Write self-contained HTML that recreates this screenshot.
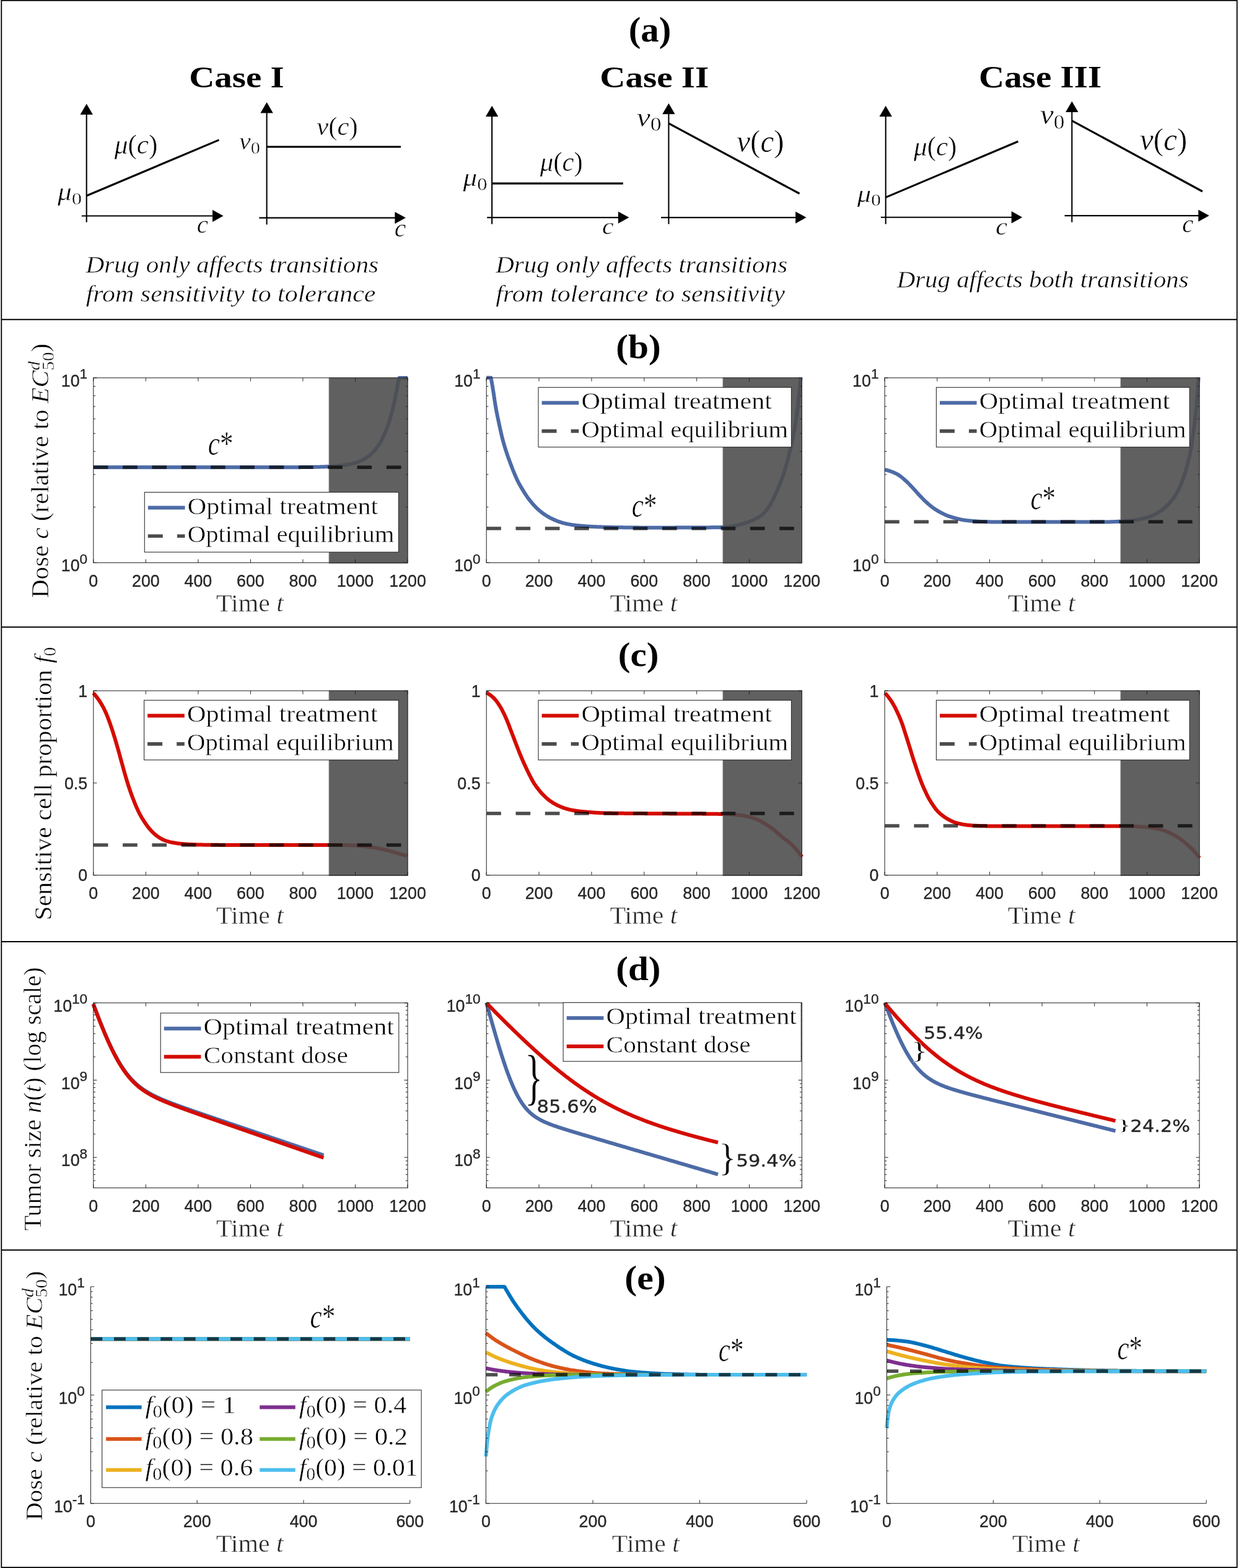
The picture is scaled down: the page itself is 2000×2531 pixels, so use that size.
<!DOCTYPE html><html><head><meta charset="utf-8"><title>Figure</title><style>html,body{margin:0;padding:0;background:#fff}svg{display:block}</style></head><body><svg xmlns="http://www.w3.org/2000/svg" width="2000" height="2531" viewBox="0 0 2000 2531"><rect width="2000" height="2531" fill="#fff"/><rect x="2.3" y="0.8" width="1994.5" height="2529.2" fill="none" stroke="#000" stroke-width="1.8"/>
<line x1="2.30" y1="515.80" x2="1996.80" y2="515.80" stroke="#000" stroke-width="1.9"/>
<line x1="2.30" y1="1012.20" x2="1996.80" y2="1012.20" stroke="#000" stroke-width="1.9"/>
<line x1="2.30" y1="1520.00" x2="1996.80" y2="1520.00" stroke="#000" stroke-width="1.9"/>
<line x1="2.30" y1="2017.70" x2="1996.80" y2="2017.70" stroke="#000" stroke-width="1.9"/>
<text transform="translate(1014.65,66.78) scale(1.0446,1)" fill="#000"><tspan x="0.00" y="0.00" style="font-family:'Liberation Serif';font-size:56.37px;font-weight:bold">(a)</tspan></text>
<text transform="translate(994.23,577.67) scale(1.0617,1)" fill="#000"><tspan x="0.00" y="0.00" style="font-family:'Liberation Serif';font-size:55.93px;font-weight:bold">(b)</tspan></text>
<text transform="translate(997.74,1075.04) scale(1.0734,1)" fill="#000"><tspan x="0.00" y="0.00" style="font-family:'Liberation Serif';font-size:55.16px;font-weight:bold">(c)</tspan></text>
<text transform="translate(994.24,1581.82) scale(1.0695,1)" fill="#000"><tspan x="0.00" y="0.00" style="font-family:'Liberation Serif';font-size:55.27px;font-weight:bold">(d)</tspan></text>
<text transform="translate(1008.20,2080.55) scale(1.0773,1)" fill="#000"><tspan x="0.00" y="0.00" style="font-family:'Liberation Serif';font-size:55.60px;font-weight:bold">(e)</tspan></text>
<text transform="translate(305.25,141.31) scale(1.1532,1)" fill="#000"><tspan x="0.00" y="0.00" style="font-family:'Liberation Serif';font-size:49.40px;font-weight:bold">Case I</tspan></text>
<text transform="translate(968.25,141.40) scale(1.1523,1)" fill="#000"><tspan x="0.00" y="0.00" style="font-family:'Liberation Serif';font-size:49.55px;font-weight:bold">Case II</tspan></text>
<text transform="translate(1580.05,141.40) scale(1.1382,1)" fill="#000"><tspan x="0.00" y="0.00" style="font-family:'Liberation Serif';font-size:50.15px;font-weight:bold">Case III</tspan></text>
<line x1="139.70" y1="358.70" x2="139.70" y2="184.60" stroke="#000" stroke-width="2.1"/>
<line x1="131.80" y1="348.50" x2="343.50" y2="348.50" stroke="#000" stroke-width="2.1"/>
<polygon points="139.70,167.60 129.50,185.10 149.90,185.10" fill="#000"/>
<polygon points="360.50,348.50 343.00,338.81 343.00,358.19" fill="#000"/>
<line x1="430.60" y1="362.50" x2="430.60" y2="181.90" stroke="#000" stroke-width="2.1"/>
<line x1="418.30" y1="351.60" x2="637.90" y2="351.60" stroke="#000" stroke-width="2.1"/>
<polygon points="430.60,164.90 420.40,182.40 440.80,182.40" fill="#000"/>
<polygon points="654.90,351.60 637.40,341.91 637.40,361.29" fill="#000"/>
<line x1="794.10" y1="361.70" x2="794.10" y2="187.70" stroke="#000" stroke-width="2.1"/>
<line x1="786.20" y1="351.10" x2="998.40" y2="351.10" stroke="#000" stroke-width="2.1"/>
<polygon points="794.10,170.70 783.90,188.20 804.30,188.20" fill="#000"/>
<polygon points="1015.40,351.10 997.90,341.41 997.90,360.79" fill="#000"/>
<line x1="1079.40" y1="361.70" x2="1079.40" y2="183.70" stroke="#000" stroke-width="2.1"/>
<line x1="1067.10" y1="351.10" x2="1284.60" y2="351.10" stroke="#000" stroke-width="2.1"/>
<polygon points="1079.40,166.70 1069.20,184.20 1089.60,184.20" fill="#000"/>
<polygon points="1301.60,351.10 1284.10,341.41 1284.10,360.79" fill="#000"/>
<line x1="1429.70" y1="361.70" x2="1429.70" y2="187.70" stroke="#000" stroke-width="2.1"/>
<line x1="1421.80" y1="350.80" x2="1633.20" y2="350.80" stroke="#000" stroke-width="2.1"/>
<polygon points="1429.70,170.70 1419.50,188.20 1439.90,188.20" fill="#000"/>
<polygon points="1650.20,350.80 1632.70,341.11 1632.70,360.49" fill="#000"/>
<line x1="1730.30" y1="358.70" x2="1730.30" y2="180.50" stroke="#000" stroke-width="2.1"/>
<line x1="1718.50" y1="348.10" x2="1934.90" y2="348.10" stroke="#000" stroke-width="2.1"/>
<polygon points="1730.30,163.50 1720.10,181.00 1740.50,181.00" fill="#000"/>
<polygon points="1951.90,348.10 1934.40,338.41 1934.40,357.79" fill="#000"/>
<line x1="139.70" y1="316.00" x2="353.50" y2="225.90" stroke="#000" stroke-width="3.2"/>
<line x1="430.60" y1="237.00" x2="647.00" y2="237.00" stroke="#000" stroke-width="3.2"/>
<line x1="794.10" y1="296.10" x2="1005.80" y2="296.10" stroke="#000" stroke-width="3.2"/>
<line x1="1079.40" y1="199.20" x2="1290.50" y2="312.50" stroke="#000" stroke-width="3.2"/>
<line x1="1429.70" y1="318.60" x2="1643.50" y2="228.20" stroke="#000" stroke-width="3.2"/>
<line x1="1730.30" y1="194.80" x2="1941.00" y2="309.00" stroke="#000" stroke-width="3.2"/>
<text transform="translate(184.70,248.08) scale(0.9677,1)" fill="#000" stroke="#fff" stroke-width="0.5"><tspan x="0.00" y="0.00" style="font-family:'Liberation Serif';font-size:44.73px;font-style:italic">μ</tspan><tspan x="22.45" y="0.00" style="font-family:'Liberation Serif';font-size:44.73px">(</tspan><tspan x="37.35" y="0.00" style="font-family:'Liberation Serif';font-size:44.73px;font-style:italic">c</tspan><tspan x="57.20" y="0.00" style="font-family:'Liberation Serif';font-size:44.73px">)</tspan></text>
<text transform="translate(511.36,217.54) scale(0.9902,1)" fill="#000" stroke="#fff" stroke-width="0.5"><tspan x="0.00" y="0.00" style="font-family:'Liberation Serif';font-size:43.08px;font-style:italic">ν</tspan><tspan x="19.12" y="0.00" style="font-family:'Liberation Serif';font-size:43.08px">(</tspan><tspan x="33.47" y="0.00" style="font-family:'Liberation Serif';font-size:43.08px;font-style:italic">c</tspan><tspan x="52.58" y="0.00" style="font-family:'Liberation Serif';font-size:43.08px">)</tspan></text>
<text transform="translate(871.70,276.23) scale(0.9735,1)" fill="#000" stroke="#fff" stroke-width="0.5"><tspan x="0.00" y="0.00" style="font-family:'Liberation Serif';font-size:44.07px;font-style:italic">μ</tspan><tspan x="22.12" y="0.00" style="font-family:'Liberation Serif';font-size:44.07px">(</tspan><tspan x="36.80" y="0.00" style="font-family:'Liberation Serif';font-size:44.07px;font-style:italic">c</tspan><tspan x="56.35" y="0.00" style="font-family:'Liberation Serif';font-size:44.07px">)</tspan></text>
<text transform="translate(1189.26,245.06) scale(0.9729,1)" fill="#000" stroke="#fff" stroke-width="0.5"><tspan x="0.00" y="0.00" style="font-family:'Liberation Serif';font-size:50.44px;font-style:italic">ν</tspan><tspan x="22.39" y="0.00" style="font-family:'Liberation Serif';font-size:50.44px">(</tspan><tspan x="39.19" y="0.00" style="font-family:'Liberation Serif';font-size:50.44px;font-style:italic">c</tspan><tspan x="61.57" y="0.00" style="font-family:'Liberation Serif';font-size:50.44px">)</tspan></text>
<text transform="translate(1475.00,250.63) scale(0.9778,1)" fill="#000" stroke="#fff" stroke-width="0.5"><tspan x="0.00" y="0.00" style="font-family:'Liberation Serif';font-size:44.07px;font-style:italic">μ</tspan><tspan x="22.12" y="0.00" style="font-family:'Liberation Serif';font-size:44.07px">(</tspan><tspan x="36.80" y="0.00" style="font-family:'Liberation Serif';font-size:44.07px;font-style:italic">c</tspan><tspan x="56.35" y="0.00" style="font-family:'Liberation Serif';font-size:44.07px">)</tspan></text>
<text transform="translate(1840.06,241.67) scale(0.9850,1)" fill="#000" stroke="#fff" stroke-width="0.5"><tspan x="0.00" y="0.00" style="font-family:'Liberation Serif';font-size:49.89px;font-style:italic">ν</tspan><tspan x="22.14" y="0.00" style="font-family:'Liberation Serif';font-size:49.89px">(</tspan><tspan x="38.76" y="0.00" style="font-family:'Liberation Serif';font-size:49.89px;font-style:italic">c</tspan><tspan x="60.90" y="0.00" style="font-family:'Liberation Serif';font-size:49.89px">)</tspan></text>
<text transform="translate(92.90,323.26) scale(1.1556,1)" fill="#000" stroke="#fff" stroke-width="0.5"><tspan x="0.00" y="0.00" style="font-family:'Liberation Serif';font-size:39.26px;font-style:italic">μ</tspan><tspan x="19.71" y="6.28" style="font-family:'Liberation Serif';font-size:28.27px">0</tspan></text>
<text transform="translate(386.07,241.32) scale(1.0901,1)" fill="#000" stroke="#fff" stroke-width="0.5"><tspan x="0.00" y="0.00" style="font-family:'Liberation Serif';font-size:38.74px;font-style:italic">ν</tspan><tspan x="17.20" y="6.20" style="font-family:'Liberation Serif';font-size:27.90px">0</tspan></text>
<text transform="translate(747.60,300.30) scale(1.1188,1)" fill="#000" stroke="#fff" stroke-width="0.5"><tspan x="0.00" y="0.00" style="font-family:'Liberation Serif';font-size:40.44px;font-style:italic">μ</tspan><tspan x="20.30" y="6.47" style="font-family:'Liberation Serif';font-size:29.12px">0</tspan></text>
<text transform="translate(1027.65,204.01) scale(1.1101,1)" fill="#000" stroke="#fff" stroke-width="0.5"><tspan x="0.00" y="0.00" style="font-family:'Liberation Serif';font-size:44.80px;font-style:italic">ν</tspan><tspan x="19.88" y="7.17" style="font-family:'Liberation Serif';font-size:32.26px">0</tspan></text>
<text transform="translate(1383.70,326.02) scale(1.1460,1)" fill="#000" stroke="#fff" stroke-width="0.5"><tspan x="0.00" y="0.00" style="font-family:'Liberation Serif';font-size:38.96px;font-style:italic">μ</tspan><tspan x="19.56" y="6.23" style="font-family:'Liberation Serif';font-size:28.05px">0</tspan></text>
<text transform="translate(1678.96,200.27) scale(1.0643,1)" fill="#000" stroke="#fff" stroke-width="0.5"><tspan x="0.00" y="0.00" style="font-family:'Liberation Serif';font-size:46.24px;font-style:italic">ν</tspan><tspan x="20.52" y="7.40" style="font-family:'Liberation Serif';font-size:33.29px">0</tspan></text>
<text transform="translate(317.66,376.20) scale(1.0255,1)" fill="#000" stroke="#fff" stroke-width="0.5"><tspan x="0.00" y="0.00" style="font-family:'Liberation Serif';font-size:40.21px;font-style:italic">c</tspan></text>
<text transform="translate(636.64,381.50) scale(1.0386,1)" fill="#000" stroke="#fff" stroke-width="0.5"><tspan x="0.00" y="0.00" style="font-family:'Liberation Serif';font-size:40.42px;font-style:italic">c</tspan></text>
<text transform="translate(972.04,378.01) scale(1.0891,1)" fill="#000" stroke="#fff" stroke-width="0.5"><tspan x="0.00" y="0.00" style="font-family:'Liberation Serif';font-size:38.54px;font-style:italic">c</tspan></text>
<text transform="translate(1607.13,378.80) scale(1.0562,1)" fill="#000" stroke="#fff" stroke-width="0.5"><tspan x="0.00" y="0.00" style="font-family:'Liberation Serif';font-size:40.21px;font-style:italic">c</tspan></text>
<text transform="translate(1908.16,375.31) scale(1.0528,1)" fill="#000" stroke="#fff" stroke-width="0.5"><tspan x="0.00" y="0.00" style="font-family:'Liberation Serif';font-size:39.17px;font-style:italic">c</tspan></text>
<text transform="translate(138.41,440.26) scale(1.0621,1)" fill="#000" stroke="#fff" stroke-width="0.5"><tspan x="0.00" y="0.00" style="font-family:'Liberation Serif';font-size:38.80px;font-style:italic">Drug only affects transitions</tspan></text>
<text transform="translate(138.68,487.29) scale(1.1120,1)" fill="#000" stroke="#fff" stroke-width="0.5"><tspan x="0.00" y="0.00" style="font-family:'Liberation Serif';font-size:37.72px;font-style:italic">from sensitivity to tolerance</tspan></text>
<text transform="translate(800.21,440.26) scale(1.0580,1)" fill="#000" stroke="#fff" stroke-width="0.5"><tspan x="0.00" y="0.00" style="font-family:'Liberation Serif';font-size:38.80px;font-style:italic">Drug only affects transitions</tspan></text>
<text transform="translate(800.28,487.29) scale(1.1093,1)" fill="#000" stroke="#fff" stroke-width="0.5"><tspan x="0.00" y="0.00" style="font-family:'Liberation Serif';font-size:37.72px;font-style:italic">from tolerance to sensitivity</tspan></text>
<text transform="translate(1447.71,463.60) scale(1.0712,1)" fill="#000" stroke="#fff" stroke-width="0.5"><tspan x="0.00" y="0.00" style="font-family:'Liberation Serif';font-size:38.15px;font-style:italic">Drug affects both transitions</tspan></text>
<path d="M150.80,754.30 L152.31,754.30 L153.81,754.30 L155.32,754.30 L156.82,754.30 L158.33,754.30 L159.83,754.30 L161.34,754.30 L162.84,754.30 L164.35,754.30 L165.85,754.30 L167.36,754.30 L168.86,754.30 L170.37,754.30 L171.87,754.30 L173.38,754.30 L174.88,754.30 L176.39,754.30 L177.89,754.30 L179.40,754.30 L180.90,754.30 L182.41,754.30 L183.91,754.30 L185.42,754.30 L186.92,754.30 L188.43,754.30 L189.93,754.30 L191.44,754.30 L192.94,754.30 L194.45,754.30 L195.95,754.30 L197.46,754.30 L198.96,754.30 L200.47,754.30 L201.97,754.30 L203.48,754.30 L204.98,754.30 L206.49,754.30 L207.99,754.30 L209.50,754.30 L211.00,754.30 L212.51,754.30 L214.01,754.30 L215.52,754.30 L217.02,754.30 L218.53,754.30 L220.03,754.30 L221.54,754.30 L223.04,754.30 L224.55,754.30 L226.05,754.30 L227.56,754.30 L229.06,754.30 L230.57,754.30 L232.07,754.30 L233.58,754.30 L235.08,754.30 L236.59,754.30 L238.09,754.30 L239.60,754.30 L241.10,754.30 L242.61,754.30 L244.11,754.30 L245.62,754.30 L247.12,754.30 L248.63,754.30 L250.13,754.30 L251.64,754.30 L253.14,754.30 L254.65,754.30 L256.15,754.30 L257.66,754.30 L259.16,754.30 L260.67,754.30 L262.17,754.30 L263.68,754.30 L265.18,754.30 L266.69,754.30 L268.19,754.30 L269.70,754.30 L271.20,754.30 L272.71,754.30 L274.21,754.30 L275.72,754.30 L277.22,754.30 L278.73,754.30 L280.23,754.30 L281.74,754.30 L283.24,754.30 L284.75,754.30 L286.25,754.30 L287.76,754.30 L289.26,754.30 L290.77,754.30 L292.27,754.30 L293.78,754.30 L295.28,754.30 L296.79,754.30 L298.29,754.30 L299.80,754.30 L301.30,754.30 L302.81,754.30 L304.31,754.30 L305.82,754.30 L307.32,754.30 L308.83,754.30 L310.33,754.30 L311.84,754.30 L313.34,754.30 L314.85,754.30 L316.35,754.30 L317.86,754.30 L319.36,754.30 L320.87,754.30 L322.38,754.30 L323.88,754.30 L325.39,754.30 L326.89,754.30 L328.40,754.30 L329.90,754.30 L331.41,754.30 L332.91,754.30 L334.42,754.30 L335.92,754.30 L337.43,754.30 L338.93,754.30 L340.44,754.30 L341.94,754.30 L343.45,754.30 L344.95,754.30 L346.46,754.30 L347.96,754.30 L349.47,754.30 L350.97,754.30 L352.48,754.30 L353.98,754.30 L355.49,754.30 L356.99,754.30 L358.50,754.30 L360.00,754.30 L361.51,754.30 L363.01,754.30 L364.52,754.30 L366.02,754.30 L367.53,754.30 L369.03,754.30 L370.54,754.30 L372.04,754.30 L373.55,754.30 L375.05,754.30 L376.56,754.30 L378.06,754.30 L379.57,754.30 L381.07,754.30 L382.58,754.30 L384.08,754.30 L385.59,754.30 L387.09,754.30 L388.60,754.30 L390.10,754.30 L391.61,754.30 L393.11,754.30 L394.62,754.30 L396.12,754.30 L397.63,754.30 L399.13,754.30 L400.64,754.30 L402.14,754.30 L403.65,754.29 L405.15,754.29 L406.66,754.29 L408.16,754.29 L409.67,754.29 L411.17,754.29 L412.68,754.29 L414.18,754.29 L415.69,754.29 L417.19,754.29 L418.70,754.29 L420.20,754.29 L421.71,754.29 L423.21,754.29 L424.72,754.29 L426.22,754.29 L427.73,754.29 L429.23,754.28 L430.74,754.28 L432.24,754.28 L433.75,754.28 L435.25,754.28 L436.76,754.28 L438.26,754.28 L439.77,754.28 L441.27,754.27 L442.78,754.27 L444.28,754.27 L445.79,754.27 L447.29,754.27 L448.80,754.26 L450.30,754.26 L451.81,754.26 L453.31,754.26 L454.82,754.25 L456.32,754.25 L457.83,754.25 L459.33,754.24 L460.84,754.24 L462.34,754.24 L463.85,754.23 L465.35,754.23 L466.86,754.22 L468.36,754.22 L469.87,754.21 L471.37,754.21 L472.88,754.20 L474.38,754.19 L475.89,754.19 L477.39,754.18 L478.90,754.17 L480.40,754.16 L481.91,754.15 L483.41,754.14 L484.92,754.13 L486.42,754.12 L487.93,754.11 L489.44,754.10 L490.94,754.08 L492.45,754.07 L493.95,754.06 L495.46,754.04 L496.96,754.02 L498.47,754.00 L499.97,753.98 L501.48,753.96 L502.98,753.94 L504.49,753.92 L505.99,753.89 L507.50,753.86 L509.00,753.84 L510.51,753.81 L512.01,753.77 L513.52,753.74 L515.02,753.70 L516.53,753.66 L518.03,753.62 L519.54,753.57 L521.04,753.53 L522.55,753.47 L524.05,753.42 L525.56,753.36 L527.06,753.30 L528.57,753.23 L530.07,753.16 L531.58,753.09 L533.08,753.01 L534.59,752.92 L536.09,752.83 L537.60,752.73 L539.10,752.63 L540.61,752.52 L542.11,752.40 L543.62,752.28 L545.12,752.14 L546.63,752.00 L548.13,751.85 L549.64,751.68 L551.14,751.51 L552.65,751.33 L554.15,751.13 L555.66,750.92 L557.16,750.70 L558.67,750.46 L560.17,750.21 L561.68,749.93 L563.18,749.65 L564.69,749.34 L566.19,749.01 L567.70,748.66 L569.20,748.29 L570.71,747.89 L572.21,747.47 L573.72,747.01 L575.22,746.53 L576.73,746.02 L578.23,745.47 L579.74,744.89 L581.24,744.26 L582.75,743.60 L584.25,742.89 L585.76,742.14 L587.26,741.33 L588.77,740.47 L590.27,739.56 L591.78,738.58 L593.28,737.55 L594.79,736.44 L596.29,735.26 L597.80,734.00 L599.30,732.65 L600.81,731.22 L602.31,729.70 L603.82,728.07 L605.32,726.33 L606.83,724.48 L608.33,722.51 L609.84,720.41 L611.34,718.17 L612.85,715.78 L614.35,713.23 L615.86,710.51 L617.36,707.62 L618.87,704.53 L620.37,701.24 L621.88,697.73 L623.38,693.99 L624.89,690.00 L626.39,685.74 L627.90,681.21 L629.40,676.38 L630.91,671.22 L632.41,665.73 L633.92,659.87 L635.42,653.62 L636.93,646.96 L638.43,639.86 L639.94,632.30 L641.44,624.23 L642.95,615.62 L644.45,609.90 L645.96,609.90 L647.46,609.90 L648.97,609.90 L650.47,609.90 L651.98,609.90 L653.48,609.90 L654.99,609.90 L656.49,609.90 L658.00,609.90" fill="none" stroke="#4d6ba6" stroke-width="6.0" stroke-linejoin="round"/>
<rect x="531.20" y="609.90" width="126.80" height="299.20" fill="#4d4d4d" fill-opacity="0.895" stroke="#6a6a6a" stroke-width="1"/>
<line x1="150.80" y1="754.30" x2="658.00" y2="754.30" stroke="#000" stroke-opacity="0.7" stroke-width="5.6" stroke-dasharray="23.65 23.65"/>
<line x1="150.80" y1="908.30" x2="150.80" y2="902.70" stroke="#262626" stroke-width="1.0"/>
<line x1="150.80" y1="609.90" x2="150.80" y2="615.50" stroke="#262626" stroke-width="1.0"/>
<line x1="235.33" y1="908.30" x2="235.33" y2="902.70" stroke="#262626" stroke-width="1.0"/>
<line x1="235.33" y1="609.90" x2="235.33" y2="615.50" stroke="#262626" stroke-width="1.0"/>
<line x1="319.87" y1="908.30" x2="319.87" y2="902.70" stroke="#262626" stroke-width="1.0"/>
<line x1="319.87" y1="609.90" x2="319.87" y2="615.50" stroke="#262626" stroke-width="1.0"/>
<line x1="404.40" y1="908.30" x2="404.40" y2="902.70" stroke="#262626" stroke-width="1.0"/>
<line x1="404.40" y1="609.90" x2="404.40" y2="615.50" stroke="#262626" stroke-width="1.0"/>
<line x1="488.93" y1="908.30" x2="488.93" y2="902.70" stroke="#262626" stroke-width="1.0"/>
<line x1="488.93" y1="609.90" x2="488.93" y2="615.50" stroke="#262626" stroke-width="1.0"/>
<line x1="573.47" y1="908.30" x2="573.47" y2="902.70" stroke="#262626" stroke-width="1.0"/>
<line x1="573.47" y1="609.90" x2="573.47" y2="615.50" stroke="#262626" stroke-width="1.0"/>
<line x1="658.00" y1="908.30" x2="658.00" y2="902.70" stroke="#262626" stroke-width="1.0"/>
<line x1="658.00" y1="609.90" x2="658.00" y2="615.50" stroke="#262626" stroke-width="1.0"/>
<line x1="150.80" y1="908.30" x2="156.40" y2="908.30" stroke="#262626" stroke-width="1.0"/>
<line x1="658.00" y1="908.30" x2="652.40" y2="908.30" stroke="#262626" stroke-width="1.0"/>
<line x1="150.80" y1="609.90" x2="156.40" y2="609.90" stroke="#262626" stroke-width="1.0"/>
<line x1="658.00" y1="609.90" x2="652.40" y2="609.90" stroke="#262626" stroke-width="1.0"/>
<line x1="150.80" y1="818.47" x2="154.00" y2="818.47" stroke="#262626" stroke-width="1.0"/>
<line x1="658.00" y1="818.47" x2="654.80" y2="818.47" stroke="#262626" stroke-width="1.0"/>
<line x1="150.80" y1="765.93" x2="154.00" y2="765.93" stroke="#262626" stroke-width="1.0"/>
<line x1="658.00" y1="765.93" x2="654.80" y2="765.93" stroke="#262626" stroke-width="1.0"/>
<line x1="150.80" y1="728.65" x2="154.00" y2="728.65" stroke="#262626" stroke-width="1.0"/>
<line x1="658.00" y1="728.65" x2="654.80" y2="728.65" stroke="#262626" stroke-width="1.0"/>
<line x1="150.80" y1="699.73" x2="154.00" y2="699.73" stroke="#262626" stroke-width="1.0"/>
<line x1="658.00" y1="699.73" x2="654.80" y2="699.73" stroke="#262626" stroke-width="1.0"/>
<line x1="150.80" y1="676.10" x2="154.00" y2="676.10" stroke="#262626" stroke-width="1.0"/>
<line x1="658.00" y1="676.10" x2="654.80" y2="676.10" stroke="#262626" stroke-width="1.0"/>
<line x1="150.80" y1="656.12" x2="154.00" y2="656.12" stroke="#262626" stroke-width="1.0"/>
<line x1="658.00" y1="656.12" x2="654.80" y2="656.12" stroke="#262626" stroke-width="1.0"/>
<line x1="150.80" y1="638.82" x2="154.00" y2="638.82" stroke="#262626" stroke-width="1.0"/>
<line x1="658.00" y1="638.82" x2="654.80" y2="638.82" stroke="#262626" stroke-width="1.0"/>
<line x1="150.80" y1="623.55" x2="154.00" y2="623.55" stroke="#262626" stroke-width="1.0"/>
<line x1="658.00" y1="623.55" x2="654.80" y2="623.55" stroke="#262626" stroke-width="1.0"/>
<rect x="150.80" y="609.90" width="507.20" height="298.40" fill="none" stroke="#262626" stroke-width="1.05"/>
<rect x="233.30" y="794.60" width="410.10" height="96.60" fill="#fff" stroke="#262626" stroke-width="1.05"/>
<line x1="238.90" y1="819.60" x2="298.50" y2="819.60" stroke="#4d6ba6" stroke-width="6.0"/>
<text transform="translate(302.72,829.70) scale(1.0941,1)" fill="#000" stroke="#fff" stroke-width="0.5"><tspan x="0.00" y="0.00" style="font-family:'Liberation Serif';font-size:38.50px">Optimal treatment</tspan></text>
<line x1="238.80" y1="865.20" x2="298.50" y2="865.20" stroke="#000" stroke-opacity="0.7" stroke-width="5.6" stroke-dasharray="24 23.1"/>
<text transform="translate(302.77,875.20) scale(1.0581,1)" fill="#000" stroke="#fff" stroke-width="0.5"><tspan x="0.00" y="0.00" style="font-family:'Liberation Serif';font-size:38.50px">Optimal equilibrium</tspan></text>
<text transform="translate(143.35,946.50)" fill="#262626" stroke="#262626" stroke-width="0.35"><tspan x="0.00" y="0.00" style="font-family:'Liberation Sans';font-size:26.80px">0</tspan></text>
<text transform="translate(212.98,946.50)" fill="#262626" stroke="#262626" stroke-width="0.35"><tspan x="0.00" y="0.00" style="font-family:'Liberation Sans';font-size:26.80px">200</tspan></text>
<text transform="translate(297.51,946.50)" fill="#262626" stroke="#262626" stroke-width="0.35"><tspan x="0.00" y="0.00" style="font-family:'Liberation Sans';font-size:26.80px">400</tspan></text>
<text transform="translate(382.04,946.50)" fill="#262626" stroke="#262626" stroke-width="0.35"><tspan x="0.00" y="0.00" style="font-family:'Liberation Sans';font-size:26.80px">600</tspan></text>
<text transform="translate(466.58,946.50)" fill="#262626" stroke="#262626" stroke-width="0.35"><tspan x="0.00" y="0.00" style="font-family:'Liberation Sans';font-size:26.80px">800</tspan></text>
<text transform="translate(543.66,946.50)" fill="#262626" stroke="#262626" stroke-width="0.35"><tspan x="0.00" y="0.00" style="font-family:'Liberation Sans';font-size:26.80px">1000</tspan></text>
<text transform="translate(628.19,946.50)" fill="#262626" stroke="#262626" stroke-width="0.35"><tspan x="0.00" y="0.00" style="font-family:'Liberation Sans';font-size:26.80px">1200</tspan></text>
<text transform="translate(98.82,623.90)" fill="#262626" stroke="#262626" stroke-width="0.35"><tspan x="0.00" y="0.00" style="font-family:'Liberation Sans';font-size:26.80px">10</tspan><tspan x="29.81" y="-12.70" style="font-family:'Liberation Sans';font-size:22.60px">1</tspan></text>
<text transform="translate(98.82,922.30)" fill="#262626" stroke="#262626" stroke-width="0.35"><tspan x="0.00" y="0.00" style="font-family:'Liberation Sans';font-size:26.80px">10</tspan><tspan x="29.81" y="-12.70" style="font-family:'Liberation Sans';font-size:22.60px">0</tspan></text>
<text transform="translate(349.01,986.81) scale(1.0709,1)" fill="#262626" stroke="#fff" stroke-width="0.5"><tspan x="0.00" y="0.00" style="font-family:'Liberation Serif';font-size:39.10px">Time </tspan><tspan x="90.92" y="0.00" style="font-family:'Liberation Serif';font-size:39.10px;font-style:italic">t</tspan></text>
<text transform="translate(335.81,734.05) scale(0.7889,1)" fill="#000" stroke="#fff" stroke-width="0.5"><tspan x="0.00" y="0.00" style="font-family:'Liberation Serif';font-size:54.59px;font-style:italic">c</tspan><tspan x="24.23" y="0.00" style="font-family:'Liberation Serif';font-size:54.59px">*</tspan></text>
<path d="M785.20,609.70 L792.50,609.70 L794.01,618.12 L795.51,627.00 L797.02,636.50 L798.53,646.83 L800.03,656.38 L801.54,664.51 L803.04,671.97 L804.55,679.09 L806.06,686.18 L807.56,693.19 L809.07,699.94 L810.58,706.25 L812.08,712.00 L813.59,717.33 L815.09,722.34 L816.60,727.12 L818.11,731.74 L819.61,736.16 L821.12,740.39 L822.63,744.50 L824.13,748.56 L825.64,752.57 L827.15,756.50 L828.65,760.32 L830.16,763.98 L831.66,767.53 L833.17,770.98 L834.68,774.27 L836.18,777.37 L837.69,780.25 L839.20,782.96 L840.70,785.56 L842.21,788.11 L843.72,790.64 L845.22,793.13 L846.73,795.56 L848.23,797.90 L849.74,800.15 L851.25,802.34 L852.75,804.45 L854.26,806.46 L855.77,808.35 L857.27,810.19 L858.78,811.98 L860.28,813.72 L861.79,815.40 L863.30,817.02 L864.80,818.58 L866.31,820.07 L867.82,821.48 L869.32,822.85 L870.83,824.17 L872.34,825.45 L873.84,826.68 L875.35,827.86 L876.85,828.99 L878.36,830.06 L879.87,831.08 L881.37,832.04 L882.88,832.97 L884.39,833.85 L885.89,834.70 L887.40,835.52 L888.90,836.30 L890.41,837.05 L891.92,837.77 L893.42,838.47 L894.93,839.15 L896.44,839.82 L897.94,840.46 L899.45,841.07 L900.96,841.65 L902.46,842.20 L903.97,842.71 L905.47,843.17 L906.98,843.62 L908.49,844.04 L909.99,844.44 L911.50,844.82 L913.01,845.18 L914.51,845.52 L916.02,845.83 L917.52,846.12 L919.03,846.40 L920.54,846.66 L922.04,846.92 L923.55,847.15 L925.06,847.38 L926.56,847.59 L928.07,847.78 L929.58,847.96 L931.08,848.13 L932.59,848.29 L934.09,848.44 L935.60,848.59 L937.11,848.73 L938.61,848.86 L940.12,848.99 L941.63,849.11 L943.13,849.23 L944.64,849.34 L946.15,849.44 L947.65,849.54 L949.16,849.63 L950.66,849.72 L952.17,849.81 L953.68,849.89 L955.18,849.97 L956.69,850.05 L958.20,850.13 L959.70,850.20 L961.21,850.26 L962.71,850.33 L964.22,850.39 L965.73,850.44 L967.23,850.49 L968.74,850.54 L970.25,850.59 L971.75,850.64 L973.26,850.69 L974.77,850.74 L976.27,850.78 L977.78,850.82 L979.28,850.87 L980.79,850.91 L982.30,850.95 L983.80,850.99 L985.31,851.03 L986.82,851.06 L988.32,851.10 L989.83,851.13 L991.33,851.16 L992.84,851.19 L994.35,851.21 L995.85,851.24 L997.36,851.26 L998.87,851.29 L1000.37,851.30 L1001.88,851.32 L1003.39,851.34 L1004.89,851.36 L1006.40,851.38 L1007.90,851.40 L1009.41,851.41 L1010.92,851.43 L1012.42,851.45 L1013.93,851.47 L1015.44,851.48 L1016.94,851.50 L1018.45,851.52 L1019.96,851.53 L1021.46,851.55 L1022.97,851.56 L1024.47,851.57 L1025.98,851.59 L1027.49,851.60 L1028.99,851.61 L1030.50,851.62 L1032.01,851.63 L1033.51,851.64 L1035.02,851.65 L1036.52,851.66 L1038.03,851.67 L1039.54,851.68 L1041.04,851.68 L1042.55,851.69 L1044.06,851.69 L1045.56,851.70 L1047.07,851.70 L1048.58,851.70 L1050.08,851.70 L1051.59,851.70 L1053.09,851.70 L1054.60,851.70 L1056.11,851.70 L1057.61,851.70 L1059.12,851.69 L1060.63,851.69 L1062.13,851.69 L1063.64,851.69 L1065.14,851.69 L1066.65,851.68 L1068.16,851.68 L1069.66,851.68 L1071.17,851.67 L1072.68,851.67 L1074.18,851.67 L1075.69,851.66 L1077.20,851.66 L1078.70,851.66 L1080.21,851.65 L1081.71,851.65 L1083.22,851.65 L1084.73,851.64 L1086.23,851.64 L1087.74,851.63 L1089.25,851.63 L1090.75,851.62 L1092.26,851.62 L1093.77,851.62 L1095.27,851.61 L1096.78,851.61 L1098.28,851.60 L1099.79,851.60 L1101.30,851.60 L1102.80,851.59 L1104.31,851.59 L1105.82,851.59 L1107.32,851.58 L1108.83,851.58 L1110.33,851.57 L1111.84,851.57 L1113.35,851.56 L1114.85,851.56 L1116.36,851.56 L1117.87,851.55 L1119.37,851.55 L1120.88,851.54 L1122.39,851.53 L1123.89,851.53 L1125.40,851.52 L1126.90,851.52 L1128.41,851.51 L1129.92,851.50 L1131.42,851.49 L1132.93,851.48 L1134.44,851.48 L1135.94,851.47 L1137.45,851.46 L1138.95,851.45 L1140.46,851.43 L1141.97,851.42 L1143.47,851.41 L1144.98,851.39 L1146.49,851.38 L1147.99,851.36 L1149.50,851.34 L1151.01,851.32 L1152.51,851.30 L1154.02,851.28 L1155.52,851.26 L1157.03,851.23 L1158.54,851.21 L1160.04,851.18 L1161.55,851.15 L1163.06,851.11 L1164.56,851.08 L1166.07,851.02 L1167.57,850.93 L1169.08,850.82 L1170.59,850.70 L1172.09,850.55 L1173.60,850.39 L1175.11,850.21 L1176.61,850.02 L1178.12,849.82 L1179.63,849.61 L1181.13,849.39 L1182.64,849.16 L1184.14,848.92 L1185.65,848.69 L1187.16,848.44 L1188.66,848.16 L1190.17,847.84 L1191.68,847.50 L1193.18,847.12 L1194.69,846.73 L1196.20,846.30 L1197.70,845.87 L1199.21,845.41 L1200.71,844.94 L1202.22,844.46 L1203.73,843.98 L1205.23,843.49 L1206.74,842.98 L1208.25,842.45 L1209.75,841.89 L1211.26,841.30 L1212.76,840.68 L1214.27,840.04 L1215.78,839.36 L1217.28,838.66 L1218.79,837.92 L1220.30,837.17 L1221.80,836.37 L1223.31,835.54 L1224.82,834.64 L1226.32,833.69 L1227.83,832.66 L1229.33,831.54 L1230.84,830.32 L1232.35,828.92 L1233.85,827.35 L1235.36,825.64 L1236.87,823.80 L1238.37,821.86 L1239.88,819.83 L1241.38,817.66 L1242.89,815.28 L1244.40,812.73 L1245.90,810.03 L1247.41,807.20 L1248.92,804.26 L1250.42,801.23 L1251.93,797.99 L1253.44,794.55 L1254.94,790.95 L1256.45,787.26 L1257.95,783.52 L1259.46,779.75 L1260.97,775.88 L1262.47,771.86 L1263.98,767.62 L1265.49,763.10 L1266.99,758.21 L1268.50,753.01 L1270.01,747.61 L1271.51,742.09 L1273.02,736.47 L1274.52,730.67 L1276.03,724.58 L1277.54,718.09 L1279.04,711.19 L1280.55,703.78 L1282.06,695.67 L1283.56,686.50 L1285.07,676.14 L1286.57,665.24 L1288.08,653.85 L1289.59,641.12 L1291.09,626.26 L1292.60,609.40" fill="none" stroke="#4d6ba6" stroke-width="6.0" stroke-linejoin="round"/>
<rect x="1167.10" y="609.90" width="127.30" height="299.20" fill="#4d4d4d" fill-opacity="0.895" stroke="#6a6a6a" stroke-width="1"/>
<line x1="785.20" y1="853.00" x2="1294.40" y2="853.00" stroke="#000" stroke-opacity="0.7" stroke-width="5.6" stroke-dasharray="23.65 23.65"/>
<line x1="785.20" y1="908.30" x2="785.20" y2="902.70" stroke="#262626" stroke-width="1.0"/>
<line x1="785.20" y1="609.90" x2="785.20" y2="615.50" stroke="#262626" stroke-width="1.0"/>
<line x1="870.07" y1="908.30" x2="870.07" y2="902.70" stroke="#262626" stroke-width="1.0"/>
<line x1="870.07" y1="609.90" x2="870.07" y2="615.50" stroke="#262626" stroke-width="1.0"/>
<line x1="954.93" y1="908.30" x2="954.93" y2="902.70" stroke="#262626" stroke-width="1.0"/>
<line x1="954.93" y1="609.90" x2="954.93" y2="615.50" stroke="#262626" stroke-width="1.0"/>
<line x1="1039.80" y1="908.30" x2="1039.80" y2="902.70" stroke="#262626" stroke-width="1.0"/>
<line x1="1039.80" y1="609.90" x2="1039.80" y2="615.50" stroke="#262626" stroke-width="1.0"/>
<line x1="1124.67" y1="908.30" x2="1124.67" y2="902.70" stroke="#262626" stroke-width="1.0"/>
<line x1="1124.67" y1="609.90" x2="1124.67" y2="615.50" stroke="#262626" stroke-width="1.0"/>
<line x1="1209.53" y1="908.30" x2="1209.53" y2="902.70" stroke="#262626" stroke-width="1.0"/>
<line x1="1209.53" y1="609.90" x2="1209.53" y2="615.50" stroke="#262626" stroke-width="1.0"/>
<line x1="1294.40" y1="908.30" x2="1294.40" y2="902.70" stroke="#262626" stroke-width="1.0"/>
<line x1="1294.40" y1="609.90" x2="1294.40" y2="615.50" stroke="#262626" stroke-width="1.0"/>
<line x1="785.20" y1="908.30" x2="790.80" y2="908.30" stroke="#262626" stroke-width="1.0"/>
<line x1="1294.40" y1="908.30" x2="1288.80" y2="908.30" stroke="#262626" stroke-width="1.0"/>
<line x1="785.20" y1="609.90" x2="790.80" y2="609.90" stroke="#262626" stroke-width="1.0"/>
<line x1="1294.40" y1="609.90" x2="1288.80" y2="609.90" stroke="#262626" stroke-width="1.0"/>
<line x1="785.20" y1="818.47" x2="788.40" y2="818.47" stroke="#262626" stroke-width="1.0"/>
<line x1="1294.40" y1="818.47" x2="1291.20" y2="818.47" stroke="#262626" stroke-width="1.0"/>
<line x1="785.20" y1="765.93" x2="788.40" y2="765.93" stroke="#262626" stroke-width="1.0"/>
<line x1="1294.40" y1="765.93" x2="1291.20" y2="765.93" stroke="#262626" stroke-width="1.0"/>
<line x1="785.20" y1="728.65" x2="788.40" y2="728.65" stroke="#262626" stroke-width="1.0"/>
<line x1="1294.40" y1="728.65" x2="1291.20" y2="728.65" stroke="#262626" stroke-width="1.0"/>
<line x1="785.20" y1="699.73" x2="788.40" y2="699.73" stroke="#262626" stroke-width="1.0"/>
<line x1="1294.40" y1="699.73" x2="1291.20" y2="699.73" stroke="#262626" stroke-width="1.0"/>
<line x1="785.20" y1="676.10" x2="788.40" y2="676.10" stroke="#262626" stroke-width="1.0"/>
<line x1="1294.40" y1="676.10" x2="1291.20" y2="676.10" stroke="#262626" stroke-width="1.0"/>
<line x1="785.20" y1="656.12" x2="788.40" y2="656.12" stroke="#262626" stroke-width="1.0"/>
<line x1="1294.40" y1="656.12" x2="1291.20" y2="656.12" stroke="#262626" stroke-width="1.0"/>
<line x1="785.20" y1="638.82" x2="788.40" y2="638.82" stroke="#262626" stroke-width="1.0"/>
<line x1="1294.40" y1="638.82" x2="1291.20" y2="638.82" stroke="#262626" stroke-width="1.0"/>
<line x1="785.20" y1="623.55" x2="788.40" y2="623.55" stroke="#262626" stroke-width="1.0"/>
<line x1="1294.40" y1="623.55" x2="1291.20" y2="623.55" stroke="#262626" stroke-width="1.0"/>
<rect x="785.20" y="609.90" width="509.20" height="298.40" fill="none" stroke="#262626" stroke-width="1.05"/>
<rect x="869.00" y="625.30" width="408.40" height="96.40" fill="#fff" stroke="#262626" stroke-width="1.05"/>
<line x1="874.60" y1="650.30" x2="934.20" y2="650.30" stroke="#4d6ba6" stroke-width="6.0"/>
<text transform="translate(938.42,660.40) scale(1.0941,1)" fill="#000" stroke="#fff" stroke-width="0.5"><tspan x="0.00" y="0.00" style="font-family:'Liberation Serif';font-size:38.50px">Optimal treatment</tspan></text>
<line x1="874.50" y1="695.90" x2="934.20" y2="695.90" stroke="#000" stroke-opacity="0.7" stroke-width="5.6" stroke-dasharray="24 23.1"/>
<text transform="translate(938.47,705.90) scale(1.0581,1)" fill="#000" stroke="#fff" stroke-width="0.5"><tspan x="0.00" y="0.00" style="font-family:'Liberation Serif';font-size:38.50px">Optimal equilibrium</tspan></text>
<text transform="translate(777.75,946.50)" fill="#262626" stroke="#262626" stroke-width="0.35"><tspan x="0.00" y="0.00" style="font-family:'Liberation Sans';font-size:26.80px">0</tspan></text>
<text transform="translate(847.71,946.50)" fill="#262626" stroke="#262626" stroke-width="0.35"><tspan x="0.00" y="0.00" style="font-family:'Liberation Sans';font-size:26.80px">200</tspan></text>
<text transform="translate(932.58,946.50)" fill="#262626" stroke="#262626" stroke-width="0.35"><tspan x="0.00" y="0.00" style="font-family:'Liberation Sans';font-size:26.80px">400</tspan></text>
<text transform="translate(1017.44,946.50)" fill="#262626" stroke="#262626" stroke-width="0.35"><tspan x="0.00" y="0.00" style="font-family:'Liberation Sans';font-size:26.80px">600</tspan></text>
<text transform="translate(1102.31,946.50)" fill="#262626" stroke="#262626" stroke-width="0.35"><tspan x="0.00" y="0.00" style="font-family:'Liberation Sans';font-size:26.80px">800</tspan></text>
<text transform="translate(1179.72,946.50)" fill="#262626" stroke="#262626" stroke-width="0.35"><tspan x="0.00" y="0.00" style="font-family:'Liberation Sans';font-size:26.80px">1000</tspan></text>
<text transform="translate(1264.59,946.50)" fill="#262626" stroke="#262626" stroke-width="0.35"><tspan x="0.00" y="0.00" style="font-family:'Liberation Sans';font-size:26.80px">1200</tspan></text>
<text transform="translate(733.22,623.90)" fill="#262626" stroke="#262626" stroke-width="0.35"><tspan x="0.00" y="0.00" style="font-family:'Liberation Sans';font-size:26.80px">10</tspan><tspan x="29.81" y="-12.70" style="font-family:'Liberation Sans';font-size:22.60px">1</tspan></text>
<text transform="translate(733.22,922.30)" fill="#262626" stroke="#262626" stroke-width="0.35"><tspan x="0.00" y="0.00" style="font-family:'Liberation Sans';font-size:26.80px">10</tspan><tspan x="29.81" y="-12.70" style="font-family:'Liberation Sans';font-size:22.60px">0</tspan></text>
<text transform="translate(984.41,986.81) scale(1.0709,1)" fill="#262626" stroke="#fff" stroke-width="0.5"><tspan x="0.00" y="0.00" style="font-family:'Liberation Serif';font-size:39.10px">Time </tspan><tspan x="90.92" y="0.00" style="font-family:'Liberation Serif';font-size:39.10px;font-style:italic">t</tspan></text>
<text transform="translate(1019.81,833.55) scale(0.7889,1)" fill="#000" stroke="#fff" stroke-width="0.5"><tspan x="0.00" y="0.00" style="font-family:'Liberation Serif';font-size:54.59px;font-style:italic">c</tspan><tspan x="24.23" y="0.00" style="font-family:'Liberation Serif';font-size:54.59px">*</tspan></text>
<path d="M1428.20,758.10 L1429.71,758.45 L1431.21,758.83 L1432.72,759.25 L1434.23,759.70 L1435.74,760.17 L1437.24,760.68 L1438.75,761.21 L1440.26,761.77 L1441.76,762.37 L1443.27,763.00 L1444.78,763.68 L1446.29,764.40 L1447.79,765.17 L1449.30,766.00 L1450.81,766.91 L1452.31,767.94 L1453.82,769.05 L1455.33,770.24 L1456.84,771.49 L1458.34,772.78 L1459.85,774.09 L1461.36,775.41 L1462.86,776.79 L1464.37,778.22 L1465.88,779.71 L1467.39,781.24 L1468.89,782.80 L1470.40,784.38 L1471.91,785.97 L1473.41,787.56 L1474.92,789.19 L1476.43,790.86 L1477.94,792.56 L1479.44,794.26 L1480.95,795.95 L1482.46,797.62 L1483.96,799.24 L1485.47,800.82 L1486.98,802.40 L1488.49,803.97 L1489.99,805.52 L1491.50,807.04 L1493.01,808.52 L1494.51,809.95 L1496.02,811.33 L1497.53,812.66 L1499.04,813.97 L1500.54,815.24 L1502.05,816.48 L1503.56,817.68 L1505.06,818.83 L1506.57,819.94 L1508.08,820.99 L1509.59,822.00 L1511.09,822.97 L1512.60,823.91 L1514.11,824.82 L1515.61,825.69 L1517.12,826.54 L1518.63,827.35 L1520.14,828.13 L1521.64,828.89 L1523.15,829.64 L1524.66,830.36 L1526.16,831.05 L1527.67,831.71 L1529.18,832.33 L1530.69,832.91 L1532.19,833.45 L1533.70,833.95 L1535.21,834.43 L1536.71,834.88 L1538.22,835.32 L1539.73,835.73 L1541.24,836.14 L1542.74,836.53 L1544.25,836.93 L1545.76,837.32 L1547.26,837.71 L1548.77,838.08 L1550.28,838.43 L1551.79,838.76 L1553.29,839.06 L1554.80,839.32 L1556.31,839.54 L1557.81,839.76 L1559.32,839.95 L1560.83,840.13 L1562.34,840.30 L1563.84,840.46 L1565.35,840.60 L1566.86,840.74 L1568.36,840.87 L1569.87,841.00 L1571.38,841.12 L1572.89,841.24 L1574.39,841.36 L1575.90,841.46 L1577.41,841.56 L1578.91,841.66 L1580.42,841.74 L1581.93,841.82 L1583.44,841.88 L1584.94,841.94 L1586.45,842.00 L1587.96,842.05 L1589.46,842.11 L1590.97,842.16 L1592.48,842.21 L1593.99,842.26 L1595.49,842.30 L1597.00,842.34 L1598.51,842.38 L1600.01,842.41 L1601.52,842.44 L1603.03,842.46 L1604.54,842.48 L1606.04,842.49 L1607.55,842.50 L1609.06,842.50 L1610.56,842.51 L1612.07,842.51 L1613.58,842.51 L1615.09,842.52 L1616.59,842.52 L1618.10,842.52 L1619.61,842.53 L1621.11,842.53 L1622.62,842.53 L1624.13,842.54 L1625.64,842.54 L1627.14,842.54 L1628.65,842.55 L1630.16,842.55 L1631.66,842.55 L1633.17,842.55 L1634.68,842.56 L1636.19,842.56 L1637.69,842.56 L1639.20,842.56 L1640.71,842.56 L1642.21,842.57 L1643.72,842.57 L1645.23,842.57 L1646.74,842.57 L1648.24,842.57 L1649.75,842.58 L1651.26,842.58 L1652.76,842.58 L1654.27,842.58 L1655.78,842.58 L1657.29,842.58 L1658.79,842.58 L1660.30,842.59 L1661.81,842.59 L1663.31,842.59 L1664.82,842.59 L1666.33,842.59 L1667.84,842.59 L1669.34,842.59 L1670.85,842.59 L1672.36,842.59 L1673.86,842.59 L1675.37,842.59 L1676.88,842.60 L1678.39,842.60 L1679.89,842.60 L1681.40,842.60 L1682.91,842.60 L1684.41,842.60 L1685.92,842.60 L1687.43,842.60 L1688.94,842.60 L1690.44,842.60 L1691.95,842.60 L1693.46,842.60 L1694.96,842.60 L1696.47,842.60 L1697.98,842.60 L1699.49,842.60 L1700.99,842.60 L1702.50,842.60 L1704.01,842.60 L1705.51,842.60 L1707.02,842.60 L1708.53,842.60 L1710.04,842.60 L1711.54,842.60 L1713.05,842.60 L1714.56,842.60 L1716.06,842.60 L1717.57,842.60 L1719.08,842.60 L1720.59,842.60 L1722.09,842.60 L1723.60,842.60 L1725.11,842.60 L1726.61,842.60 L1728.12,842.60 L1729.63,842.60 L1731.14,842.60 L1732.64,842.60 L1734.15,842.60 L1735.66,842.60 L1737.16,842.60 L1738.67,842.60 L1740.18,842.60 L1741.69,842.60 L1743.19,842.60 L1744.70,842.60 L1746.21,842.60 L1747.71,842.60 L1749.22,842.60 L1750.73,842.60 L1752.24,842.60 L1753.74,842.60 L1755.25,842.60 L1756.76,842.60 L1758.26,842.60 L1759.77,842.60 L1761.28,842.60 L1762.79,842.60 L1764.29,842.60 L1765.80,842.60 L1767.31,842.60 L1768.81,842.60 L1770.32,842.60 L1771.83,842.60 L1773.34,842.60 L1774.84,842.60 L1776.35,842.60 L1777.86,842.60 L1779.36,842.60 L1780.87,842.60 L1782.38,842.59 L1783.89,842.57 L1785.39,842.55 L1786.90,842.52 L1788.41,842.48 L1789.91,842.44 L1791.42,842.40 L1792.93,842.34 L1794.44,842.29 L1795.94,842.23 L1797.45,842.17 L1798.96,842.10 L1800.46,842.03 L1801.97,841.96 L1803.48,841.89 L1804.99,841.82 L1806.49,841.75 L1808.00,841.68 L1809.51,841.60 L1811.01,841.51 L1812.52,841.42 L1814.03,841.32 L1815.54,841.21 L1817.04,841.09 L1818.55,840.97 L1820.06,840.84 L1821.56,840.70 L1823.07,840.56 L1824.58,840.40 L1826.09,840.25 L1827.59,840.08 L1829.10,839.91 L1830.61,839.73 L1832.11,839.53 L1833.62,839.31 L1835.13,839.06 L1836.64,838.80 L1838.14,838.53 L1839.65,838.23 L1841.16,837.91 L1842.66,837.58 L1844.17,837.24 L1845.68,836.87 L1847.19,836.49 L1848.69,836.10 L1850.20,835.68 L1851.71,835.23 L1853.21,834.74 L1854.72,834.22 L1856.23,833.66 L1857.74,833.07 L1859.24,832.45 L1860.75,831.80 L1862.26,831.12 L1863.76,830.42 L1865.27,829.68 L1866.78,828.92 L1868.29,828.12 L1869.79,827.25 L1871.30,826.30 L1872.81,825.28 L1874.31,824.20 L1875.82,823.07 L1877.33,821.89 L1878.84,820.68 L1880.34,819.43 L1881.85,818.12 L1883.36,816.73 L1884.86,815.26 L1886.37,813.72 L1887.88,812.10 L1889.39,810.40 L1890.89,808.61 L1892.40,806.71 L1893.91,804.68 L1895.41,802.54 L1896.92,800.26 L1898.43,797.85 L1899.94,795.28 L1901.44,792.51 L1902.95,789.54 L1904.46,786.35 L1905.96,782.95 L1907.47,779.25 L1908.98,775.17 L1910.49,770.78 L1911.99,766.17 L1913.50,761.38 L1915.01,756.28 L1916.51,750.81 L1918.02,744.94 L1919.53,738.71 L1921.04,731.88 L1922.54,724.11 L1924.05,714.61 L1925.56,703.85 L1927.06,692.83 L1928.57,681.09 L1930.08,667.87 L1931.59,652.47 L1933.09,632.50 L1934.60,609.40" fill="none" stroke="#4d6ba6" stroke-width="6.0" stroke-linejoin="round"/>
<rect x="1809.10" y="609.90" width="127.00" height="299.20" fill="#4d4d4d" fill-opacity="0.895" stroke="#6a6a6a" stroke-width="1"/>
<line x1="1428.10" y1="842.30" x2="1936.10" y2="842.30" stroke="#000" stroke-opacity="0.7" stroke-width="5.6" stroke-dasharray="23.65 23.65"/>
<line x1="1428.10" y1="908.30" x2="1428.10" y2="902.70" stroke="#262626" stroke-width="1.0"/>
<line x1="1428.10" y1="609.90" x2="1428.10" y2="615.50" stroke="#262626" stroke-width="1.0"/>
<line x1="1512.77" y1="908.30" x2="1512.77" y2="902.70" stroke="#262626" stroke-width="1.0"/>
<line x1="1512.77" y1="609.90" x2="1512.77" y2="615.50" stroke="#262626" stroke-width="1.0"/>
<line x1="1597.43" y1="908.30" x2="1597.43" y2="902.70" stroke="#262626" stroke-width="1.0"/>
<line x1="1597.43" y1="609.90" x2="1597.43" y2="615.50" stroke="#262626" stroke-width="1.0"/>
<line x1="1682.10" y1="908.30" x2="1682.10" y2="902.70" stroke="#262626" stroke-width="1.0"/>
<line x1="1682.10" y1="609.90" x2="1682.10" y2="615.50" stroke="#262626" stroke-width="1.0"/>
<line x1="1766.77" y1="908.30" x2="1766.77" y2="902.70" stroke="#262626" stroke-width="1.0"/>
<line x1="1766.77" y1="609.90" x2="1766.77" y2="615.50" stroke="#262626" stroke-width="1.0"/>
<line x1="1851.43" y1="908.30" x2="1851.43" y2="902.70" stroke="#262626" stroke-width="1.0"/>
<line x1="1851.43" y1="609.90" x2="1851.43" y2="615.50" stroke="#262626" stroke-width="1.0"/>
<line x1="1936.10" y1="908.30" x2="1936.10" y2="902.70" stroke="#262626" stroke-width="1.0"/>
<line x1="1936.10" y1="609.90" x2="1936.10" y2="615.50" stroke="#262626" stroke-width="1.0"/>
<line x1="1428.10" y1="908.30" x2="1433.70" y2="908.30" stroke="#262626" stroke-width="1.0"/>
<line x1="1936.10" y1="908.30" x2="1930.50" y2="908.30" stroke="#262626" stroke-width="1.0"/>
<line x1="1428.10" y1="609.90" x2="1433.70" y2="609.90" stroke="#262626" stroke-width="1.0"/>
<line x1="1936.10" y1="609.90" x2="1930.50" y2="609.90" stroke="#262626" stroke-width="1.0"/>
<line x1="1428.10" y1="818.47" x2="1431.30" y2="818.47" stroke="#262626" stroke-width="1.0"/>
<line x1="1936.10" y1="818.47" x2="1932.90" y2="818.47" stroke="#262626" stroke-width="1.0"/>
<line x1="1428.10" y1="765.93" x2="1431.30" y2="765.93" stroke="#262626" stroke-width="1.0"/>
<line x1="1936.10" y1="765.93" x2="1932.90" y2="765.93" stroke="#262626" stroke-width="1.0"/>
<line x1="1428.10" y1="728.65" x2="1431.30" y2="728.65" stroke="#262626" stroke-width="1.0"/>
<line x1="1936.10" y1="728.65" x2="1932.90" y2="728.65" stroke="#262626" stroke-width="1.0"/>
<line x1="1428.10" y1="699.73" x2="1431.30" y2="699.73" stroke="#262626" stroke-width="1.0"/>
<line x1="1936.10" y1="699.73" x2="1932.90" y2="699.73" stroke="#262626" stroke-width="1.0"/>
<line x1="1428.10" y1="676.10" x2="1431.30" y2="676.10" stroke="#262626" stroke-width="1.0"/>
<line x1="1936.10" y1="676.10" x2="1932.90" y2="676.10" stroke="#262626" stroke-width="1.0"/>
<line x1="1428.10" y1="656.12" x2="1431.30" y2="656.12" stroke="#262626" stroke-width="1.0"/>
<line x1="1936.10" y1="656.12" x2="1932.90" y2="656.12" stroke="#262626" stroke-width="1.0"/>
<line x1="1428.10" y1="638.82" x2="1431.30" y2="638.82" stroke="#262626" stroke-width="1.0"/>
<line x1="1936.10" y1="638.82" x2="1932.90" y2="638.82" stroke="#262626" stroke-width="1.0"/>
<line x1="1428.10" y1="623.55" x2="1431.30" y2="623.55" stroke="#262626" stroke-width="1.0"/>
<line x1="1936.10" y1="623.55" x2="1932.90" y2="623.55" stroke="#262626" stroke-width="1.0"/>
<rect x="1428.10" y="609.90" width="508.00" height="298.40" fill="none" stroke="#262626" stroke-width="1.05"/>
<rect x="1511.40" y="625.30" width="408.80" height="96.40" fill="#fff" stroke="#262626" stroke-width="1.05"/>
<line x1="1517.00" y1="650.30" x2="1576.60" y2="650.30" stroke="#4d6ba6" stroke-width="6.0"/>
<text transform="translate(1580.82,660.40) scale(1.0941,1)" fill="#000" stroke="#fff" stroke-width="0.5"><tspan x="0.00" y="0.00" style="font-family:'Liberation Serif';font-size:38.50px">Optimal treatment</tspan></text>
<line x1="1516.90" y1="695.90" x2="1576.60" y2="695.90" stroke="#000" stroke-opacity="0.7" stroke-width="5.6" stroke-dasharray="24 23.1"/>
<text transform="translate(1580.87,705.90) scale(1.0581,1)" fill="#000" stroke="#fff" stroke-width="0.5"><tspan x="0.00" y="0.00" style="font-family:'Liberation Serif';font-size:38.50px">Optimal equilibrium</tspan></text>
<text transform="translate(1420.65,946.50)" fill="#262626" stroke="#262626" stroke-width="0.35"><tspan x="0.00" y="0.00" style="font-family:'Liberation Sans';font-size:26.80px">0</tspan></text>
<text transform="translate(1490.41,946.50)" fill="#262626" stroke="#262626" stroke-width="0.35"><tspan x="0.00" y="0.00" style="font-family:'Liberation Sans';font-size:26.80px">200</tspan></text>
<text transform="translate(1575.08,946.50)" fill="#262626" stroke="#262626" stroke-width="0.35"><tspan x="0.00" y="0.00" style="font-family:'Liberation Sans';font-size:26.80px">400</tspan></text>
<text transform="translate(1659.74,946.50)" fill="#262626" stroke="#262626" stroke-width="0.35"><tspan x="0.00" y="0.00" style="font-family:'Liberation Sans';font-size:26.80px">600</tspan></text>
<text transform="translate(1744.41,946.50)" fill="#262626" stroke="#262626" stroke-width="0.35"><tspan x="0.00" y="0.00" style="font-family:'Liberation Sans';font-size:26.80px">800</tspan></text>
<text transform="translate(1821.62,946.50)" fill="#262626" stroke="#262626" stroke-width="0.35"><tspan x="0.00" y="0.00" style="font-family:'Liberation Sans';font-size:26.80px">1000</tspan></text>
<text transform="translate(1906.29,946.50)" fill="#262626" stroke="#262626" stroke-width="0.35"><tspan x="0.00" y="0.00" style="font-family:'Liberation Sans';font-size:26.80px">1200</tspan></text>
<text transform="translate(1376.12,623.90)" fill="#262626" stroke="#262626" stroke-width="0.35"><tspan x="0.00" y="0.00" style="font-family:'Liberation Sans';font-size:26.80px">10</tspan><tspan x="29.81" y="-12.70" style="font-family:'Liberation Sans';font-size:22.60px">1</tspan></text>
<text transform="translate(1376.12,922.30)" fill="#262626" stroke="#262626" stroke-width="0.35"><tspan x="0.00" y="0.00" style="font-family:'Liberation Sans';font-size:26.80px">10</tspan><tspan x="29.81" y="-12.70" style="font-family:'Liberation Sans';font-size:22.60px">0</tspan></text>
<text transform="translate(1626.71,986.81) scale(1.0709,1)" fill="#262626" stroke="#fff" stroke-width="0.5"><tspan x="0.00" y="0.00" style="font-family:'Liberation Serif';font-size:39.10px">Time </tspan><tspan x="90.92" y="0.00" style="font-family:'Liberation Serif';font-size:39.10px;font-style:italic">t</tspan></text>
<text transform="translate(1663.51,822.35) scale(0.7889,1)" fill="#000" stroke="#fff" stroke-width="0.5"><tspan x="0.00" y="0.00" style="font-family:'Liberation Serif';font-size:54.59px;font-style:italic">c</tspan><tspan x="24.23" y="0.00" style="font-family:'Liberation Serif';font-size:54.59px">*</tspan></text>
<path d="M150.60,1118.70 L152.11,1120.32 L153.61,1122.07 L155.12,1123.92 L156.62,1125.87 L158.13,1127.91 L159.63,1130.03 L161.14,1132.29 L162.65,1134.68 L164.15,1137.21 L165.66,1139.88 L167.16,1142.72 L168.67,1145.73 L170.17,1148.92 L171.68,1152.30 L173.18,1155.95 L174.69,1159.84 L176.20,1163.89 L177.70,1168.06 L179.21,1172.39 L180.71,1176.89 L182.22,1181.53 L183.72,1186.28 L185.23,1191.15 L186.74,1196.17 L188.24,1201.30 L189.75,1206.52 L191.25,1211.84 L192.76,1217.31 L194.26,1222.84 L195.77,1228.34 L197.27,1233.79 L198.78,1239.26 L200.29,1244.68 L201.79,1249.97 L203.30,1255.09 L204.80,1260.11 L206.31,1265.00 L207.81,1269.72 L209.32,1274.24 L210.83,1278.59 L212.33,1282.79 L213.84,1286.85 L215.34,1290.78 L216.85,1294.61 L218.35,1298.31 L219.86,1301.88 L221.36,1305.26 L222.87,1308.51 L224.38,1311.63 L225.88,1314.60 L227.39,1317.38 L228.89,1319.96 L230.40,1322.39 L231.90,1324.71 L233.41,1326.97 L234.92,1329.21 L236.42,1331.44 L237.93,1333.56 L239.43,1335.53 L240.94,1337.32 L242.44,1339.05 L243.95,1340.72 L245.46,1342.32 L246.96,1343.85 L248.47,1345.29 L249.97,1346.64 L251.48,1347.89 L252.98,1349.03 L254.49,1350.13 L255.99,1351.18 L257.50,1352.18 L259.01,1353.12 L260.51,1353.99 L262.02,1354.79 L263.52,1355.52 L265.03,1356.15 L266.53,1356.73 L268.04,1357.26 L269.55,1357.76 L271.05,1358.23 L272.56,1358.65 L274.06,1359.05 L275.57,1359.41 L277.07,1359.73 L278.58,1360.03 L280.08,1360.32 L281.59,1360.58 L283.10,1360.83 L284.60,1361.06 L286.11,1361.27 L287.61,1361.46 L289.12,1361.62 L290.62,1361.77 L292.13,1361.90 L293.64,1362.04 L295.14,1362.16 L296.65,1362.29 L298.15,1362.40 L299.66,1362.51 L301.16,1362.62 L302.67,1362.72 L304.18,1362.81 L305.68,1362.90 L307.19,1362.98 L308.69,1363.06 L310.20,1363.12 L311.70,1363.19 L313.21,1363.24 L314.71,1363.29 L316.22,1363.34 L317.73,1363.38 L319.23,1363.43 L320.74,1363.47 L322.24,1363.51 L323.75,1363.54 L325.25,1363.58 L326.76,1363.61 L328.27,1363.64 L329.77,1363.67 L331.28,1363.70 L332.78,1363.72 L334.29,1363.74 L335.79,1363.76 L337.30,1363.78 L338.80,1363.79 L340.31,1363.80 L341.82,1363.81 L343.32,1363.82 L344.83,1363.83 L346.33,1363.84 L347.84,1363.85 L349.34,1363.86 L350.85,1363.86 L352.36,1363.87 L353.86,1363.88 L355.37,1363.89 L356.87,1363.89 L358.38,1363.90 L359.88,1363.91 L361.39,1363.91 L362.89,1363.92 L364.40,1363.93 L365.91,1363.93 L367.41,1363.94 L368.92,1363.94 L370.42,1363.95 L371.93,1363.95 L373.43,1363.96 L374.94,1363.96 L376.45,1363.97 L377.95,1363.97 L379.46,1363.98 L380.96,1363.98 L382.47,1363.98 L383.97,1363.98 L385.48,1363.99 L386.99,1363.99 L388.49,1363.99 L390.00,1363.99 L391.50,1364.00 L393.01,1364.00 L394.51,1364.00 L396.02,1364.00 L397.52,1364.00 L399.03,1364.00 L400.54,1364.00 L402.04,1364.00 L403.55,1364.00 L405.05,1364.00 L406.56,1364.00 L408.06,1364.00 L409.57,1364.00 L411.08,1364.00 L412.58,1364.00 L414.09,1364.00 L415.59,1364.00 L417.10,1364.00 L418.60,1364.00 L420.11,1364.00 L421.61,1364.00 L423.12,1364.00 L424.63,1364.00 L426.13,1364.00 L427.64,1364.00 L429.14,1364.00 L430.65,1364.00 L432.15,1364.00 L433.66,1364.00 L435.17,1364.00 L436.67,1364.00 L438.18,1364.00 L439.68,1364.00 L441.19,1364.00 L442.69,1364.00 L444.20,1364.00 L445.71,1364.00 L447.21,1364.00 L448.72,1364.00 L450.22,1364.00 L451.73,1364.00 L453.23,1364.00 L454.74,1364.00 L456.24,1364.00 L457.75,1364.00 L459.26,1364.00 L460.76,1364.00 L462.27,1364.00 L463.77,1364.00 L465.28,1364.00 L466.78,1364.00 L468.29,1364.00 L469.80,1364.00 L471.30,1364.00 L472.81,1364.00 L474.31,1364.00 L475.82,1364.00 L477.32,1364.00 L478.83,1364.00 L480.33,1364.00 L481.84,1364.00 L483.35,1364.00 L484.85,1364.00 L486.36,1364.00 L487.86,1364.00 L489.37,1364.00 L490.87,1364.00 L492.38,1364.00 L493.89,1364.00 L495.39,1364.00 L496.90,1364.00 L498.40,1364.00 L499.91,1364.00 L501.41,1364.00 L502.92,1364.00 L504.42,1364.00 L505.93,1364.00 L507.44,1364.00 L508.94,1364.00 L510.45,1364.00 L511.95,1364.00 L513.46,1364.00 L514.96,1364.00 L516.47,1364.00 L517.98,1364.00 L519.48,1364.00 L520.99,1364.00 L522.49,1364.00 L524.00,1364.00 L525.50,1364.00 L527.01,1364.00 L528.52,1364.00 L530.02,1364.00 L531.53,1364.00 L533.03,1364.01 L534.54,1364.01 L536.04,1364.02 L537.55,1364.02 L539.05,1364.03 L540.56,1364.04 L542.07,1364.05 L543.57,1364.07 L545.08,1364.08 L546.58,1364.09 L548.09,1364.11 L549.59,1364.13 L551.10,1364.15 L552.61,1364.17 L554.11,1364.19 L555.62,1364.21 L557.12,1364.23 L558.63,1364.25 L560.13,1364.28 L561.64,1364.30 L563.14,1364.33 L564.65,1364.36 L566.16,1364.39 L567.66,1364.42 L569.17,1364.47 L570.67,1364.53 L572.18,1364.61 L573.68,1364.70 L575.19,1364.80 L576.70,1364.92 L578.20,1365.04 L579.71,1365.18 L581.21,1365.33 L582.72,1365.48 L584.22,1365.65 L585.73,1365.82 L587.24,1365.99 L588.74,1366.17 L590.25,1366.36 L591.75,1366.55 L593.26,1366.74 L594.76,1366.93 L596.27,1367.13 L597.77,1367.32 L599.28,1367.52 L600.79,1367.72 L602.29,1367.95 L603.80,1368.18 L605.30,1368.43 L606.81,1368.69 L608.31,1368.96 L609.82,1369.24 L611.33,1369.54 L612.83,1369.84 L614.34,1370.14 L615.84,1370.46 L617.35,1370.78 L618.85,1371.11 L620.36,1371.44 L621.86,1371.78 L623.37,1372.12 L624.88,1372.48 L626.38,1372.85 L627.89,1373.25 L629.39,1373.67 L630.90,1374.10 L632.40,1374.54 L633.91,1374.99 L635.42,1375.45 L636.92,1375.91 L638.43,1376.36 L639.93,1376.82 L641.44,1377.27 L642.94,1377.71 L644.45,1378.13 L645.95,1378.54 L647.46,1378.94 L648.97,1379.33 L650.47,1379.72 L651.98,1380.11 L653.48,1380.49 L654.99,1380.86 L656.49,1381.23 L658.00,1381.60" fill="none" stroke="#d40c00" stroke-width="6.0" stroke-linejoin="round"/>
<rect x="531.20" y="1115.00" width="126.80" height="298.50" fill="#4d4d4d" fill-opacity="0.895" stroke="#6a6a6a" stroke-width="1"/>
<line x1="150.80" y1="1364.00" x2="658.00" y2="1364.00" stroke="#000" stroke-opacity="0.7" stroke-width="5.6" stroke-dasharray="23.65 23.65"/>
<line x1="150.80" y1="1412.70" x2="150.80" y2="1407.10" stroke="#262626" stroke-width="1.0"/>
<line x1="150.80" y1="1115.00" x2="150.80" y2="1120.60" stroke="#262626" stroke-width="1.0"/>
<line x1="235.33" y1="1412.70" x2="235.33" y2="1407.10" stroke="#262626" stroke-width="1.0"/>
<line x1="235.33" y1="1115.00" x2="235.33" y2="1120.60" stroke="#262626" stroke-width="1.0"/>
<line x1="319.87" y1="1412.70" x2="319.87" y2="1407.10" stroke="#262626" stroke-width="1.0"/>
<line x1="319.87" y1="1115.00" x2="319.87" y2="1120.60" stroke="#262626" stroke-width="1.0"/>
<line x1="404.40" y1="1412.70" x2="404.40" y2="1407.10" stroke="#262626" stroke-width="1.0"/>
<line x1="404.40" y1="1115.00" x2="404.40" y2="1120.60" stroke="#262626" stroke-width="1.0"/>
<line x1="488.93" y1="1412.70" x2="488.93" y2="1407.10" stroke="#262626" stroke-width="1.0"/>
<line x1="488.93" y1="1115.00" x2="488.93" y2="1120.60" stroke="#262626" stroke-width="1.0"/>
<line x1="573.47" y1="1412.70" x2="573.47" y2="1407.10" stroke="#262626" stroke-width="1.0"/>
<line x1="573.47" y1="1115.00" x2="573.47" y2="1120.60" stroke="#262626" stroke-width="1.0"/>
<line x1="658.00" y1="1412.70" x2="658.00" y2="1407.10" stroke="#262626" stroke-width="1.0"/>
<line x1="658.00" y1="1115.00" x2="658.00" y2="1120.60" stroke="#262626" stroke-width="1.0"/>
<line x1="150.80" y1="1412.70" x2="156.40" y2="1412.70" stroke="#262626" stroke-width="1.0"/>
<line x1="658.00" y1="1412.70" x2="652.40" y2="1412.70" stroke="#262626" stroke-width="1.0"/>
<line x1="150.80" y1="1263.85" x2="156.40" y2="1263.85" stroke="#262626" stroke-width="1.0"/>
<line x1="658.00" y1="1263.85" x2="652.40" y2="1263.85" stroke="#262626" stroke-width="1.0"/>
<line x1="150.80" y1="1115.00" x2="156.40" y2="1115.00" stroke="#262626" stroke-width="1.0"/>
<line x1="658.00" y1="1115.00" x2="652.40" y2="1115.00" stroke="#262626" stroke-width="1.0"/>
<rect x="150.80" y="1115.00" width="507.20" height="297.70" fill="none" stroke="#262626" stroke-width="1.05"/>
<rect x="232.60" y="1130.30" width="410.70" height="96.40" fill="#fff" stroke="#262626" stroke-width="1.05"/>
<line x1="238.20" y1="1155.30" x2="297.80" y2="1155.30" stroke="#d40c00" stroke-width="6.0"/>
<text transform="translate(302.02,1165.40) scale(1.0941,1)" fill="#000" stroke="#fff" stroke-width="0.5"><tspan x="0.00" y="0.00" style="font-family:'Liberation Serif';font-size:38.50px">Optimal treatment</tspan></text>
<line x1="238.10" y1="1200.90" x2="297.80" y2="1200.90" stroke="#000" stroke-opacity="0.7" stroke-width="5.6" stroke-dasharray="24 23.1"/>
<text transform="translate(302.07,1210.90) scale(1.0581,1)" fill="#000" stroke="#fff" stroke-width="0.5"><tspan x="0.00" y="0.00" style="font-family:'Liberation Serif';font-size:38.50px">Optimal equilibrium</tspan></text>
<text transform="translate(143.35,1450.90)" fill="#262626" stroke="#262626" stroke-width="0.35"><tspan x="0.00" y="0.00" style="font-family:'Liberation Sans';font-size:26.80px">0</tspan></text>
<text transform="translate(212.98,1450.90)" fill="#262626" stroke="#262626" stroke-width="0.35"><tspan x="0.00" y="0.00" style="font-family:'Liberation Sans';font-size:26.80px">200</tspan></text>
<text transform="translate(297.51,1450.90)" fill="#262626" stroke="#262626" stroke-width="0.35"><tspan x="0.00" y="0.00" style="font-family:'Liberation Sans';font-size:26.80px">400</tspan></text>
<text transform="translate(382.04,1450.90)" fill="#262626" stroke="#262626" stroke-width="0.35"><tspan x="0.00" y="0.00" style="font-family:'Liberation Sans';font-size:26.80px">600</tspan></text>
<text transform="translate(466.58,1450.90)" fill="#262626" stroke="#262626" stroke-width="0.35"><tspan x="0.00" y="0.00" style="font-family:'Liberation Sans';font-size:26.80px">800</tspan></text>
<text transform="translate(543.66,1450.90)" fill="#262626" stroke="#262626" stroke-width="0.35"><tspan x="0.00" y="0.00" style="font-family:'Liberation Sans';font-size:26.80px">1000</tspan></text>
<text transform="translate(628.19,1450.90)" fill="#262626" stroke="#262626" stroke-width="0.35"><tspan x="0.00" y="0.00" style="font-family:'Liberation Sans';font-size:26.80px">1200</tspan></text>
<text transform="translate(126.29,1124.70)" fill="#262626" stroke="#262626" stroke-width="0.35"><tspan x="0.00" y="0.00" style="font-family:'Liberation Sans';font-size:26.80px">1</tspan></text>
<text transform="translate(103.94,1273.55)" fill="#262626" stroke="#262626" stroke-width="0.35"><tspan x="0.00" y="0.00" style="font-family:'Liberation Sans';font-size:26.80px">0.5</tspan></text>
<text transform="translate(126.29,1422.40)" fill="#262626" stroke="#262626" stroke-width="0.35"><tspan x="0.00" y="0.00" style="font-family:'Liberation Sans';font-size:26.80px">0</tspan></text>
<text transform="translate(349.01,1491.21) scale(1.0709,1)" fill="#262626" stroke="#fff" stroke-width="0.5"><tspan x="0.00" y="0.00" style="font-family:'Liberation Serif';font-size:39.10px">Time </tspan><tspan x="90.92" y="0.00" style="font-family:'Liberation Serif';font-size:39.10px;font-style:italic">t</tspan></text>
<path d="M785.00,1118.10 L786.51,1118.83 L788.01,1119.67 L789.52,1120.63 L791.03,1121.67 L792.54,1122.79 L794.04,1123.98 L795.55,1125.29 L797.06,1126.76 L798.56,1128.37 L800.07,1130.08 L801.58,1131.96 L803.09,1134.01 L804.59,1136.22 L806.10,1138.54 L807.61,1140.99 L809.11,1143.61 L810.62,1146.37 L812.13,1149.27 L813.63,1152.30 L815.14,1155.53 L816.65,1158.90 L818.16,1162.41 L819.66,1166.05 L821.17,1169.90 L822.68,1173.87 L824.18,1177.86 L825.69,1181.80 L827.20,1185.74 L828.71,1189.69 L830.21,1193.63 L831.72,1197.55 L833.23,1201.47 L834.73,1205.37 L836.24,1209.23 L837.75,1213.02 L839.26,1216.76 L840.76,1220.44 L842.27,1224.06 L843.78,1227.58 L845.28,1230.99 L846.79,1234.33 L848.30,1237.59 L849.81,1240.79 L851.31,1243.94 L852.82,1247.03 L854.33,1250.06 L855.83,1253.00 L857.34,1255.88 L858.85,1258.73 L860.36,1261.47 L861.86,1264.04 L863.37,1266.38 L864.88,1268.54 L866.38,1270.59 L867.89,1272.56 L869.40,1274.50 L870.90,1276.42 L872.41,1278.28 L873.92,1280.03 L875.43,1281.65 L876.93,1283.20 L878.44,1284.70 L879.95,1286.15 L881.45,1287.54 L882.96,1288.88 L884.47,1290.14 L885.98,1291.34 L887.48,1292.46 L888.99,1293.52 L890.50,1294.54 L892.00,1295.51 L893.51,1296.44 L895.02,1297.33 L896.53,1298.17 L898.03,1298.97 L899.54,1299.73 L901.05,1300.44 L902.55,1301.13 L904.06,1301.80 L905.57,1302.43 L907.08,1303.04 L908.58,1303.61 L910.09,1304.15 L911.60,1304.65 L913.10,1305.11 L914.61,1305.56 L916.12,1305.99 L917.62,1306.40 L919.13,1306.79 L920.64,1307.15 L922.15,1307.48 L923.65,1307.78 L925.16,1308.04 L926.67,1308.28 L928.17,1308.51 L929.68,1308.73 L931.19,1308.94 L932.70,1309.15 L934.20,1309.34 L935.71,1309.52 L937.22,1309.70 L938.72,1309.86 L940.23,1310.02 L941.74,1310.18 L943.25,1310.32 L944.75,1310.46 L946.26,1310.60 L947.77,1310.73 L949.27,1310.85 L950.78,1310.97 L952.29,1311.09 L953.80,1311.21 L955.30,1311.32 L956.81,1311.44 L958.32,1311.55 L959.82,1311.66 L961.33,1311.76 L962.84,1311.86 L964.34,1311.96 L965.85,1312.04 L967.36,1312.12 L968.87,1312.20 L970.37,1312.26 L971.88,1312.32 L973.39,1312.36 L974.89,1312.40 L976.40,1312.43 L977.91,1312.46 L979.42,1312.49 L980.92,1312.52 L982.43,1312.54 L983.94,1312.57 L985.44,1312.59 L986.95,1312.62 L988.46,1312.64 L989.97,1312.66 L991.47,1312.68 L992.98,1312.70 L994.49,1312.72 L995.99,1312.74 L997.50,1312.76 L999.01,1312.78 L1000.52,1312.80 L1002.02,1312.81 L1003.53,1312.83 L1005.04,1312.85 L1006.54,1312.86 L1008.05,1312.88 L1009.56,1312.89 L1011.07,1312.90 L1012.57,1312.92 L1014.08,1312.93 L1015.59,1312.94 L1017.09,1312.96 L1018.60,1312.97 L1020.11,1312.98 L1021.61,1312.99 L1023.12,1313.00 L1024.63,1313.01 L1026.14,1313.03 L1027.64,1313.04 L1029.15,1313.05 L1030.66,1313.06 L1032.16,1313.07 L1033.67,1313.08 L1035.18,1313.09 L1036.69,1313.10 L1038.19,1313.11 L1039.70,1313.12 L1041.21,1313.13 L1042.71,1313.14 L1044.22,1313.16 L1045.73,1313.17 L1047.24,1313.18 L1048.74,1313.19 L1050.25,1313.20 L1051.76,1313.21 L1053.26,1313.23 L1054.77,1313.24 L1056.28,1313.25 L1057.79,1313.26 L1059.29,1313.27 L1060.80,1313.28 L1062.31,1313.29 L1063.81,1313.29 L1065.32,1313.30 L1066.83,1313.31 L1068.33,1313.32 L1069.84,1313.33 L1071.35,1313.33 L1072.86,1313.34 L1074.36,1313.35 L1075.87,1313.36 L1077.38,1313.36 L1078.88,1313.37 L1080.39,1313.38 L1081.90,1313.38 L1083.41,1313.39 L1084.91,1313.39 L1086.42,1313.40 L1087.93,1313.41 L1089.43,1313.41 L1090.94,1313.42 L1092.45,1313.42 L1093.96,1313.43 L1095.46,1313.43 L1096.97,1313.44 L1098.48,1313.45 L1099.98,1313.45 L1101.49,1313.46 L1103.00,1313.46 L1104.51,1313.47 L1106.01,1313.48 L1107.52,1313.48 L1109.03,1313.49 L1110.53,1313.49 L1112.04,1313.50 L1113.55,1313.51 L1115.06,1313.51 L1116.56,1313.52 L1118.07,1313.53 L1119.58,1313.54 L1121.08,1313.54 L1122.59,1313.55 L1124.10,1313.56 L1125.60,1313.57 L1127.11,1313.58 L1128.62,1313.59 L1130.13,1313.60 L1131.63,1313.61 L1133.14,1313.62 L1134.65,1313.63 L1136.15,1313.64 L1137.66,1313.65 L1139.17,1313.66 L1140.68,1313.67 L1142.18,1313.69 L1143.69,1313.70 L1145.20,1313.71 L1146.70,1313.73 L1148.21,1313.74 L1149.72,1313.76 L1151.23,1313.77 L1152.73,1313.79 L1154.24,1313.80 L1155.75,1313.82 L1157.25,1313.84 L1158.76,1313.86 L1160.27,1313.88 L1161.78,1313.90 L1163.28,1313.92 L1164.79,1313.95 L1166.30,1313.99 L1167.80,1314.04 L1169.31,1314.09 L1170.82,1314.15 L1172.32,1314.22 L1173.83,1314.30 L1175.34,1314.38 L1176.85,1314.47 L1178.35,1314.56 L1179.86,1314.67 L1181.37,1314.78 L1182.87,1314.89 L1184.38,1315.01 L1185.89,1315.14 L1187.40,1315.27 L1188.90,1315.40 L1190.41,1315.55 L1191.92,1315.69 L1193.42,1315.84 L1194.93,1316.00 L1196.44,1316.16 L1197.95,1316.33 L1199.45,1316.54 L1200.96,1316.79 L1202.47,1317.06 L1203.97,1317.36 L1205.48,1317.69 L1206.99,1318.05 L1208.50,1318.43 L1210.00,1318.84 L1211.51,1319.27 L1213.02,1319.71 L1214.52,1320.17 L1216.03,1320.65 L1217.54,1321.14 L1219.04,1321.65 L1220.55,1322.19 L1222.06,1322.79 L1223.57,1323.44 L1225.07,1324.14 L1226.58,1324.89 L1228.09,1325.68 L1229.59,1326.50 L1231.10,1327.37 L1232.61,1328.26 L1234.12,1329.18 L1235.62,1330.12 L1237.13,1331.09 L1238.64,1332.07 L1240.14,1333.07 L1241.65,1334.08 L1243.16,1335.10 L1244.67,1336.12 L1246.17,1337.20 L1247.68,1338.34 L1249.19,1339.54 L1250.69,1340.79 L1252.20,1342.07 L1253.71,1343.38 L1255.22,1344.71 L1256.72,1346.04 L1258.23,1347.37 L1259.74,1348.68 L1261.24,1349.97 L1262.75,1351.23 L1264.26,1352.45 L1265.77,1353.62 L1267.27,1354.75 L1268.78,1355.88 L1270.29,1357.00 L1271.79,1358.13 L1273.30,1359.29 L1274.81,1360.50 L1276.31,1361.76 L1277.82,1363.09 L1279.33,1364.52 L1280.84,1366.08 L1282.34,1367.75 L1283.85,1369.52 L1285.36,1371.36 L1286.86,1373.24 L1288.37,1375.14 L1289.88,1377.06 L1291.39,1379.05 L1292.89,1381.10 L1294.40,1383.20" fill="none" stroke="#d40c00" stroke-width="6.0" stroke-linejoin="round"/>
<rect x="1167.10" y="1115.00" width="127.30" height="298.50" fill="#4d4d4d" fill-opacity="0.895" stroke="#6a6a6a" stroke-width="1"/>
<line x1="785.20" y1="1313.00" x2="1294.40" y2="1313.00" stroke="#000" stroke-opacity="0.7" stroke-width="5.6" stroke-dasharray="23.65 23.65"/>
<line x1="785.20" y1="1412.70" x2="785.20" y2="1407.10" stroke="#262626" stroke-width="1.0"/>
<line x1="785.20" y1="1115.00" x2="785.20" y2="1120.60" stroke="#262626" stroke-width="1.0"/>
<line x1="870.07" y1="1412.70" x2="870.07" y2="1407.10" stroke="#262626" stroke-width="1.0"/>
<line x1="870.07" y1="1115.00" x2="870.07" y2="1120.60" stroke="#262626" stroke-width="1.0"/>
<line x1="954.93" y1="1412.70" x2="954.93" y2="1407.10" stroke="#262626" stroke-width="1.0"/>
<line x1="954.93" y1="1115.00" x2="954.93" y2="1120.60" stroke="#262626" stroke-width="1.0"/>
<line x1="1039.80" y1="1412.70" x2="1039.80" y2="1407.10" stroke="#262626" stroke-width="1.0"/>
<line x1="1039.80" y1="1115.00" x2="1039.80" y2="1120.60" stroke="#262626" stroke-width="1.0"/>
<line x1="1124.67" y1="1412.70" x2="1124.67" y2="1407.10" stroke="#262626" stroke-width="1.0"/>
<line x1="1124.67" y1="1115.00" x2="1124.67" y2="1120.60" stroke="#262626" stroke-width="1.0"/>
<line x1="1209.53" y1="1412.70" x2="1209.53" y2="1407.10" stroke="#262626" stroke-width="1.0"/>
<line x1="1209.53" y1="1115.00" x2="1209.53" y2="1120.60" stroke="#262626" stroke-width="1.0"/>
<line x1="1294.40" y1="1412.70" x2="1294.40" y2="1407.10" stroke="#262626" stroke-width="1.0"/>
<line x1="1294.40" y1="1115.00" x2="1294.40" y2="1120.60" stroke="#262626" stroke-width="1.0"/>
<line x1="785.20" y1="1412.70" x2="790.80" y2="1412.70" stroke="#262626" stroke-width="1.0"/>
<line x1="1294.40" y1="1412.70" x2="1288.80" y2="1412.70" stroke="#262626" stroke-width="1.0"/>
<line x1="785.20" y1="1263.85" x2="790.80" y2="1263.85" stroke="#262626" stroke-width="1.0"/>
<line x1="1294.40" y1="1263.85" x2="1288.80" y2="1263.85" stroke="#262626" stroke-width="1.0"/>
<line x1="785.20" y1="1115.00" x2="790.80" y2="1115.00" stroke="#262626" stroke-width="1.0"/>
<line x1="1294.40" y1="1115.00" x2="1288.80" y2="1115.00" stroke="#262626" stroke-width="1.0"/>
<rect x="785.20" y="1115.00" width="509.20" height="297.70" fill="none" stroke="#262626" stroke-width="1.05"/>
<rect x="869.00" y="1130.30" width="408.40" height="96.40" fill="#fff" stroke="#262626" stroke-width="1.05"/>
<line x1="874.60" y1="1155.30" x2="934.20" y2="1155.30" stroke="#d40c00" stroke-width="6.0"/>
<text transform="translate(938.42,1165.40) scale(1.0941,1)" fill="#000" stroke="#fff" stroke-width="0.5"><tspan x="0.00" y="0.00" style="font-family:'Liberation Serif';font-size:38.50px">Optimal treatment</tspan></text>
<line x1="874.50" y1="1200.90" x2="934.20" y2="1200.90" stroke="#000" stroke-opacity="0.7" stroke-width="5.6" stroke-dasharray="24 23.1"/>
<text transform="translate(938.47,1210.90) scale(1.0581,1)" fill="#000" stroke="#fff" stroke-width="0.5"><tspan x="0.00" y="0.00" style="font-family:'Liberation Serif';font-size:38.50px">Optimal equilibrium</tspan></text>
<text transform="translate(777.75,1450.90)" fill="#262626" stroke="#262626" stroke-width="0.35"><tspan x="0.00" y="0.00" style="font-family:'Liberation Sans';font-size:26.80px">0</tspan></text>
<text transform="translate(847.71,1450.90)" fill="#262626" stroke="#262626" stroke-width="0.35"><tspan x="0.00" y="0.00" style="font-family:'Liberation Sans';font-size:26.80px">200</tspan></text>
<text transform="translate(932.58,1450.90)" fill="#262626" stroke="#262626" stroke-width="0.35"><tspan x="0.00" y="0.00" style="font-family:'Liberation Sans';font-size:26.80px">400</tspan></text>
<text transform="translate(1017.44,1450.90)" fill="#262626" stroke="#262626" stroke-width="0.35"><tspan x="0.00" y="0.00" style="font-family:'Liberation Sans';font-size:26.80px">600</tspan></text>
<text transform="translate(1102.31,1450.90)" fill="#262626" stroke="#262626" stroke-width="0.35"><tspan x="0.00" y="0.00" style="font-family:'Liberation Sans';font-size:26.80px">800</tspan></text>
<text transform="translate(1179.72,1450.90)" fill="#262626" stroke="#262626" stroke-width="0.35"><tspan x="0.00" y="0.00" style="font-family:'Liberation Sans';font-size:26.80px">1000</tspan></text>
<text transform="translate(1264.59,1450.90)" fill="#262626" stroke="#262626" stroke-width="0.35"><tspan x="0.00" y="0.00" style="font-family:'Liberation Sans';font-size:26.80px">1200</tspan></text>
<text transform="translate(760.69,1124.70)" fill="#262626" stroke="#262626" stroke-width="0.35"><tspan x="0.00" y="0.00" style="font-family:'Liberation Sans';font-size:26.80px">1</tspan></text>
<text transform="translate(738.34,1273.55)" fill="#262626" stroke="#262626" stroke-width="0.35"><tspan x="0.00" y="0.00" style="font-family:'Liberation Sans';font-size:26.80px">0.5</tspan></text>
<text transform="translate(760.69,1422.40)" fill="#262626" stroke="#262626" stroke-width="0.35"><tspan x="0.00" y="0.00" style="font-family:'Liberation Sans';font-size:26.80px">0</tspan></text>
<text transform="translate(984.41,1491.21) scale(1.0709,1)" fill="#262626" stroke="#fff" stroke-width="0.5"><tspan x="0.00" y="0.00" style="font-family:'Liberation Serif';font-size:39.10px">Time </tspan><tspan x="90.92" y="0.00" style="font-family:'Liberation Serif';font-size:39.10px;font-style:italic">t</tspan></text>
<path d="M1428.60,1118.70 L1430.11,1120.32 L1431.61,1122.07 L1433.12,1123.92 L1434.62,1125.87 L1436.13,1127.91 L1437.64,1130.03 L1439.14,1132.29 L1440.65,1134.69 L1442.15,1137.22 L1443.66,1139.89 L1445.17,1142.76 L1446.67,1145.81 L1448.18,1148.99 L1449.68,1152.26 L1451.19,1155.63 L1452.69,1159.14 L1454.20,1162.83 L1455.71,1166.76 L1457.21,1171.05 L1458.72,1175.64 L1460.22,1180.38 L1461.73,1185.09 L1463.24,1189.79 L1464.74,1194.53 L1466.25,1199.31 L1467.75,1204.12 L1469.26,1208.96 L1470.77,1213.88 L1472.27,1218.78 L1473.78,1223.58 L1475.28,1228.23 L1476.79,1232.79 L1478.30,1237.26 L1479.80,1241.67 L1481.31,1246.05 L1482.81,1250.44 L1484.32,1254.75 L1485.83,1258.90 L1487.33,1262.81 L1488.84,1266.54 L1490.34,1270.12 L1491.85,1273.56 L1493.36,1276.87 L1494.86,1280.09 L1496.37,1283.19 L1497.87,1286.14 L1499.38,1288.92 L1500.88,1291.52 L1502.39,1293.97 L1503.90,1296.32 L1505.40,1298.60 L1506.91,1300.86 L1508.41,1303.07 L1509.92,1305.16 L1511.43,1307.08 L1512.93,1308.79 L1514.44,1310.39 L1515.94,1311.86 L1517.45,1313.22 L1518.96,1314.48 L1520.46,1315.69 L1521.97,1316.86 L1523.47,1317.98 L1524.98,1319.04 L1526.49,1320.05 L1527.99,1321.00 L1529.50,1321.89 L1531.00,1322.73 L1532.51,1323.53 L1534.02,1324.31 L1535.52,1325.05 L1537.03,1325.75 L1538.53,1326.41 L1540.04,1327.01 L1541.55,1327.56 L1543.05,1328.05 L1544.56,1328.49 L1546.06,1328.91 L1547.57,1329.30 L1549.07,1329.66 L1550.58,1330.00 L1552.09,1330.31 L1553.59,1330.59 L1555.10,1330.85 L1556.60,1331.09 L1558.11,1331.31 L1559.62,1331.53 L1561.12,1331.73 L1562.63,1331.92 L1564.13,1332.08 L1565.64,1332.23 L1567.15,1332.35 L1568.65,1332.45 L1570.16,1332.54 L1571.66,1332.63 L1573.17,1332.71 L1574.68,1332.79 L1576.18,1332.87 L1577.69,1332.94 L1579.19,1333.01 L1580.70,1333.07 L1582.21,1333.13 L1583.71,1333.18 L1585.22,1333.23 L1586.72,1333.27 L1588.23,1333.31 L1589.74,1333.35 L1591.24,1333.37 L1592.75,1333.40 L1594.25,1333.42 L1595.76,1333.44 L1597.26,1333.46 L1598.77,1333.47 L1600.28,1333.49 L1601.78,1333.51 L1603.29,1333.52 L1604.79,1333.54 L1606.30,1333.55 L1607.81,1333.56 L1609.31,1333.57 L1610.82,1333.58 L1612.32,1333.59 L1613.83,1333.59 L1615.34,1333.60 L1616.84,1333.60 L1618.35,1333.60 L1619.85,1333.60 L1621.36,1333.60 L1622.87,1333.60 L1624.37,1333.60 L1625.88,1333.60 L1627.38,1333.60 L1628.89,1333.60 L1630.40,1333.60 L1631.90,1333.60 L1633.41,1333.60 L1634.91,1333.60 L1636.42,1333.60 L1637.92,1333.60 L1639.43,1333.60 L1640.94,1333.60 L1642.44,1333.60 L1643.95,1333.60 L1645.45,1333.60 L1646.96,1333.60 L1648.47,1333.60 L1649.97,1333.60 L1651.48,1333.60 L1652.98,1333.60 L1654.49,1333.60 L1656.00,1333.60 L1657.50,1333.60 L1659.01,1333.60 L1660.51,1333.60 L1662.02,1333.60 L1663.53,1333.60 L1665.03,1333.60 L1666.54,1333.60 L1668.04,1333.60 L1669.55,1333.60 L1671.06,1333.60 L1672.56,1333.60 L1674.07,1333.60 L1675.57,1333.60 L1677.08,1333.60 L1678.59,1333.60 L1680.09,1333.60 L1681.60,1333.60 L1683.10,1333.60 L1684.61,1333.60 L1686.11,1333.60 L1687.62,1333.60 L1689.13,1333.60 L1690.63,1333.60 L1692.14,1333.60 L1693.64,1333.60 L1695.15,1333.60 L1696.66,1333.60 L1698.16,1333.60 L1699.67,1333.60 L1701.17,1333.60 L1702.68,1333.60 L1704.19,1333.60 L1705.69,1333.60 L1707.20,1333.60 L1708.70,1333.60 L1710.21,1333.60 L1711.72,1333.60 L1713.22,1333.60 L1714.73,1333.60 L1716.23,1333.60 L1717.74,1333.60 L1719.25,1333.60 L1720.75,1333.60 L1722.26,1333.60 L1723.76,1333.60 L1725.27,1333.60 L1726.78,1333.60 L1728.28,1333.60 L1729.79,1333.60 L1731.29,1333.60 L1732.80,1333.60 L1734.30,1333.60 L1735.81,1333.60 L1737.32,1333.60 L1738.82,1333.60 L1740.33,1333.60 L1741.83,1333.60 L1743.34,1333.60 L1744.85,1333.60 L1746.35,1333.60 L1747.86,1333.60 L1749.36,1333.60 L1750.87,1333.60 L1752.38,1333.60 L1753.88,1333.60 L1755.39,1333.60 L1756.89,1333.60 L1758.40,1333.60 L1759.91,1333.60 L1761.41,1333.60 L1762.92,1333.60 L1764.42,1333.60 L1765.93,1333.60 L1767.44,1333.60 L1768.94,1333.60 L1770.45,1333.60 L1771.95,1333.60 L1773.46,1333.60 L1774.96,1333.60 L1776.47,1333.60 L1777.98,1333.60 L1779.48,1333.60 L1780.99,1333.60 L1782.49,1333.60 L1784.00,1333.60 L1785.51,1333.60 L1787.01,1333.60 L1788.52,1333.60 L1790.02,1333.60 L1791.53,1333.60 L1793.04,1333.60 L1794.54,1333.60 L1796.05,1333.60 L1797.55,1333.60 L1799.06,1333.60 L1800.57,1333.60 L1802.07,1333.60 L1803.58,1333.60 L1805.08,1333.60 L1806.59,1333.60 L1808.10,1333.60 L1809.60,1333.61 L1811.11,1333.61 L1812.61,1333.63 L1814.12,1333.64 L1815.63,1333.66 L1817.13,1333.68 L1818.64,1333.70 L1820.14,1333.73 L1821.65,1333.76 L1823.15,1333.80 L1824.66,1333.83 L1826.17,1333.87 L1827.67,1333.91 L1829.18,1333.95 L1830.68,1334.00 L1832.19,1334.05 L1833.70,1334.10 L1835.20,1334.15 L1836.71,1334.20 L1838.21,1334.26 L1839.72,1334.32 L1841.23,1334.38 L1842.73,1334.44 L1844.24,1334.52 L1845.74,1334.62 L1847.25,1334.74 L1848.76,1334.88 L1850.26,1335.03 L1851.77,1335.19 L1853.27,1335.38 L1854.78,1335.57 L1856.29,1335.79 L1857.79,1336.01 L1859.30,1336.25 L1860.80,1336.50 L1862.31,1336.76 L1863.82,1337.03 L1865.32,1337.32 L1866.83,1337.61 L1868.33,1337.92 L1869.84,1338.23 L1871.34,1338.55 L1872.85,1338.88 L1874.36,1339.22 L1875.86,1339.62 L1877.37,1340.06 L1878.87,1340.55 L1880.38,1341.08 L1881.89,1341.66 L1883.39,1342.27 L1884.90,1342.92 L1886.40,1343.60 L1887.91,1344.31 L1889.42,1345.05 L1890.92,1345.81 L1892.43,1346.59 L1893.93,1347.39 L1895.44,1348.20 L1896.95,1349.03 L1898.45,1349.86 L1899.96,1350.72 L1901.46,1351.65 L1902.97,1352.63 L1904.48,1353.66 L1905.98,1354.74 L1907.49,1355.86 L1908.99,1357.03 L1910.50,1358.23 L1912.01,1359.45 L1913.51,1360.71 L1915.02,1361.99 L1916.52,1363.28 L1918.03,1364.59 L1919.53,1365.93 L1921.04,1367.34 L1922.55,1368.79 L1924.05,1370.30 L1925.56,1371.86 L1927.06,1373.48 L1928.57,1375.15 L1930.08,1376.91 L1931.58,1378.76 L1933.09,1380.70 L1934.59,1382.72 L1936.10,1384.80" fill="none" stroke="#d40c00" stroke-width="6.0" stroke-linejoin="round"/>
<rect x="1809.10" y="1115.00" width="127.00" height="298.50" fill="#4d4d4d" fill-opacity="0.895" stroke="#6a6a6a" stroke-width="1"/>
<line x1="1428.10" y1="1333.00" x2="1936.10" y2="1333.00" stroke="#000" stroke-opacity="0.7" stroke-width="5.6" stroke-dasharray="23.65 23.65"/>
<line x1="1428.10" y1="1412.70" x2="1428.10" y2="1407.10" stroke="#262626" stroke-width="1.0"/>
<line x1="1428.10" y1="1115.00" x2="1428.10" y2="1120.60" stroke="#262626" stroke-width="1.0"/>
<line x1="1512.77" y1="1412.70" x2="1512.77" y2="1407.10" stroke="#262626" stroke-width="1.0"/>
<line x1="1512.77" y1="1115.00" x2="1512.77" y2="1120.60" stroke="#262626" stroke-width="1.0"/>
<line x1="1597.43" y1="1412.70" x2="1597.43" y2="1407.10" stroke="#262626" stroke-width="1.0"/>
<line x1="1597.43" y1="1115.00" x2="1597.43" y2="1120.60" stroke="#262626" stroke-width="1.0"/>
<line x1="1682.10" y1="1412.70" x2="1682.10" y2="1407.10" stroke="#262626" stroke-width="1.0"/>
<line x1="1682.10" y1="1115.00" x2="1682.10" y2="1120.60" stroke="#262626" stroke-width="1.0"/>
<line x1="1766.77" y1="1412.70" x2="1766.77" y2="1407.10" stroke="#262626" stroke-width="1.0"/>
<line x1="1766.77" y1="1115.00" x2="1766.77" y2="1120.60" stroke="#262626" stroke-width="1.0"/>
<line x1="1851.43" y1="1412.70" x2="1851.43" y2="1407.10" stroke="#262626" stroke-width="1.0"/>
<line x1="1851.43" y1="1115.00" x2="1851.43" y2="1120.60" stroke="#262626" stroke-width="1.0"/>
<line x1="1936.10" y1="1412.70" x2="1936.10" y2="1407.10" stroke="#262626" stroke-width="1.0"/>
<line x1="1936.10" y1="1115.00" x2="1936.10" y2="1120.60" stroke="#262626" stroke-width="1.0"/>
<line x1="1428.10" y1="1412.70" x2="1433.70" y2="1412.70" stroke="#262626" stroke-width="1.0"/>
<line x1="1936.10" y1="1412.70" x2="1930.50" y2="1412.70" stroke="#262626" stroke-width="1.0"/>
<line x1="1428.10" y1="1263.85" x2="1433.70" y2="1263.85" stroke="#262626" stroke-width="1.0"/>
<line x1="1936.10" y1="1263.85" x2="1930.50" y2="1263.85" stroke="#262626" stroke-width="1.0"/>
<line x1="1428.10" y1="1115.00" x2="1433.70" y2="1115.00" stroke="#262626" stroke-width="1.0"/>
<line x1="1936.10" y1="1115.00" x2="1930.50" y2="1115.00" stroke="#262626" stroke-width="1.0"/>
<rect x="1428.10" y="1115.00" width="508.00" height="297.70" fill="none" stroke="#262626" stroke-width="1.05"/>
<rect x="1511.40" y="1130.30" width="408.80" height="96.40" fill="#fff" stroke="#262626" stroke-width="1.05"/>
<line x1="1517.00" y1="1155.30" x2="1576.60" y2="1155.30" stroke="#d40c00" stroke-width="6.0"/>
<text transform="translate(1580.82,1165.40) scale(1.0941,1)" fill="#000" stroke="#fff" stroke-width="0.5"><tspan x="0.00" y="0.00" style="font-family:'Liberation Serif';font-size:38.50px">Optimal treatment</tspan></text>
<line x1="1516.90" y1="1200.90" x2="1576.60" y2="1200.90" stroke="#000" stroke-opacity="0.7" stroke-width="5.6" stroke-dasharray="24 23.1"/>
<text transform="translate(1580.87,1210.90) scale(1.0581,1)" fill="#000" stroke="#fff" stroke-width="0.5"><tspan x="0.00" y="0.00" style="font-family:'Liberation Serif';font-size:38.50px">Optimal equilibrium</tspan></text>
<text transform="translate(1420.65,1450.90)" fill="#262626" stroke="#262626" stroke-width="0.35"><tspan x="0.00" y="0.00" style="font-family:'Liberation Sans';font-size:26.80px">0</tspan></text>
<text transform="translate(1490.41,1450.90)" fill="#262626" stroke="#262626" stroke-width="0.35"><tspan x="0.00" y="0.00" style="font-family:'Liberation Sans';font-size:26.80px">200</tspan></text>
<text transform="translate(1575.08,1450.90)" fill="#262626" stroke="#262626" stroke-width="0.35"><tspan x="0.00" y="0.00" style="font-family:'Liberation Sans';font-size:26.80px">400</tspan></text>
<text transform="translate(1659.74,1450.90)" fill="#262626" stroke="#262626" stroke-width="0.35"><tspan x="0.00" y="0.00" style="font-family:'Liberation Sans';font-size:26.80px">600</tspan></text>
<text transform="translate(1744.41,1450.90)" fill="#262626" stroke="#262626" stroke-width="0.35"><tspan x="0.00" y="0.00" style="font-family:'Liberation Sans';font-size:26.80px">800</tspan></text>
<text transform="translate(1821.62,1450.90)" fill="#262626" stroke="#262626" stroke-width="0.35"><tspan x="0.00" y="0.00" style="font-family:'Liberation Sans';font-size:26.80px">1000</tspan></text>
<text transform="translate(1906.29,1450.90)" fill="#262626" stroke="#262626" stroke-width="0.35"><tspan x="0.00" y="0.00" style="font-family:'Liberation Sans';font-size:26.80px">1200</tspan></text>
<text transform="translate(1403.59,1124.70)" fill="#262626" stroke="#262626" stroke-width="0.35"><tspan x="0.00" y="0.00" style="font-family:'Liberation Sans';font-size:26.80px">1</tspan></text>
<text transform="translate(1381.24,1273.55)" fill="#262626" stroke="#262626" stroke-width="0.35"><tspan x="0.00" y="0.00" style="font-family:'Liberation Sans';font-size:26.80px">0.5</tspan></text>
<text transform="translate(1403.59,1422.40)" fill="#262626" stroke="#262626" stroke-width="0.35"><tspan x="0.00" y="0.00" style="font-family:'Liberation Sans';font-size:26.80px">0</tspan></text>
<text transform="translate(1626.71,1491.21) scale(1.0709,1)" fill="#262626" stroke="#fff" stroke-width="0.5"><tspan x="0.00" y="0.00" style="font-family:'Liberation Serif';font-size:39.10px">Time </tspan><tspan x="90.92" y="0.00" style="font-family:'Liberation Serif';font-size:39.10px;font-style:italic">t</tspan></text>
<path d="M150.60,1620.39 L151.84,1623.73 L153.09,1627.05 L154.33,1630.35 L155.57,1633.62 L156.82,1636.87 L158.06,1640.10 L159.30,1643.29 L160.55,1646.47 L161.79,1649.61 L163.03,1652.72 L164.28,1655.81 L165.52,1658.86 L166.77,1661.88 L168.01,1664.86 L169.25,1667.81 L170.50,1670.72 L171.74,1673.59 L172.98,1676.43 L174.23,1679.22 L175.47,1681.98 L176.71,1684.69 L177.96,1687.36 L179.20,1689.98 L180.44,1692.56 L181.69,1695.09 L182.93,1697.58 L184.17,1700.02 L185.42,1702.41 L186.66,1704.75 L187.90,1707.04 L189.15,1709.29 L190.39,1711.48 L191.63,1713.63 L192.88,1715.72 L194.12,1717.76 L195.37,1719.76 L196.61,1721.70 L197.85,1723.59 L199.10,1725.44 L200.34,1727.23 L201.58,1728.98 L202.83,1730.68 L204.07,1732.33 L205.31,1733.93 L206.56,1735.49 L207.80,1737.00 L209.04,1738.47 L210.29,1739.90 L211.53,1741.28 L212.77,1742.63 L214.02,1743.93 L215.26,1745.19 L216.50,1746.42 L217.75,1747.61 L218.99,1748.77 L220.23,1749.89 L221.48,1750.97 L222.72,1752.03 L223.97,1753.06 L225.21,1754.05 L226.45,1755.02 L227.70,1755.96 L228.94,1756.87 L230.18,1757.76 L231.43,1758.63 L232.67,1759.47 L233.91,1760.29 L235.16,1761.09 L236.40,1761.87 L237.64,1762.63 L238.89,1763.37 L240.13,1764.10 L241.37,1764.81 L242.62,1765.50 L243.86,1766.18 L245.10,1766.84 L246.35,1767.49 L247.59,1768.13 L248.83,1768.76 L250.08,1769.37 L251.32,1769.98 L252.57,1770.57 L253.81,1771.16 L255.05,1771.73 L256.30,1772.30 L257.54,1772.85 L258.78,1773.41 L260.03,1773.95 L261.27,1774.48 L262.51,1775.01 L263.76,1775.54 L265.00,1776.05 L266.24,1776.57 L267.49,1777.07 L268.73,1777.57 L269.97,1778.07 L271.22,1778.56 L272.46,1779.05 L273.70,1779.54 L274.95,1780.02 L276.19,1780.49 L277.43,1780.97 L278.68,1781.44 L279.92,1781.91 L281.17,1782.37 L282.41,1782.84 L283.65,1783.30 L284.90,1783.75 L286.14,1784.21 L287.38,1784.66 L288.63,1785.12 L289.87,1785.57 L291.11,1786.01 L292.36,1786.46 L293.60,1786.91 L294.84,1787.35 L296.09,1787.79 L297.33,1788.23 L298.57,1788.68 L299.82,1789.11 L301.06,1789.55 L302.30,1789.99 L303.55,1790.43 L304.79,1790.86 L306.03,1791.29 L307.28,1791.73 L308.52,1792.16 L309.77,1792.59 L311.01,1793.02 L312.25,1793.46 L313.50,1793.89 L314.74,1794.32 L315.98,1794.74 L317.23,1795.17 L318.47,1795.60 L319.71,1796.03 L320.96,1796.46 L322.20,1796.88 L323.44,1797.31 L324.69,1797.74 L325.93,1798.16 L327.17,1798.59 L328.42,1799.02 L329.66,1799.44 L330.90,1799.87 L332.15,1800.29 L333.39,1800.72 L334.63,1801.14 L335.88,1801.56 L337.12,1801.99 L338.37,1802.41 L339.61,1802.84 L340.85,1803.26 L342.10,1803.68 L343.34,1804.11 L344.58,1804.53 L345.83,1804.95 L347.07,1805.37 L348.31,1805.80 L349.56,1806.22 L350.80,1806.64 L352.04,1807.07 L353.29,1807.49 L354.53,1807.91 L355.77,1808.33 L357.02,1808.75 L358.26,1809.18 L359.50,1809.60 L360.75,1810.02 L361.99,1810.44 L363.23,1810.86 L364.48,1811.29 L365.72,1811.71 L366.97,1812.13 L368.21,1812.55 L369.45,1812.97 L370.70,1813.40 L371.94,1813.82 L373.18,1814.24 L374.43,1814.66 L375.67,1815.08 L376.91,1815.50 L378.16,1815.92 L379.40,1816.35 L380.64,1816.77 L381.89,1817.19 L383.13,1817.61 L384.37,1818.03 L385.62,1818.45 L386.86,1818.88 L388.10,1819.30 L389.35,1819.72 L390.59,1820.14 L391.83,1820.56 L393.08,1820.98 L394.32,1821.40 L395.57,1821.82 L396.81,1822.25 L398.05,1822.67 L399.30,1823.09 L400.54,1823.51 L401.78,1823.93 L403.03,1824.35 L404.27,1824.77 L405.51,1825.19 L406.76,1825.62 L408.00,1826.04 L409.24,1826.46 L410.49,1826.88 L411.73,1827.30 L412.97,1827.72 L414.22,1828.14 L415.46,1828.56 L416.70,1828.99 L417.95,1829.41 L419.19,1829.83 L420.43,1830.25 L421.68,1830.67 L422.92,1831.09 L424.17,1831.51 L425.41,1831.93 L426.65,1832.35 L427.90,1832.78 L429.14,1833.20 L430.38,1833.62 L431.63,1834.04 L432.87,1834.46 L434.11,1834.88 L435.36,1835.30 L436.60,1835.72 L437.84,1836.15 L439.09,1836.57 L440.33,1836.99 L441.57,1837.41 L442.82,1837.83 L444.06,1838.25 L445.30,1838.67 L446.55,1839.09 L447.79,1839.51 L449.03,1839.94 L450.28,1840.36 L451.52,1840.78 L452.77,1841.20 L454.01,1841.62 L455.25,1842.04 L456.50,1842.46 L457.74,1842.88 L458.98,1843.30 L460.23,1843.73 L461.47,1844.15 L462.71,1844.57 L463.96,1844.99 L465.20,1845.41 L466.44,1845.83 L467.69,1846.25 L468.93,1846.67 L470.17,1847.09 L471.42,1847.52 L472.66,1847.94 L473.90,1848.36 L475.15,1848.78 L476.39,1849.20 L477.63,1849.62 L478.88,1850.04 L480.12,1850.46 L481.37,1850.89 L482.61,1851.31 L483.85,1851.73 L485.10,1852.15 L486.34,1852.57 L487.58,1852.99 L488.83,1853.41 L490.07,1853.83 L491.31,1854.25 L492.56,1854.68 L493.80,1855.10 L495.04,1855.52 L496.29,1855.94 L497.53,1856.36 L498.77,1856.78 L500.02,1857.20 L501.26,1857.62 L502.50,1858.04 L503.75,1858.47 L504.99,1858.89 L506.23,1859.31 L507.48,1859.73 L508.72,1860.15 L509.97,1860.57 L511.21,1860.99 L512.45,1861.41 L513.70,1861.83 L514.94,1862.26 L516.18,1862.68 L517.43,1863.10 L518.67,1863.52 L519.91,1863.94 L521.16,1864.36 L522.40,1864.78" fill="none" stroke="#4d6ba6" stroke-width="6.0" stroke-linejoin="round"/>
<path d="M150.60,1620.99 L151.84,1624.34 L153.09,1627.67 L154.33,1630.98 L155.57,1634.27 L156.82,1637.53 L158.06,1640.76 L159.30,1643.97 L160.55,1647.16 L161.79,1650.31 L163.03,1653.44 L164.28,1656.53 L165.52,1659.59 L166.77,1662.62 L168.01,1665.62 L169.25,1668.58 L170.50,1671.50 L171.74,1674.39 L172.98,1677.23 L174.23,1680.04 L175.47,1682.80 L176.71,1685.53 L177.96,1688.21 L179.20,1690.84 L180.44,1693.43 L181.69,1695.98 L182.93,1698.47 L184.17,1700.92 L185.42,1703.33 L186.66,1705.68 L187.90,1707.99 L189.15,1710.24 L190.39,1712.45 L191.63,1714.60 L192.88,1716.71 L194.12,1718.76 L195.37,1720.77 L196.61,1722.72 L197.85,1724.63 L199.10,1726.48 L200.34,1728.29 L201.58,1730.04 L202.83,1731.75 L204.07,1733.42 L205.31,1735.03 L206.56,1736.60 L207.80,1738.13 L209.04,1739.61 L210.29,1741.04 L211.53,1742.44 L212.77,1743.79 L214.02,1745.11 L215.26,1746.39 L216.50,1747.62 L217.75,1748.83 L218.99,1749.99 L220.23,1751.12 L221.48,1752.22 L222.72,1753.29 L223.97,1754.33 L225.21,1755.33 L226.45,1756.31 L227.70,1757.26 L228.94,1758.19 L230.18,1759.09 L231.43,1759.97 L232.67,1760.82 L233.91,1761.65 L235.16,1762.46 L236.40,1763.26 L237.64,1764.03 L238.89,1764.78 L240.13,1765.52 L241.37,1766.24 L242.62,1766.94 L243.86,1767.63 L245.10,1768.31 L246.35,1768.97 L247.59,1769.62 L248.83,1770.26 L250.08,1770.88 L251.32,1771.50 L252.57,1772.10 L253.81,1772.70 L255.05,1773.29 L256.30,1773.86 L257.54,1774.43 L258.78,1774.99 L260.03,1775.55 L261.27,1776.10 L262.51,1776.64 L263.76,1777.17 L265.00,1777.70 L266.24,1778.22 L267.49,1778.74 L268.73,1779.25 L269.97,1779.76 L271.22,1780.27 L272.46,1780.77 L273.70,1781.26 L274.95,1781.75 L276.19,1782.24 L277.43,1782.73 L278.68,1783.21 L279.92,1783.69 L281.17,1784.17 L282.41,1784.64 L283.65,1785.11 L284.90,1785.58 L286.14,1786.05 L287.38,1786.52 L288.63,1786.98 L289.87,1787.44 L291.11,1787.90 L292.36,1788.36 L293.60,1788.81 L294.84,1789.27 L296.09,1789.72 L297.33,1790.18 L298.57,1790.63 L299.82,1791.08 L301.06,1791.53 L302.30,1791.98 L303.55,1792.42 L304.79,1792.87 L306.03,1793.32 L307.28,1793.76 L308.52,1794.21 L309.77,1794.65 L311.01,1795.09 L312.25,1795.53 L313.50,1795.98 L314.74,1796.42 L315.98,1796.86 L317.23,1797.30 L318.47,1797.74 L319.71,1798.18 L320.96,1798.62 L322.20,1799.05 L323.44,1799.49 L324.69,1799.93 L325.93,1800.37 L327.17,1800.80 L328.42,1801.24 L329.66,1801.68 L330.90,1802.11 L332.15,1802.55 L333.39,1802.99 L334.63,1803.42 L335.88,1803.86 L337.12,1804.29 L338.37,1804.73 L339.61,1805.16 L340.85,1805.60 L342.10,1806.03 L343.34,1806.47 L344.58,1806.90 L345.83,1807.34 L347.07,1807.77 L348.31,1808.21 L349.56,1808.64 L350.80,1809.07 L352.04,1809.51 L353.29,1809.94 L354.53,1810.37 L355.77,1810.81 L357.02,1811.24 L358.26,1811.68 L359.50,1812.11 L360.75,1812.54 L361.99,1812.98 L363.23,1813.41 L364.48,1813.84 L365.72,1814.28 L366.97,1814.71 L368.21,1815.14 L369.45,1815.58 L370.70,1816.01 L371.94,1816.44 L373.18,1816.87 L374.43,1817.31 L375.67,1817.74 L376.91,1818.17 L378.16,1818.61 L379.40,1819.04 L380.64,1819.47 L381.89,1819.90 L383.13,1820.34 L384.37,1820.77 L385.62,1821.20 L386.86,1821.64 L388.10,1822.07 L389.35,1822.50 L390.59,1822.93 L391.83,1823.37 L393.08,1823.80 L394.32,1824.23 L395.57,1824.66 L396.81,1825.10 L398.05,1825.53 L399.30,1825.96 L400.54,1826.40 L401.78,1826.83 L403.03,1827.26 L404.27,1827.69 L405.51,1828.13 L406.76,1828.56 L408.00,1828.99 L409.24,1829.42 L410.49,1829.86 L411.73,1830.29 L412.97,1830.72 L414.22,1831.15 L415.46,1831.59 L416.70,1832.02 L417.95,1832.45 L419.19,1832.88 L420.43,1833.32 L421.68,1833.75 L422.92,1834.18 L424.17,1834.61 L425.41,1835.05 L426.65,1835.48 L427.90,1835.91 L429.14,1836.34 L430.38,1836.78 L431.63,1837.21 L432.87,1837.64 L434.11,1838.07 L435.36,1838.51 L436.60,1838.94 L437.84,1839.37 L439.09,1839.80 L440.33,1840.24 L441.57,1840.67 L442.82,1841.10 L444.06,1841.53 L445.30,1841.97 L446.55,1842.40 L447.79,1842.83 L449.03,1843.26 L450.28,1843.70 L451.52,1844.13 L452.77,1844.56 L454.01,1844.99 L455.25,1845.43 L456.50,1845.86 L457.74,1846.29 L458.98,1846.72 L460.23,1847.16 L461.47,1847.59 L462.71,1848.02 L463.96,1848.45 L465.20,1848.89 L466.44,1849.32 L467.69,1849.75 L468.93,1850.18 L470.17,1850.62 L471.42,1851.05 L472.66,1851.48 L473.90,1851.91 L475.15,1852.35 L476.39,1852.78 L477.63,1853.21 L478.88,1853.64 L480.12,1854.08 L481.37,1854.51 L482.61,1854.94 L483.85,1855.37 L485.10,1855.81 L486.34,1856.24 L487.58,1856.67 L488.83,1857.10 L490.07,1857.54 L491.31,1857.97 L492.56,1858.40 L493.80,1858.83 L495.04,1859.27 L496.29,1859.70 L497.53,1860.13 L498.77,1860.56 L500.02,1861.00 L501.26,1861.43 L502.50,1861.86 L503.75,1862.29 L504.99,1862.73 L506.23,1863.16 L507.48,1863.59 L508.72,1864.02 L509.97,1864.46 L511.21,1864.89 L512.45,1865.32 L513.70,1865.76 L514.94,1866.19 L516.18,1866.62 L517.43,1867.05 L518.67,1867.49 L519.91,1867.92 L521.16,1868.35 L522.40,1868.78" fill="none" stroke="#d40c00" stroke-width="6.0" stroke-linejoin="round"/>
<line x1="150.80" y1="1917.40" x2="150.80" y2="1911.80" stroke="#262626" stroke-width="1.0"/>
<line x1="150.80" y1="1618.80" x2="150.80" y2="1624.40" stroke="#262626" stroke-width="1.0"/>
<line x1="235.33" y1="1917.40" x2="235.33" y2="1911.80" stroke="#262626" stroke-width="1.0"/>
<line x1="235.33" y1="1618.80" x2="235.33" y2="1624.40" stroke="#262626" stroke-width="1.0"/>
<line x1="319.87" y1="1917.40" x2="319.87" y2="1911.80" stroke="#262626" stroke-width="1.0"/>
<line x1="319.87" y1="1618.80" x2="319.87" y2="1624.40" stroke="#262626" stroke-width="1.0"/>
<line x1="404.40" y1="1917.40" x2="404.40" y2="1911.80" stroke="#262626" stroke-width="1.0"/>
<line x1="404.40" y1="1618.80" x2="404.40" y2="1624.40" stroke="#262626" stroke-width="1.0"/>
<line x1="488.93" y1="1917.40" x2="488.93" y2="1911.80" stroke="#262626" stroke-width="1.0"/>
<line x1="488.93" y1="1618.80" x2="488.93" y2="1624.40" stroke="#262626" stroke-width="1.0"/>
<line x1="573.47" y1="1917.40" x2="573.47" y2="1911.80" stroke="#262626" stroke-width="1.0"/>
<line x1="573.47" y1="1618.80" x2="573.47" y2="1624.40" stroke="#262626" stroke-width="1.0"/>
<line x1="658.00" y1="1917.40" x2="658.00" y2="1911.80" stroke="#262626" stroke-width="1.0"/>
<line x1="658.00" y1="1618.80" x2="658.00" y2="1624.40" stroke="#262626" stroke-width="1.0"/>
<line x1="150.80" y1="1618.80" x2="156.40" y2="1618.80" stroke="#262626" stroke-width="1.0"/>
<line x1="658.00" y1="1618.80" x2="652.40" y2="1618.80" stroke="#262626" stroke-width="1.0"/>
<line x1="150.80" y1="1743.50" x2="156.40" y2="1743.50" stroke="#262626" stroke-width="1.0"/>
<line x1="658.00" y1="1743.50" x2="652.40" y2="1743.50" stroke="#262626" stroke-width="1.0"/>
<line x1="150.80" y1="1868.20" x2="156.40" y2="1868.20" stroke="#262626" stroke-width="1.0"/>
<line x1="658.00" y1="1868.20" x2="652.40" y2="1868.20" stroke="#262626" stroke-width="1.0"/>
<line x1="150.80" y1="1905.74" x2="154.00" y2="1905.74" stroke="#262626" stroke-width="1.0"/>
<line x1="658.00" y1="1905.74" x2="654.80" y2="1905.74" stroke="#262626" stroke-width="1.0"/>
<line x1="150.80" y1="1895.86" x2="154.00" y2="1895.86" stroke="#262626" stroke-width="1.0"/>
<line x1="658.00" y1="1895.86" x2="654.80" y2="1895.86" stroke="#262626" stroke-width="1.0"/>
<line x1="150.80" y1="1887.52" x2="154.00" y2="1887.52" stroke="#262626" stroke-width="1.0"/>
<line x1="658.00" y1="1887.52" x2="654.80" y2="1887.52" stroke="#262626" stroke-width="1.0"/>
<line x1="150.80" y1="1880.28" x2="154.00" y2="1880.28" stroke="#262626" stroke-width="1.0"/>
<line x1="658.00" y1="1880.28" x2="654.80" y2="1880.28" stroke="#262626" stroke-width="1.0"/>
<line x1="150.80" y1="1873.91" x2="154.00" y2="1873.91" stroke="#262626" stroke-width="1.0"/>
<line x1="658.00" y1="1873.91" x2="654.80" y2="1873.91" stroke="#262626" stroke-width="1.0"/>
<line x1="150.80" y1="1830.66" x2="154.00" y2="1830.66" stroke="#262626" stroke-width="1.0"/>
<line x1="658.00" y1="1830.66" x2="654.80" y2="1830.66" stroke="#262626" stroke-width="1.0"/>
<line x1="150.80" y1="1808.70" x2="154.00" y2="1808.70" stroke="#262626" stroke-width="1.0"/>
<line x1="658.00" y1="1808.70" x2="654.80" y2="1808.70" stroke="#262626" stroke-width="1.0"/>
<line x1="150.80" y1="1793.12" x2="154.00" y2="1793.12" stroke="#262626" stroke-width="1.0"/>
<line x1="658.00" y1="1793.12" x2="654.80" y2="1793.12" stroke="#262626" stroke-width="1.0"/>
<line x1="150.80" y1="1781.04" x2="154.00" y2="1781.04" stroke="#262626" stroke-width="1.0"/>
<line x1="658.00" y1="1781.04" x2="654.80" y2="1781.04" stroke="#262626" stroke-width="1.0"/>
<line x1="150.80" y1="1771.16" x2="154.00" y2="1771.16" stroke="#262626" stroke-width="1.0"/>
<line x1="658.00" y1="1771.16" x2="654.80" y2="1771.16" stroke="#262626" stroke-width="1.0"/>
<line x1="150.80" y1="1762.82" x2="154.00" y2="1762.82" stroke="#262626" stroke-width="1.0"/>
<line x1="658.00" y1="1762.82" x2="654.80" y2="1762.82" stroke="#262626" stroke-width="1.0"/>
<line x1="150.80" y1="1755.58" x2="154.00" y2="1755.58" stroke="#262626" stroke-width="1.0"/>
<line x1="658.00" y1="1755.58" x2="654.80" y2="1755.58" stroke="#262626" stroke-width="1.0"/>
<line x1="150.80" y1="1749.21" x2="154.00" y2="1749.21" stroke="#262626" stroke-width="1.0"/>
<line x1="658.00" y1="1749.21" x2="654.80" y2="1749.21" stroke="#262626" stroke-width="1.0"/>
<line x1="150.80" y1="1705.96" x2="154.00" y2="1705.96" stroke="#262626" stroke-width="1.0"/>
<line x1="658.00" y1="1705.96" x2="654.80" y2="1705.96" stroke="#262626" stroke-width="1.0"/>
<line x1="150.80" y1="1684.00" x2="154.00" y2="1684.00" stroke="#262626" stroke-width="1.0"/>
<line x1="658.00" y1="1684.00" x2="654.80" y2="1684.00" stroke="#262626" stroke-width="1.0"/>
<line x1="150.80" y1="1668.42" x2="154.00" y2="1668.42" stroke="#262626" stroke-width="1.0"/>
<line x1="658.00" y1="1668.42" x2="654.80" y2="1668.42" stroke="#262626" stroke-width="1.0"/>
<line x1="150.80" y1="1656.34" x2="154.00" y2="1656.34" stroke="#262626" stroke-width="1.0"/>
<line x1="658.00" y1="1656.34" x2="654.80" y2="1656.34" stroke="#262626" stroke-width="1.0"/>
<line x1="150.80" y1="1646.46" x2="154.00" y2="1646.46" stroke="#262626" stroke-width="1.0"/>
<line x1="658.00" y1="1646.46" x2="654.80" y2="1646.46" stroke="#262626" stroke-width="1.0"/>
<line x1="150.80" y1="1638.12" x2="154.00" y2="1638.12" stroke="#262626" stroke-width="1.0"/>
<line x1="658.00" y1="1638.12" x2="654.80" y2="1638.12" stroke="#262626" stroke-width="1.0"/>
<line x1="150.80" y1="1630.88" x2="154.00" y2="1630.88" stroke="#262626" stroke-width="1.0"/>
<line x1="658.00" y1="1630.88" x2="654.80" y2="1630.88" stroke="#262626" stroke-width="1.0"/>
<line x1="150.80" y1="1624.51" x2="154.00" y2="1624.51" stroke="#262626" stroke-width="1.0"/>
<line x1="658.00" y1="1624.51" x2="654.80" y2="1624.51" stroke="#262626" stroke-width="1.0"/>
<rect x="150.80" y="1618.80" width="507.20" height="298.60" fill="none" stroke="#262626" stroke-width="1.05"/>
<text transform="translate(143.35,1955.60)" fill="#262626" stroke="#262626" stroke-width="0.35"><tspan x="0.00" y="0.00" style="font-family:'Liberation Sans';font-size:26.80px">0</tspan></text>
<text transform="translate(212.98,1955.60)" fill="#262626" stroke="#262626" stroke-width="0.35"><tspan x="0.00" y="0.00" style="font-family:'Liberation Sans';font-size:26.80px">200</tspan></text>
<text transform="translate(297.51,1955.60)" fill="#262626" stroke="#262626" stroke-width="0.35"><tspan x="0.00" y="0.00" style="font-family:'Liberation Sans';font-size:26.80px">400</tspan></text>
<text transform="translate(382.04,1955.60)" fill="#262626" stroke="#262626" stroke-width="0.35"><tspan x="0.00" y="0.00" style="font-family:'Liberation Sans';font-size:26.80px">600</tspan></text>
<text transform="translate(466.58,1955.60)" fill="#262626" stroke="#262626" stroke-width="0.35"><tspan x="0.00" y="0.00" style="font-family:'Liberation Sans';font-size:26.80px">800</tspan></text>
<text transform="translate(543.66,1955.60)" fill="#262626" stroke="#262626" stroke-width="0.35"><tspan x="0.00" y="0.00" style="font-family:'Liberation Sans';font-size:26.80px">1000</tspan></text>
<text transform="translate(628.19,1955.60)" fill="#262626" stroke="#262626" stroke-width="0.35"><tspan x="0.00" y="0.00" style="font-family:'Liberation Sans';font-size:26.80px">1200</tspan></text>
<text transform="translate(86.25,1632.80)" fill="#262626" stroke="#262626" stroke-width="0.35"><tspan x="0.00" y="0.00" style="font-family:'Liberation Sans';font-size:26.80px">10</tspan><tspan x="29.81" y="-12.70" style="font-family:'Liberation Sans';font-size:22.60px">10</tspan></text>
<text transform="translate(98.82,1757.50)" fill="#262626" stroke="#262626" stroke-width="0.35"><tspan x="0.00" y="0.00" style="font-family:'Liberation Sans';font-size:26.80px">10</tspan><tspan x="29.81" y="-12.70" style="font-family:'Liberation Sans';font-size:22.60px">9</tspan></text>
<text transform="translate(98.82,1882.20)" fill="#262626" stroke="#262626" stroke-width="0.35"><tspan x="0.00" y="0.00" style="font-family:'Liberation Sans';font-size:26.80px">10</tspan><tspan x="29.81" y="-12.70" style="font-family:'Liberation Sans';font-size:22.60px">8</tspan></text>
<text transform="translate(349.01,1995.91) scale(1.0709,1)" fill="#262626" stroke="#fff" stroke-width="0.5"><tspan x="0.00" y="0.00" style="font-family:'Liberation Serif';font-size:39.10px">Time </tspan><tspan x="90.92" y="0.00" style="font-family:'Liberation Serif';font-size:39.10px;font-style:italic">t</tspan></text>
<path d="M785.20,1618.47 L786.45,1623.03 L787.70,1627.57 L788.95,1632.09 L790.20,1636.59 L791.45,1641.08 L792.70,1645.54 L793.95,1649.97 L795.20,1654.39 L796.45,1658.77 L797.70,1663.12 L798.95,1667.45 L800.20,1671.74 L801.45,1675.99 L802.70,1680.21 L803.95,1684.39 L805.20,1688.52 L806.45,1692.61 L807.70,1696.65 L808.95,1700.64 L810.20,1704.58 L811.45,1708.46 L812.70,1712.28 L813.95,1716.05 L815.20,1719.74 L816.45,1723.37 L817.70,1726.93 L818.95,1730.42 L820.20,1733.83 L821.45,1737.17 L822.71,1740.43 L823.96,1743.60 L825.21,1746.69 L826.46,1749.70 L827.71,1752.62 L828.96,1755.45 L830.21,1758.20 L831.46,1760.85 L832.71,1763.42 L833.96,1765.90 L835.21,1768.29 L836.46,1770.59 L837.71,1772.80 L838.96,1774.92 L840.21,1776.97 L841.46,1778.92 L842.71,1780.80 L843.96,1782.60 L845.21,1784.32 L846.46,1785.96 L847.71,1787.53 L848.96,1789.04 L850.21,1790.47 L851.46,1791.84 L852.71,1793.15 L853.96,1794.40 L855.21,1795.60 L856.46,1796.74 L857.71,1797.83 L858.96,1798.87 L860.21,1799.87 L861.46,1800.83 L862.71,1801.74 L863.96,1802.62 L865.21,1803.46 L866.46,1804.27 L867.71,1805.05 L868.96,1805.80 L870.21,1806.52 L871.46,1807.21 L872.71,1807.89 L873.96,1808.53 L875.21,1809.16 L876.46,1809.77 L877.71,1810.36 L878.96,1810.94 L880.21,1811.50 L881.46,1812.04 L882.71,1812.57 L883.96,1813.09 L885.21,1813.60 L886.46,1814.10 L887.71,1814.58 L888.96,1815.06 L890.21,1815.53 L891.46,1815.99 L892.71,1816.45 L893.96,1816.89 L895.21,1817.34 L896.46,1817.77 L897.72,1818.20 L898.97,1818.63 L900.22,1819.05 L901.47,1819.47 L902.72,1819.88 L903.97,1820.29 L905.22,1820.69 L906.47,1821.10 L907.72,1821.50 L908.97,1821.90 L910.22,1822.29 L911.47,1822.68 L912.72,1823.07 L913.97,1823.46 L915.22,1823.85 L916.47,1824.24 L917.72,1824.62 L918.97,1825.00 L920.22,1825.39 L921.47,1825.77 L922.72,1826.15 L923.97,1826.53 L925.22,1826.90 L926.47,1827.28 L927.72,1827.66 L928.97,1828.03 L930.22,1828.41 L931.47,1828.78 L932.72,1829.15 L933.97,1829.53 L935.22,1829.90 L936.47,1830.27 L937.72,1830.64 L938.97,1831.01 L940.22,1831.38 L941.47,1831.76 L942.72,1832.13 L943.97,1832.50 L945.22,1832.87 L946.47,1833.24 L947.72,1833.60 L948.97,1833.97 L950.22,1834.34 L951.47,1834.71 L952.72,1835.08 L953.97,1835.45 L955.22,1835.82 L956.47,1836.19 L957.72,1836.55 L958.97,1836.92 L960.22,1837.29 L961.47,1837.66 L962.72,1838.03 L963.97,1838.39 L965.22,1838.76 L966.47,1839.13 L967.72,1839.50 L968.97,1839.86 L970.22,1840.23 L971.47,1840.60 L972.73,1840.97 L973.98,1841.33 L975.23,1841.70 L976.48,1842.07 L977.73,1842.43 L978.98,1842.80 L980.23,1843.17 L981.48,1843.54 L982.73,1843.90 L983.98,1844.27 L985.23,1844.64 L986.48,1845.00 L987.73,1845.37 L988.98,1845.74 L990.23,1846.11 L991.48,1846.47 L992.73,1846.84 L993.98,1847.21 L995.23,1847.57 L996.48,1847.94 L997.73,1848.31 L998.98,1848.67 L1000.23,1849.04 L1001.48,1849.41 L1002.73,1849.78 L1003.98,1850.14 L1005.23,1850.51 L1006.48,1850.88 L1007.73,1851.24 L1008.98,1851.61 L1010.23,1851.98 L1011.48,1852.34 L1012.73,1852.71 L1013.98,1853.08 L1015.23,1853.44 L1016.48,1853.81 L1017.73,1854.18 L1018.98,1854.55 L1020.23,1854.91 L1021.48,1855.28 L1022.73,1855.65 L1023.98,1856.01 L1025.23,1856.38 L1026.48,1856.75 L1027.73,1857.11 L1028.98,1857.48 L1030.23,1857.85 L1031.48,1858.21 L1032.73,1858.58 L1033.98,1858.95 L1035.23,1859.31 L1036.48,1859.68 L1037.73,1860.05 L1038.98,1860.42 L1040.23,1860.78 L1041.48,1861.15 L1042.73,1861.52 L1043.98,1861.88 L1045.23,1862.25 L1046.48,1862.62 L1047.74,1862.98 L1048.99,1863.35 L1050.24,1863.72 L1051.49,1864.08 L1052.74,1864.45 L1053.99,1864.82 L1055.24,1865.18 L1056.49,1865.55 L1057.74,1865.92 L1058.99,1866.29 L1060.24,1866.65 L1061.49,1867.02 L1062.74,1867.39 L1063.99,1867.75 L1065.24,1868.12 L1066.49,1868.49 L1067.74,1868.85 L1068.99,1869.22 L1070.24,1869.59 L1071.49,1869.95 L1072.74,1870.32 L1073.99,1870.69 L1075.24,1871.05 L1076.49,1871.42 L1077.74,1871.79 L1078.99,1872.16 L1080.24,1872.52 L1081.49,1872.89 L1082.74,1873.26 L1083.99,1873.62 L1085.24,1873.99 L1086.49,1874.36 L1087.74,1874.72 L1088.99,1875.09 L1090.24,1875.46 L1091.49,1875.82 L1092.74,1876.19 L1093.99,1876.56 L1095.24,1876.92 L1096.49,1877.29 L1097.74,1877.66 L1098.99,1878.02 L1100.24,1878.39 L1101.49,1878.76 L1102.74,1879.13 L1103.99,1879.49 L1105.24,1879.86 L1106.49,1880.23 L1107.74,1880.59 L1108.99,1880.96 L1110.24,1881.33 L1111.49,1881.69 L1112.74,1882.06 L1113.99,1882.43 L1115.24,1882.79 L1116.49,1883.16 L1117.74,1883.53 L1118.99,1883.89 L1120.24,1884.26 L1121.49,1884.63 L1122.75,1885.00 L1124.00,1885.36 L1125.25,1885.73 L1126.50,1886.10 L1127.75,1886.46 L1129.00,1886.83 L1130.25,1887.20 L1131.50,1887.56 L1132.75,1887.93 L1134.00,1888.30 L1135.25,1888.66 L1136.50,1889.03 L1137.75,1889.40 L1139.00,1889.76 L1140.25,1890.13 L1141.50,1890.50 L1142.75,1890.87 L1144.00,1891.23 L1145.25,1891.60 L1146.50,1891.97 L1147.75,1892.33 L1149.00,1892.70 L1150.25,1893.07 L1151.50,1893.43 L1152.75,1893.80 L1154.00,1894.17 L1155.25,1894.53 L1156.50,1894.90 L1157.75,1895.27 L1159.00,1895.63" fill="none" stroke="#4d6ba6" stroke-width="6.0" stroke-linejoin="round"/>
<path d="M785.20,1619.04 L786.45,1620.32 L787.70,1621.60 L788.95,1622.88 L790.20,1624.16 L791.45,1625.43 L792.70,1626.70 L793.95,1627.97 L795.20,1629.24 L796.45,1630.51 L797.70,1631.78 L798.95,1633.04 L800.20,1634.31 L801.45,1635.57 L802.70,1636.83 L803.95,1638.08 L805.20,1639.34 L806.45,1640.60 L807.70,1641.85 L808.95,1643.10 L810.20,1644.35 L811.45,1645.59 L812.70,1646.84 L813.95,1648.08 L815.20,1649.32 L816.45,1650.56 L817.70,1651.80 L818.95,1653.03 L820.20,1654.27 L821.45,1655.50 L822.71,1656.72 L823.96,1657.95 L825.21,1659.17 L826.46,1660.39 L827.71,1661.61 L828.96,1662.83 L830.21,1664.04 L831.46,1665.26 L832.71,1666.46 L833.96,1667.67 L835.21,1668.88 L836.46,1670.08 L837.71,1671.28 L838.96,1672.47 L840.21,1673.66 L841.46,1674.86 L842.71,1676.04 L843.96,1677.23 L845.21,1678.41 L846.46,1679.59 L847.71,1680.77 L848.96,1681.94 L850.21,1683.11 L851.46,1684.28 L852.71,1685.44 L853.96,1686.60 L855.21,1687.76 L856.46,1688.91 L857.71,1690.06 L858.96,1691.21 L860.21,1692.36 L861.46,1693.50 L862.71,1694.63 L863.96,1695.77 L865.21,1696.90 L866.46,1698.02 L867.71,1699.15 L868.96,1700.27 L870.21,1701.38 L871.46,1702.50 L872.71,1703.60 L873.96,1704.71 L875.21,1705.81 L876.46,1706.91 L877.71,1708.00 L878.96,1709.09 L880.21,1710.17 L881.46,1711.25 L882.71,1712.33 L883.96,1713.40 L885.21,1714.47 L886.46,1715.54 L887.71,1716.60 L888.96,1717.65 L890.21,1718.70 L891.46,1719.75 L892.71,1720.79 L893.96,1721.83 L895.21,1722.86 L896.46,1723.89 L897.72,1724.92 L898.97,1725.94 L900.22,1726.95 L901.47,1727.96 L902.72,1728.97 L903.97,1729.97 L905.22,1730.97 L906.47,1731.96 L907.72,1732.95 L908.97,1733.93 L910.22,1734.91 L911.47,1735.88 L912.72,1736.84 L913.97,1737.81 L915.22,1738.76 L916.47,1739.72 L917.72,1740.66 L918.97,1741.61 L920.22,1742.54 L921.47,1743.47 L922.72,1744.40 L923.97,1745.32 L925.22,1746.24 L926.47,1747.15 L927.72,1748.06 L928.97,1748.96 L930.22,1749.85 L931.47,1750.74 L932.72,1751.63 L933.97,1752.51 L935.22,1753.38 L936.47,1754.25 L937.72,1755.11 L938.97,1755.97 L940.22,1756.82 L941.47,1757.67 L942.72,1758.51 L943.97,1759.35 L945.22,1760.18 L946.47,1761.01 L947.72,1761.83 L948.97,1762.64 L950.22,1763.45 L951.47,1764.26 L952.72,1765.06 L953.97,1765.85 L955.22,1766.64 L956.47,1767.42 L957.72,1768.20 L958.97,1768.97 L960.22,1769.74 L961.47,1770.50 L962.72,1771.25 L963.97,1772.00 L965.22,1772.75 L966.47,1773.49 L967.72,1774.22 L968.97,1774.95 L970.22,1775.68 L971.47,1776.40 L972.73,1777.11 L973.98,1777.82 L975.23,1778.52 L976.48,1779.22 L977.73,1779.92 L978.98,1780.60 L980.23,1781.29 L981.48,1781.96 L982.73,1782.64 L983.98,1783.31 L985.23,1783.97 L986.48,1784.63 L987.73,1785.28 L988.98,1785.93 L990.23,1786.57 L991.48,1787.21 L992.73,1787.84 L993.98,1788.47 L995.23,1789.10 L996.48,1789.72 L997.73,1790.33 L998.98,1790.94 L1000.23,1791.55 L1001.48,1792.15 L1002.73,1792.74 L1003.98,1793.34 L1005.23,1793.92 L1006.48,1794.51 L1007.73,1795.09 L1008.98,1795.66 L1010.23,1796.23 L1011.48,1796.80 L1012.73,1797.36 L1013.98,1797.91 L1015.23,1798.47 L1016.48,1799.02 L1017.73,1799.56 L1018.98,1800.10 L1020.23,1800.64 L1021.48,1801.17 L1022.73,1801.70 L1023.98,1802.23 L1025.23,1802.75 L1026.48,1803.27 L1027.73,1803.78 L1028.98,1804.29 L1030.23,1804.80 L1031.48,1805.30 L1032.73,1805.80 L1033.98,1806.30 L1035.23,1806.79 L1036.48,1807.28 L1037.73,1807.76 L1038.98,1808.24 L1040.23,1808.72 L1041.48,1809.20 L1042.73,1809.67 L1043.98,1810.14 L1045.23,1810.61 L1046.48,1811.07 L1047.74,1811.53 L1048.99,1811.99 L1050.24,1812.44 L1051.49,1812.89 L1052.74,1813.34 L1053.99,1813.78 L1055.24,1814.22 L1056.49,1814.66 L1057.74,1815.10 L1058.99,1815.53 L1060.24,1815.97 L1061.49,1816.39 L1062.74,1816.82 L1063.99,1817.24 L1065.24,1817.66 L1066.49,1818.08 L1067.74,1818.50 L1068.99,1818.91 L1070.24,1819.32 L1071.49,1819.73 L1072.74,1820.14 L1073.99,1820.54 L1075.24,1820.94 L1076.49,1821.34 L1077.74,1821.74 L1078.99,1822.13 L1080.24,1822.53 L1081.49,1822.92 L1082.74,1823.31 L1083.99,1823.69 L1085.24,1824.08 L1086.49,1824.46 L1087.74,1824.84 L1088.99,1825.22 L1090.24,1825.60 L1091.49,1825.97 L1092.74,1826.35 L1093.99,1826.72 L1095.24,1827.09 L1096.49,1827.45 L1097.74,1827.82 L1098.99,1828.19 L1100.24,1828.55 L1101.49,1828.91 L1102.74,1829.27 L1103.99,1829.63 L1105.24,1829.99 L1106.49,1830.34 L1107.74,1830.70 L1108.99,1831.05 L1110.24,1831.40 L1111.49,1831.75 L1112.74,1832.10 L1113.99,1832.44 L1115.24,1832.79 L1116.49,1833.13 L1117.74,1833.48 L1118.99,1833.82 L1120.24,1834.16 L1121.49,1834.50 L1122.75,1834.83 L1124.00,1835.17 L1125.25,1835.51 L1126.50,1835.84 L1127.75,1836.17 L1129.00,1836.51 L1130.25,1836.84 L1131.50,1837.17 L1132.75,1837.50 L1134.00,1837.83 L1135.25,1838.15 L1136.50,1838.48 L1137.75,1838.80 L1139.00,1839.13 L1140.25,1839.45 L1141.50,1839.77 L1142.75,1840.09 L1144.00,1840.41 L1145.25,1840.73 L1146.50,1841.05 L1147.75,1841.37 L1149.00,1841.69 L1150.25,1842.00 L1151.50,1842.32 L1152.75,1842.63 L1154.00,1842.95 L1155.25,1843.26 L1156.50,1843.57 L1157.75,1843.88 L1159.00,1844.20" fill="none" stroke="#d40c00" stroke-width="6.0" stroke-linejoin="round"/>
<line x1="785.20" y1="1917.40" x2="785.20" y2="1911.80" stroke="#262626" stroke-width="1.0"/>
<line x1="785.20" y1="1618.80" x2="785.20" y2="1624.40" stroke="#262626" stroke-width="1.0"/>
<line x1="870.07" y1="1917.40" x2="870.07" y2="1911.80" stroke="#262626" stroke-width="1.0"/>
<line x1="870.07" y1="1618.80" x2="870.07" y2="1624.40" stroke="#262626" stroke-width="1.0"/>
<line x1="954.93" y1="1917.40" x2="954.93" y2="1911.80" stroke="#262626" stroke-width="1.0"/>
<line x1="954.93" y1="1618.80" x2="954.93" y2="1624.40" stroke="#262626" stroke-width="1.0"/>
<line x1="1039.80" y1="1917.40" x2="1039.80" y2="1911.80" stroke="#262626" stroke-width="1.0"/>
<line x1="1039.80" y1="1618.80" x2="1039.80" y2="1624.40" stroke="#262626" stroke-width="1.0"/>
<line x1="1124.67" y1="1917.40" x2="1124.67" y2="1911.80" stroke="#262626" stroke-width="1.0"/>
<line x1="1124.67" y1="1618.80" x2="1124.67" y2="1624.40" stroke="#262626" stroke-width="1.0"/>
<line x1="1209.53" y1="1917.40" x2="1209.53" y2="1911.80" stroke="#262626" stroke-width="1.0"/>
<line x1="1209.53" y1="1618.80" x2="1209.53" y2="1624.40" stroke="#262626" stroke-width="1.0"/>
<line x1="1294.40" y1="1917.40" x2="1294.40" y2="1911.80" stroke="#262626" stroke-width="1.0"/>
<line x1="1294.40" y1="1618.80" x2="1294.40" y2="1624.40" stroke="#262626" stroke-width="1.0"/>
<line x1="785.20" y1="1618.80" x2="790.80" y2="1618.80" stroke="#262626" stroke-width="1.0"/>
<line x1="1294.40" y1="1618.80" x2="1288.80" y2="1618.80" stroke="#262626" stroke-width="1.0"/>
<line x1="785.20" y1="1743.50" x2="790.80" y2="1743.50" stroke="#262626" stroke-width="1.0"/>
<line x1="1294.40" y1="1743.50" x2="1288.80" y2="1743.50" stroke="#262626" stroke-width="1.0"/>
<line x1="785.20" y1="1868.20" x2="790.80" y2="1868.20" stroke="#262626" stroke-width="1.0"/>
<line x1="1294.40" y1="1868.20" x2="1288.80" y2="1868.20" stroke="#262626" stroke-width="1.0"/>
<line x1="785.20" y1="1905.74" x2="788.40" y2="1905.74" stroke="#262626" stroke-width="1.0"/>
<line x1="1294.40" y1="1905.74" x2="1291.20" y2="1905.74" stroke="#262626" stroke-width="1.0"/>
<line x1="785.20" y1="1895.86" x2="788.40" y2="1895.86" stroke="#262626" stroke-width="1.0"/>
<line x1="1294.40" y1="1895.86" x2="1291.20" y2="1895.86" stroke="#262626" stroke-width="1.0"/>
<line x1="785.20" y1="1887.52" x2="788.40" y2="1887.52" stroke="#262626" stroke-width="1.0"/>
<line x1="1294.40" y1="1887.52" x2="1291.20" y2="1887.52" stroke="#262626" stroke-width="1.0"/>
<line x1="785.20" y1="1880.28" x2="788.40" y2="1880.28" stroke="#262626" stroke-width="1.0"/>
<line x1="1294.40" y1="1880.28" x2="1291.20" y2="1880.28" stroke="#262626" stroke-width="1.0"/>
<line x1="785.20" y1="1873.91" x2="788.40" y2="1873.91" stroke="#262626" stroke-width="1.0"/>
<line x1="1294.40" y1="1873.91" x2="1291.20" y2="1873.91" stroke="#262626" stroke-width="1.0"/>
<line x1="785.20" y1="1830.66" x2="788.40" y2="1830.66" stroke="#262626" stroke-width="1.0"/>
<line x1="1294.40" y1="1830.66" x2="1291.20" y2="1830.66" stroke="#262626" stroke-width="1.0"/>
<line x1="785.20" y1="1808.70" x2="788.40" y2="1808.70" stroke="#262626" stroke-width="1.0"/>
<line x1="1294.40" y1="1808.70" x2="1291.20" y2="1808.70" stroke="#262626" stroke-width="1.0"/>
<line x1="785.20" y1="1793.12" x2="788.40" y2="1793.12" stroke="#262626" stroke-width="1.0"/>
<line x1="1294.40" y1="1793.12" x2="1291.20" y2="1793.12" stroke="#262626" stroke-width="1.0"/>
<line x1="785.20" y1="1781.04" x2="788.40" y2="1781.04" stroke="#262626" stroke-width="1.0"/>
<line x1="1294.40" y1="1781.04" x2="1291.20" y2="1781.04" stroke="#262626" stroke-width="1.0"/>
<line x1="785.20" y1="1771.16" x2="788.40" y2="1771.16" stroke="#262626" stroke-width="1.0"/>
<line x1="1294.40" y1="1771.16" x2="1291.20" y2="1771.16" stroke="#262626" stroke-width="1.0"/>
<line x1="785.20" y1="1762.82" x2="788.40" y2="1762.82" stroke="#262626" stroke-width="1.0"/>
<line x1="1294.40" y1="1762.82" x2="1291.20" y2="1762.82" stroke="#262626" stroke-width="1.0"/>
<line x1="785.20" y1="1755.58" x2="788.40" y2="1755.58" stroke="#262626" stroke-width="1.0"/>
<line x1="1294.40" y1="1755.58" x2="1291.20" y2="1755.58" stroke="#262626" stroke-width="1.0"/>
<line x1="785.20" y1="1749.21" x2="788.40" y2="1749.21" stroke="#262626" stroke-width="1.0"/>
<line x1="1294.40" y1="1749.21" x2="1291.20" y2="1749.21" stroke="#262626" stroke-width="1.0"/>
<line x1="785.20" y1="1705.96" x2="788.40" y2="1705.96" stroke="#262626" stroke-width="1.0"/>
<line x1="1294.40" y1="1705.96" x2="1291.20" y2="1705.96" stroke="#262626" stroke-width="1.0"/>
<line x1="785.20" y1="1684.00" x2="788.40" y2="1684.00" stroke="#262626" stroke-width="1.0"/>
<line x1="1294.40" y1="1684.00" x2="1291.20" y2="1684.00" stroke="#262626" stroke-width="1.0"/>
<line x1="785.20" y1="1668.42" x2="788.40" y2="1668.42" stroke="#262626" stroke-width="1.0"/>
<line x1="1294.40" y1="1668.42" x2="1291.20" y2="1668.42" stroke="#262626" stroke-width="1.0"/>
<line x1="785.20" y1="1656.34" x2="788.40" y2="1656.34" stroke="#262626" stroke-width="1.0"/>
<line x1="1294.40" y1="1656.34" x2="1291.20" y2="1656.34" stroke="#262626" stroke-width="1.0"/>
<line x1="785.20" y1="1646.46" x2="788.40" y2="1646.46" stroke="#262626" stroke-width="1.0"/>
<line x1="1294.40" y1="1646.46" x2="1291.20" y2="1646.46" stroke="#262626" stroke-width="1.0"/>
<line x1="785.20" y1="1638.12" x2="788.40" y2="1638.12" stroke="#262626" stroke-width="1.0"/>
<line x1="1294.40" y1="1638.12" x2="1291.20" y2="1638.12" stroke="#262626" stroke-width="1.0"/>
<line x1="785.20" y1="1630.88" x2="788.40" y2="1630.88" stroke="#262626" stroke-width="1.0"/>
<line x1="1294.40" y1="1630.88" x2="1291.20" y2="1630.88" stroke="#262626" stroke-width="1.0"/>
<line x1="785.20" y1="1624.51" x2="788.40" y2="1624.51" stroke="#262626" stroke-width="1.0"/>
<line x1="1294.40" y1="1624.51" x2="1291.20" y2="1624.51" stroke="#262626" stroke-width="1.0"/>
<rect x="785.20" y="1618.80" width="509.20" height="298.60" fill="none" stroke="#262626" stroke-width="1.05"/>
<text transform="translate(777.75,1955.60)" fill="#262626" stroke="#262626" stroke-width="0.35"><tspan x="0.00" y="0.00" style="font-family:'Liberation Sans';font-size:26.80px">0</tspan></text>
<text transform="translate(847.71,1955.60)" fill="#262626" stroke="#262626" stroke-width="0.35"><tspan x="0.00" y="0.00" style="font-family:'Liberation Sans';font-size:26.80px">200</tspan></text>
<text transform="translate(932.58,1955.60)" fill="#262626" stroke="#262626" stroke-width="0.35"><tspan x="0.00" y="0.00" style="font-family:'Liberation Sans';font-size:26.80px">400</tspan></text>
<text transform="translate(1017.44,1955.60)" fill="#262626" stroke="#262626" stroke-width="0.35"><tspan x="0.00" y="0.00" style="font-family:'Liberation Sans';font-size:26.80px">600</tspan></text>
<text transform="translate(1102.31,1955.60)" fill="#262626" stroke="#262626" stroke-width="0.35"><tspan x="0.00" y="0.00" style="font-family:'Liberation Sans';font-size:26.80px">800</tspan></text>
<text transform="translate(1179.72,1955.60)" fill="#262626" stroke="#262626" stroke-width="0.35"><tspan x="0.00" y="0.00" style="font-family:'Liberation Sans';font-size:26.80px">1000</tspan></text>
<text transform="translate(1264.59,1955.60)" fill="#262626" stroke="#262626" stroke-width="0.35"><tspan x="0.00" y="0.00" style="font-family:'Liberation Sans';font-size:26.80px">1200</tspan></text>
<text transform="translate(720.65,1632.80)" fill="#262626" stroke="#262626" stroke-width="0.35"><tspan x="0.00" y="0.00" style="font-family:'Liberation Sans';font-size:26.80px">10</tspan><tspan x="29.81" y="-12.70" style="font-family:'Liberation Sans';font-size:22.60px">10</tspan></text>
<text transform="translate(733.22,1757.50)" fill="#262626" stroke="#262626" stroke-width="0.35"><tspan x="0.00" y="0.00" style="font-family:'Liberation Sans';font-size:26.80px">10</tspan><tspan x="29.81" y="-12.70" style="font-family:'Liberation Sans';font-size:22.60px">9</tspan></text>
<text transform="translate(733.22,1882.20)" fill="#262626" stroke="#262626" stroke-width="0.35"><tspan x="0.00" y="0.00" style="font-family:'Liberation Sans';font-size:26.80px">10</tspan><tspan x="29.81" y="-12.70" style="font-family:'Liberation Sans';font-size:22.60px">8</tspan></text>
<text transform="translate(984.41,1995.91) scale(1.0709,1)" fill="#262626" stroke="#fff" stroke-width="0.5"><tspan x="0.00" y="0.00" style="font-family:'Liberation Serif';font-size:39.10px">Time </tspan><tspan x="90.92" y="0.00" style="font-family:'Liberation Serif';font-size:39.10px;font-style:italic">t</tspan></text>
<path d="M1428.20,1618.39 L1429.45,1621.73 L1430.69,1625.04 L1431.94,1628.33 L1433.18,1631.59 L1434.43,1634.83 L1435.67,1638.03 L1436.92,1641.20 L1438.16,1644.34 L1439.41,1647.45 L1440.65,1650.52 L1441.90,1653.55 L1443.15,1656.55 L1444.39,1659.50 L1445.64,1662.42 L1446.88,1665.29 L1448.13,1668.12 L1449.37,1670.91 L1450.62,1673.65 L1451.86,1676.34 L1453.11,1678.99 L1454.36,1681.58 L1455.60,1684.13 L1456.85,1686.62 L1458.09,1689.07 L1459.34,1691.46 L1460.58,1693.79 L1461.83,1696.07 L1463.07,1698.30 L1464.32,1700.47 L1465.56,1702.59 L1466.81,1704.65 L1468.06,1706.66 L1469.30,1708.61 L1470.55,1710.51 L1471.79,1712.35 L1473.04,1714.14 L1474.28,1715.87 L1475.53,1717.55 L1476.77,1719.18 L1478.02,1720.75 L1479.26,1722.28 L1480.51,1723.75 L1481.76,1725.18 L1483.00,1726.56 L1484.25,1727.89 L1485.49,1729.17 L1486.74,1730.42 L1487.98,1731.62 L1489.23,1732.77 L1490.47,1733.89 L1491.72,1734.97 L1492.97,1736.01 L1494.21,1737.02 L1495.46,1737.99 L1496.70,1738.92 L1497.95,1739.83 L1499.19,1740.70 L1500.44,1741.55 L1501.68,1742.36 L1502.93,1743.15 L1504.17,1743.92 L1505.42,1744.65 L1506.67,1745.37 L1507.91,1746.06 L1509.16,1746.74 L1510.40,1747.39 L1511.65,1748.02 L1512.89,1748.64 L1514.14,1749.23 L1515.38,1749.82 L1516.63,1750.38 L1517.87,1750.93 L1519.12,1751.47 L1520.37,1751.99 L1521.61,1752.51 L1522.86,1753.01 L1524.10,1753.50 L1525.35,1753.97 L1526.59,1754.44 L1527.84,1754.90 L1529.08,1755.35 L1530.33,1755.80 L1531.58,1756.23 L1532.82,1756.66 L1534.07,1757.08 L1535.31,1757.49 L1536.56,1757.90 L1537.80,1758.30 L1539.05,1758.70 L1540.29,1759.09 L1541.54,1759.48 L1542.78,1759.86 L1544.03,1760.24 L1545.28,1760.61 L1546.52,1760.98 L1547.77,1761.35 L1549.01,1761.71 L1550.26,1762.07 L1551.50,1762.43 L1552.75,1762.78 L1553.99,1763.13 L1555.24,1763.48 L1556.48,1763.83 L1557.73,1764.17 L1558.98,1764.52 L1560.22,1764.86 L1561.47,1765.20 L1562.71,1765.53 L1563.96,1765.87 L1565.20,1766.20 L1566.45,1766.54 L1567.69,1766.87 L1568.94,1767.20 L1570.19,1767.53 L1571.43,1767.86 L1572.68,1768.19 L1573.92,1768.51 L1575.17,1768.84 L1576.41,1769.16 L1577.66,1769.49 L1578.90,1769.81 L1580.15,1770.13 L1581.39,1770.45 L1582.64,1770.77 L1583.89,1771.10 L1585.13,1771.42 L1586.38,1771.73 L1587.62,1772.05 L1588.87,1772.37 L1590.11,1772.69 L1591.36,1773.01 L1592.60,1773.33 L1593.85,1773.64 L1595.09,1773.96 L1596.34,1774.28 L1597.59,1774.59 L1598.83,1774.91 L1600.08,1775.22 L1601.32,1775.54 L1602.57,1775.86 L1603.81,1776.17 L1605.06,1776.49 L1606.30,1776.80 L1607.55,1777.12 L1608.80,1777.43 L1610.04,1777.74 L1611.29,1778.06 L1612.53,1778.37 L1613.78,1778.69 L1615.02,1779.00 L1616.27,1779.31 L1617.51,1779.63 L1618.76,1779.94 L1620.00,1780.25 L1621.25,1780.57 L1622.50,1780.88 L1623.74,1781.19 L1624.99,1781.51 L1626.23,1781.82 L1627.48,1782.13 L1628.72,1782.44 L1629.97,1782.76 L1631.21,1783.07 L1632.46,1783.38 L1633.71,1783.70 L1634.95,1784.01 L1636.20,1784.32 L1637.44,1784.63 L1638.69,1784.95 L1639.93,1785.26 L1641.18,1785.57 L1642.42,1785.88 L1643.67,1786.20 L1644.91,1786.51 L1646.16,1786.82 L1647.41,1787.13 L1648.65,1787.44 L1649.90,1787.76 L1651.14,1788.07 L1652.39,1788.38 L1653.63,1788.69 L1654.88,1789.01 L1656.12,1789.32 L1657.37,1789.63 L1658.61,1789.94 L1659.86,1790.25 L1661.11,1790.57 L1662.35,1790.88 L1663.60,1791.19 L1664.84,1791.50 L1666.09,1791.82 L1667.33,1792.13 L1668.58,1792.44 L1669.82,1792.75 L1671.07,1793.06 L1672.32,1793.38 L1673.56,1793.69 L1674.81,1794.00 L1676.05,1794.31 L1677.30,1794.62 L1678.54,1794.94 L1679.79,1795.25 L1681.03,1795.56 L1682.28,1795.87 L1683.52,1796.18 L1684.77,1796.50 L1686.02,1796.81 L1687.26,1797.12 L1688.51,1797.43 L1689.75,1797.74 L1691.00,1798.06 L1692.24,1798.37 L1693.49,1798.68 L1694.73,1798.99 L1695.98,1799.30 L1697.22,1799.62 L1698.47,1799.93 L1699.72,1800.24 L1700.96,1800.55 L1702.21,1800.86 L1703.45,1801.18 L1704.70,1801.49 L1705.94,1801.80 L1707.19,1802.11 L1708.43,1802.42 L1709.68,1802.74 L1710.93,1803.05 L1712.17,1803.36 L1713.42,1803.67 L1714.66,1803.98 L1715.91,1804.30 L1717.15,1804.61 L1718.40,1804.92 L1719.64,1805.23 L1720.89,1805.54 L1722.13,1805.86 L1723.38,1806.17 L1724.63,1806.48 L1725.87,1806.79 L1727.12,1807.10 L1728.36,1807.42 L1729.61,1807.73 L1730.85,1808.04 L1732.10,1808.35 L1733.34,1808.66 L1734.59,1808.98 L1735.83,1809.29 L1737.08,1809.60 L1738.33,1809.91 L1739.57,1810.22 L1740.82,1810.54 L1742.06,1810.85 L1743.31,1811.16 L1744.55,1811.47 L1745.80,1811.78 L1747.04,1812.10 L1748.29,1812.41 L1749.54,1812.72 L1750.78,1813.03 L1752.03,1813.34 L1753.27,1813.66 L1754.52,1813.97 L1755.76,1814.28 L1757.01,1814.59 L1758.25,1814.90 L1759.50,1815.22 L1760.74,1815.53 L1761.99,1815.84 L1763.24,1816.15 L1764.48,1816.46 L1765.73,1816.78 L1766.97,1817.09 L1768.22,1817.40 L1769.46,1817.71 L1770.71,1818.02 L1771.95,1818.34 L1773.20,1818.65 L1774.44,1818.96 L1775.69,1819.27 L1776.94,1819.58 L1778.18,1819.90 L1779.43,1820.21 L1780.67,1820.52 L1781.92,1820.83 L1783.16,1821.14 L1784.41,1821.46 L1785.65,1821.77 L1786.90,1822.08 L1788.15,1822.39 L1789.39,1822.70 L1790.64,1823.02 L1791.88,1823.33 L1793.13,1823.64 L1794.37,1823.95 L1795.62,1824.26 L1796.86,1824.58 L1798.11,1824.89 L1799.35,1825.20 L1800.60,1825.51" fill="none" stroke="#4d6ba6" stroke-width="6.0" stroke-linejoin="round"/>
<path d="M1428.20,1619.21 L1429.45,1620.70 L1430.69,1622.18 L1431.94,1623.66 L1433.18,1625.13 L1434.43,1626.60 L1435.67,1628.07 L1436.92,1629.53 L1438.16,1630.98 L1439.41,1632.43 L1440.65,1633.87 L1441.90,1635.31 L1443.15,1636.74 L1444.39,1638.17 L1445.64,1639.59 L1446.88,1641.00 L1448.13,1642.41 L1449.37,1643.81 L1450.62,1645.20 L1451.86,1646.59 L1453.11,1647.97 L1454.36,1649.35 L1455.60,1650.72 L1456.85,1652.08 L1458.09,1653.44 L1459.34,1654.78 L1460.58,1656.13 L1461.83,1657.46 L1463.07,1658.79 L1464.32,1660.11 L1465.56,1661.42 L1466.81,1662.73 L1468.06,1664.02 L1469.30,1665.31 L1470.55,1666.60 L1471.79,1667.87 L1473.04,1669.14 L1474.28,1670.40 L1475.53,1671.65 L1476.77,1672.89 L1478.02,1674.12 L1479.26,1675.35 L1480.51,1676.57 L1481.76,1677.78 L1483.00,1678.98 L1484.25,1680.17 L1485.49,1681.36 L1486.74,1682.53 L1487.98,1683.70 L1489.23,1684.86 L1490.47,1686.01 L1491.72,1687.15 L1492.97,1688.28 L1494.21,1689.40 L1495.46,1690.52 L1496.70,1691.62 L1497.95,1692.72 L1499.19,1693.81 L1500.44,1694.88 L1501.68,1695.95 L1502.93,1697.01 L1504.17,1698.06 L1505.42,1699.10 L1506.67,1700.14 L1507.91,1701.16 L1509.16,1702.17 L1510.40,1703.18 L1511.65,1704.17 L1512.89,1705.16 L1514.14,1706.14 L1515.38,1707.11 L1516.63,1708.06 L1517.87,1709.01 L1519.12,1709.95 L1520.37,1710.89 L1521.61,1711.81 L1522.86,1712.72 L1524.10,1713.62 L1525.35,1714.52 L1526.59,1715.41 L1527.84,1716.28 L1529.08,1717.15 L1530.33,1718.01 L1531.58,1718.86 L1532.82,1719.70 L1534.07,1720.54 L1535.31,1721.36 L1536.56,1722.18 L1537.80,1722.98 L1539.05,1723.78 L1540.29,1724.57 L1541.54,1725.36 L1542.78,1726.13 L1544.03,1726.90 L1545.28,1727.65 L1546.52,1728.40 L1547.77,1729.14 L1549.01,1729.88 L1550.26,1730.60 L1551.50,1731.32 L1552.75,1732.03 L1553.99,1732.73 L1555.24,1733.43 L1556.48,1734.12 L1557.73,1734.80 L1558.98,1735.47 L1560.22,1736.14 L1561.47,1736.80 L1562.71,1737.45 L1563.96,1738.09 L1565.20,1738.73 L1566.45,1739.36 L1567.69,1739.99 L1568.94,1740.60 L1570.19,1741.22 L1571.43,1741.82 L1572.68,1742.42 L1573.92,1743.01 L1575.17,1743.60 L1576.41,1744.18 L1577.66,1744.76 L1578.90,1745.32 L1580.15,1745.89 L1581.39,1746.45 L1582.64,1747.00 L1583.89,1747.54 L1585.13,1748.09 L1586.38,1748.62 L1587.62,1749.15 L1588.87,1749.68 L1590.11,1750.20 L1591.36,1750.72 L1592.60,1751.23 L1593.85,1751.73 L1595.09,1752.23 L1596.34,1752.73 L1597.59,1753.22 L1598.83,1753.71 L1600.08,1754.20 L1601.32,1754.68 L1602.57,1755.15 L1603.81,1755.62 L1605.06,1756.09 L1606.30,1756.55 L1607.55,1757.01 L1608.80,1757.47 L1610.04,1757.92 L1611.29,1758.37 L1612.53,1758.82 L1613.78,1759.26 L1615.02,1759.70 L1616.27,1760.13 L1617.51,1760.56 L1618.76,1760.99 L1620.00,1761.42 L1621.25,1761.84 L1622.50,1762.26 L1623.74,1762.67 L1624.99,1763.09 L1626.23,1763.50 L1627.48,1763.91 L1628.72,1764.31 L1629.97,1764.71 L1631.21,1765.11 L1632.46,1765.51 L1633.71,1765.91 L1634.95,1766.30 L1636.20,1766.69 L1637.44,1767.08 L1638.69,1767.46 L1639.93,1767.85 L1641.18,1768.23 L1642.42,1768.61 L1643.67,1768.98 L1644.91,1769.36 L1646.16,1769.73 L1647.41,1770.10 L1648.65,1770.47 L1649.90,1770.84 L1651.14,1771.21 L1652.39,1771.57 L1653.63,1771.93 L1654.88,1772.29 L1656.12,1772.65 L1657.37,1773.01 L1658.61,1773.37 L1659.86,1773.72 L1661.11,1774.07 L1662.35,1774.43 L1663.60,1774.78 L1664.84,1775.13 L1666.09,1775.47 L1667.33,1775.82 L1668.58,1776.16 L1669.82,1776.51 L1671.07,1776.85 L1672.32,1777.19 L1673.56,1777.53 L1674.81,1777.87 L1676.05,1778.21 L1677.30,1778.54 L1678.54,1778.88 L1679.79,1779.21 L1681.03,1779.55 L1682.28,1779.88 L1683.52,1780.21 L1684.77,1780.54 L1686.02,1780.87 L1687.26,1781.20 L1688.51,1781.53 L1689.75,1781.86 L1691.00,1782.18 L1692.24,1782.51 L1693.49,1782.83 L1694.73,1783.16 L1695.98,1783.48 L1697.22,1783.80 L1698.47,1784.12 L1699.72,1784.45 L1700.96,1784.77 L1702.21,1785.09 L1703.45,1785.41 L1704.70,1785.72 L1705.94,1786.04 L1707.19,1786.36 L1708.43,1786.68 L1709.68,1786.99 L1710.93,1787.31 L1712.17,1787.62 L1713.42,1787.94 L1714.66,1788.25 L1715.91,1788.57 L1717.15,1788.88 L1718.40,1789.19 L1719.64,1789.50 L1720.89,1789.81 L1722.13,1790.13 L1723.38,1790.44 L1724.63,1790.75 L1725.87,1791.06 L1727.12,1791.37 L1728.36,1791.68 L1729.61,1791.99 L1730.85,1792.29 L1732.10,1792.60 L1733.34,1792.91 L1734.59,1793.22 L1735.83,1793.52 L1737.08,1793.83 L1738.33,1794.14 L1739.57,1794.44 L1740.82,1794.75 L1742.06,1795.06 L1743.31,1795.36 L1744.55,1795.67 L1745.80,1795.97 L1747.04,1796.27 L1748.29,1796.58 L1749.54,1796.88 L1750.78,1797.19 L1752.03,1797.49 L1753.27,1797.79 L1754.52,1798.10 L1755.76,1798.40 L1757.01,1798.70 L1758.25,1799.00 L1759.50,1799.31 L1760.74,1799.61 L1761.99,1799.91 L1763.24,1800.21 L1764.48,1800.51 L1765.73,1800.81 L1766.97,1801.12 L1768.22,1801.42 L1769.46,1801.72 L1770.71,1802.02 L1771.95,1802.32 L1773.20,1802.62 L1774.44,1802.92 L1775.69,1803.22 L1776.94,1803.52 L1778.18,1803.82 L1779.43,1804.12 L1780.67,1804.42 L1781.92,1804.72 L1783.16,1805.02 L1784.41,1805.32 L1785.65,1805.61 L1786.90,1805.91 L1788.15,1806.21 L1789.39,1806.51 L1790.64,1806.81 L1791.88,1807.11 L1793.13,1807.41 L1794.37,1807.70 L1795.62,1808.00 L1796.86,1808.30 L1798.11,1808.60 L1799.35,1808.90 L1800.60,1809.19" fill="none" stroke="#d40c00" stroke-width="6.0" stroke-linejoin="round"/>
<line x1="1428.10" y1="1917.40" x2="1428.10" y2="1911.80" stroke="#262626" stroke-width="1.0"/>
<line x1="1428.10" y1="1618.80" x2="1428.10" y2="1624.40" stroke="#262626" stroke-width="1.0"/>
<line x1="1512.77" y1="1917.40" x2="1512.77" y2="1911.80" stroke="#262626" stroke-width="1.0"/>
<line x1="1512.77" y1="1618.80" x2="1512.77" y2="1624.40" stroke="#262626" stroke-width="1.0"/>
<line x1="1597.43" y1="1917.40" x2="1597.43" y2="1911.80" stroke="#262626" stroke-width="1.0"/>
<line x1="1597.43" y1="1618.80" x2="1597.43" y2="1624.40" stroke="#262626" stroke-width="1.0"/>
<line x1="1682.10" y1="1917.40" x2="1682.10" y2="1911.80" stroke="#262626" stroke-width="1.0"/>
<line x1="1682.10" y1="1618.80" x2="1682.10" y2="1624.40" stroke="#262626" stroke-width="1.0"/>
<line x1="1766.77" y1="1917.40" x2="1766.77" y2="1911.80" stroke="#262626" stroke-width="1.0"/>
<line x1="1766.77" y1="1618.80" x2="1766.77" y2="1624.40" stroke="#262626" stroke-width="1.0"/>
<line x1="1851.43" y1="1917.40" x2="1851.43" y2="1911.80" stroke="#262626" stroke-width="1.0"/>
<line x1="1851.43" y1="1618.80" x2="1851.43" y2="1624.40" stroke="#262626" stroke-width="1.0"/>
<line x1="1936.10" y1="1917.40" x2="1936.10" y2="1911.80" stroke="#262626" stroke-width="1.0"/>
<line x1="1936.10" y1="1618.80" x2="1936.10" y2="1624.40" stroke="#262626" stroke-width="1.0"/>
<line x1="1428.10" y1="1618.80" x2="1433.70" y2="1618.80" stroke="#262626" stroke-width="1.0"/>
<line x1="1936.10" y1="1618.80" x2="1930.50" y2="1618.80" stroke="#262626" stroke-width="1.0"/>
<line x1="1428.10" y1="1743.50" x2="1433.70" y2="1743.50" stroke="#262626" stroke-width="1.0"/>
<line x1="1936.10" y1="1743.50" x2="1930.50" y2="1743.50" stroke="#262626" stroke-width="1.0"/>
<line x1="1428.10" y1="1868.20" x2="1433.70" y2="1868.20" stroke="#262626" stroke-width="1.0"/>
<line x1="1936.10" y1="1868.20" x2="1930.50" y2="1868.20" stroke="#262626" stroke-width="1.0"/>
<line x1="1428.10" y1="1905.74" x2="1431.30" y2="1905.74" stroke="#262626" stroke-width="1.0"/>
<line x1="1936.10" y1="1905.74" x2="1932.90" y2="1905.74" stroke="#262626" stroke-width="1.0"/>
<line x1="1428.10" y1="1895.86" x2="1431.30" y2="1895.86" stroke="#262626" stroke-width="1.0"/>
<line x1="1936.10" y1="1895.86" x2="1932.90" y2="1895.86" stroke="#262626" stroke-width="1.0"/>
<line x1="1428.10" y1="1887.52" x2="1431.30" y2="1887.52" stroke="#262626" stroke-width="1.0"/>
<line x1="1936.10" y1="1887.52" x2="1932.90" y2="1887.52" stroke="#262626" stroke-width="1.0"/>
<line x1="1428.10" y1="1880.28" x2="1431.30" y2="1880.28" stroke="#262626" stroke-width="1.0"/>
<line x1="1936.10" y1="1880.28" x2="1932.90" y2="1880.28" stroke="#262626" stroke-width="1.0"/>
<line x1="1428.10" y1="1873.91" x2="1431.30" y2="1873.91" stroke="#262626" stroke-width="1.0"/>
<line x1="1936.10" y1="1873.91" x2="1932.90" y2="1873.91" stroke="#262626" stroke-width="1.0"/>
<line x1="1428.10" y1="1830.66" x2="1431.30" y2="1830.66" stroke="#262626" stroke-width="1.0"/>
<line x1="1936.10" y1="1830.66" x2="1932.90" y2="1830.66" stroke="#262626" stroke-width="1.0"/>
<line x1="1428.10" y1="1808.70" x2="1431.30" y2="1808.70" stroke="#262626" stroke-width="1.0"/>
<line x1="1936.10" y1="1808.70" x2="1932.90" y2="1808.70" stroke="#262626" stroke-width="1.0"/>
<line x1="1428.10" y1="1793.12" x2="1431.30" y2="1793.12" stroke="#262626" stroke-width="1.0"/>
<line x1="1936.10" y1="1793.12" x2="1932.90" y2="1793.12" stroke="#262626" stroke-width="1.0"/>
<line x1="1428.10" y1="1781.04" x2="1431.30" y2="1781.04" stroke="#262626" stroke-width="1.0"/>
<line x1="1936.10" y1="1781.04" x2="1932.90" y2="1781.04" stroke="#262626" stroke-width="1.0"/>
<line x1="1428.10" y1="1771.16" x2="1431.30" y2="1771.16" stroke="#262626" stroke-width="1.0"/>
<line x1="1936.10" y1="1771.16" x2="1932.90" y2="1771.16" stroke="#262626" stroke-width="1.0"/>
<line x1="1428.10" y1="1762.82" x2="1431.30" y2="1762.82" stroke="#262626" stroke-width="1.0"/>
<line x1="1936.10" y1="1762.82" x2="1932.90" y2="1762.82" stroke="#262626" stroke-width="1.0"/>
<line x1="1428.10" y1="1755.58" x2="1431.30" y2="1755.58" stroke="#262626" stroke-width="1.0"/>
<line x1="1936.10" y1="1755.58" x2="1932.90" y2="1755.58" stroke="#262626" stroke-width="1.0"/>
<line x1="1428.10" y1="1749.21" x2="1431.30" y2="1749.21" stroke="#262626" stroke-width="1.0"/>
<line x1="1936.10" y1="1749.21" x2="1932.90" y2="1749.21" stroke="#262626" stroke-width="1.0"/>
<line x1="1428.10" y1="1705.96" x2="1431.30" y2="1705.96" stroke="#262626" stroke-width="1.0"/>
<line x1="1936.10" y1="1705.96" x2="1932.90" y2="1705.96" stroke="#262626" stroke-width="1.0"/>
<line x1="1428.10" y1="1684.00" x2="1431.30" y2="1684.00" stroke="#262626" stroke-width="1.0"/>
<line x1="1936.10" y1="1684.00" x2="1932.90" y2="1684.00" stroke="#262626" stroke-width="1.0"/>
<line x1="1428.10" y1="1668.42" x2="1431.30" y2="1668.42" stroke="#262626" stroke-width="1.0"/>
<line x1="1936.10" y1="1668.42" x2="1932.90" y2="1668.42" stroke="#262626" stroke-width="1.0"/>
<line x1="1428.10" y1="1656.34" x2="1431.30" y2="1656.34" stroke="#262626" stroke-width="1.0"/>
<line x1="1936.10" y1="1656.34" x2="1932.90" y2="1656.34" stroke="#262626" stroke-width="1.0"/>
<line x1="1428.10" y1="1646.46" x2="1431.30" y2="1646.46" stroke="#262626" stroke-width="1.0"/>
<line x1="1936.10" y1="1646.46" x2="1932.90" y2="1646.46" stroke="#262626" stroke-width="1.0"/>
<line x1="1428.10" y1="1638.12" x2="1431.30" y2="1638.12" stroke="#262626" stroke-width="1.0"/>
<line x1="1936.10" y1="1638.12" x2="1932.90" y2="1638.12" stroke="#262626" stroke-width="1.0"/>
<line x1="1428.10" y1="1630.88" x2="1431.30" y2="1630.88" stroke="#262626" stroke-width="1.0"/>
<line x1="1936.10" y1="1630.88" x2="1932.90" y2="1630.88" stroke="#262626" stroke-width="1.0"/>
<line x1="1428.10" y1="1624.51" x2="1431.30" y2="1624.51" stroke="#262626" stroke-width="1.0"/>
<line x1="1936.10" y1="1624.51" x2="1932.90" y2="1624.51" stroke="#262626" stroke-width="1.0"/>
<rect x="1428.10" y="1618.80" width="508.00" height="298.60" fill="none" stroke="#262626" stroke-width="1.05"/>
<text transform="translate(1420.65,1955.60)" fill="#262626" stroke="#262626" stroke-width="0.35"><tspan x="0.00" y="0.00" style="font-family:'Liberation Sans';font-size:26.80px">0</tspan></text>
<text transform="translate(1490.41,1955.60)" fill="#262626" stroke="#262626" stroke-width="0.35"><tspan x="0.00" y="0.00" style="font-family:'Liberation Sans';font-size:26.80px">200</tspan></text>
<text transform="translate(1575.08,1955.60)" fill="#262626" stroke="#262626" stroke-width="0.35"><tspan x="0.00" y="0.00" style="font-family:'Liberation Sans';font-size:26.80px">400</tspan></text>
<text transform="translate(1659.74,1955.60)" fill="#262626" stroke="#262626" stroke-width="0.35"><tspan x="0.00" y="0.00" style="font-family:'Liberation Sans';font-size:26.80px">600</tspan></text>
<text transform="translate(1744.41,1955.60)" fill="#262626" stroke="#262626" stroke-width="0.35"><tspan x="0.00" y="0.00" style="font-family:'Liberation Sans';font-size:26.80px">800</tspan></text>
<text transform="translate(1821.62,1955.60)" fill="#262626" stroke="#262626" stroke-width="0.35"><tspan x="0.00" y="0.00" style="font-family:'Liberation Sans';font-size:26.80px">1000</tspan></text>
<text transform="translate(1906.29,1955.60)" fill="#262626" stroke="#262626" stroke-width="0.35"><tspan x="0.00" y="0.00" style="font-family:'Liberation Sans';font-size:26.80px">1200</tspan></text>
<text transform="translate(1363.55,1632.80)" fill="#262626" stroke="#262626" stroke-width="0.35"><tspan x="0.00" y="0.00" style="font-family:'Liberation Sans';font-size:26.80px">10</tspan><tspan x="29.81" y="-12.70" style="font-family:'Liberation Sans';font-size:22.60px">10</tspan></text>
<text transform="translate(1376.12,1757.50)" fill="#262626" stroke="#262626" stroke-width="0.35"><tspan x="0.00" y="0.00" style="font-family:'Liberation Sans';font-size:26.80px">10</tspan><tspan x="29.81" y="-12.70" style="font-family:'Liberation Sans';font-size:22.60px">9</tspan></text>
<text transform="translate(1626.71,1995.91) scale(1.0709,1)" fill="#262626" stroke="#fff" stroke-width="0.5"><tspan x="0.00" y="0.00" style="font-family:'Liberation Serif';font-size:39.10px">Time </tspan><tspan x="90.92" y="0.00" style="font-family:'Liberation Serif';font-size:39.10px;font-style:italic">t</tspan></text>
<rect x="259.20" y="1635.20" width="384.60" height="96.00" fill="#fff" stroke="#262626" stroke-width="1.05"/>
<line x1="264.80" y1="1660.20" x2="324.40" y2="1660.20" stroke="#4d6ba6" stroke-width="6.0"/>
<text transform="translate(328.62,1670.30) scale(1.0934,1)" fill="#000" stroke="#fff" stroke-width="0.5"><tspan x="0.00" y="0.00" style="font-family:'Liberation Serif';font-size:38.50px">Optimal treatment</tspan></text>
<line x1="264.80" y1="1705.80" x2="324.40" y2="1705.80" stroke="#d40c00" stroke-width="6.0"/>
<text transform="translate(328.65,1715.80) scale(1.0744,1)" fill="#000" stroke="#fff" stroke-width="0.5"><tspan x="0.00" y="0.00" style="font-family:'Liberation Serif';font-size:38.50px">Constant dose</tspan></text>
<rect x="909.10" y="1618.30" width="384.10" height="94.90" fill="#fff" stroke="#262626" stroke-width="1.05"/>
<line x1="914.70" y1="1643.30" x2="974.30" y2="1643.30" stroke="#4d6ba6" stroke-width="6.0"/>
<text transform="translate(978.52,1653.40) scale(1.0934,1)" fill="#000" stroke="#fff" stroke-width="0.5"><tspan x="0.00" y="0.00" style="font-family:'Liberation Serif';font-size:38.50px">Optimal treatment</tspan></text>
<line x1="914.70" y1="1688.90" x2="974.30" y2="1688.90" stroke="#d40c00" stroke-width="6.0"/>
<text transform="translate(978.55,1698.90) scale(1.0744,1)" fill="#000" stroke="#fff" stroke-width="0.5"><tspan x="0.00" y="0.00" style="font-family:'Liberation Serif';font-size:38.50px">Constant dose</tspan></text>
<text transform="translate(847.17,1771.67) scale(0.6063,1)" fill="#000" stroke="#fff" stroke-width="0.5"><tspan x="0.00" y="0.00" style="font-family:'Liberation Serif';font-size:99.52px">}</tspan></text>
<text transform="translate(1159.63,1888.79) scale(0.9579,1)" fill="#000" stroke="#fff" stroke-width="0.5"><tspan x="0.00" y="0.00" style="font-family:'Liberation Serif';font-size:62.29px">}</tspan></text>
<text transform="translate(1469.72,1709.16) scale(1.5708,1)" fill="#000" stroke="#fff" stroke-width="0.5"><tspan x="0.00" y="0.00" style="font-family:'Liberation Serif';font-size:37.35px">}</tspan></text>
<text transform="translate(1800.93,1824.20) scale(2.2372,1)" fill="#000" stroke="#fff" stroke-width="0.5"><tspan x="0.00" y="0.00" style="font-family:'Liberation Serif';font-size:25.18px">}</tspan></text>
<text transform="translate(866.41,1795.78) scale(1.0975,1)" fill="#262626" stroke="#262626" stroke-width="0.35"><tspan x="0.00" y="0.00" style="font-family:'DejaVu Sans';font-size:27.95px">85.6%</tspan></text>
<text transform="translate(1188.61,1883.30) scale(1.1371,1)" fill="#262626" stroke="#262626" stroke-width="0.35"><tspan x="0.00" y="0.00" style="font-family:'DejaVu Sans';font-size:26.89px">59.4%</tspan></text>
<text transform="translate(1490.94,1677.49) scale(1.1115,1)" fill="#262626" stroke="#262626" stroke-width="0.35"><tspan x="0.00" y="0.00" style="font-family:'DejaVu Sans';font-size:27.15px">55.4%</tspan></text>
<text transform="translate(1824.62,1827.20) scale(1.1538,1)" fill="#262626" stroke="#262626" stroke-width="0.35"><tspan x="0.00" y="0.00" style="font-family:'DejaVu Sans';font-size:26.36px">24.2%</tspan></text>
<path d="M146.40,2161.30 L661.80,2161.30" fill="none" stroke="#0072bd" stroke-width="6.0" stroke-linejoin="round"/>
<path d="M146.40,2161.30 L661.80,2161.30" fill="none" stroke="#d95319" stroke-width="6.0" stroke-linejoin="round"/>
<path d="M146.40,2161.30 L661.80,2161.30" fill="none" stroke="#edb120" stroke-width="6.0" stroke-linejoin="round"/>
<path d="M146.40,2161.30 L661.80,2161.30" fill="none" stroke="#7e2f8e" stroke-width="6.0" stroke-linejoin="round"/>
<path d="M146.40,2161.30 L661.80,2161.30" fill="none" stroke="#77ac30" stroke-width="6.0" stroke-linejoin="round"/>
<path d="M146.40,2161.30 L661.80,2161.30" fill="none" stroke="#4dbeee" stroke-width="6.0" stroke-linejoin="round"/>
<line x1="146.40" y1="2161.30" x2="661.80" y2="2161.30" stroke="#000" stroke-opacity="0.7" stroke-width="5.6" stroke-dasharray="18.8 18.8"/>
<line x1="146.40" y1="2426.80" x2="146.40" y2="2421.20" stroke="#262626" stroke-width="1.0"/>
<line x1="318.20" y1="2426.80" x2="318.20" y2="2421.20" stroke="#262626" stroke-width="1.0"/>
<line x1="490.00" y1="2426.80" x2="490.00" y2="2421.20" stroke="#262626" stroke-width="1.0"/>
<line x1="661.80" y1="2426.80" x2="661.80" y2="2421.20" stroke="#262626" stroke-width="1.0"/>
<line x1="146.40" y1="2426.80" x2="152.00" y2="2426.80" stroke="#262626" stroke-width="1.0"/>
<line x1="146.40" y1="2251.85" x2="152.00" y2="2251.85" stroke="#262626" stroke-width="1.0"/>
<line x1="146.40" y1="2076.90" x2="152.00" y2="2076.90" stroke="#262626" stroke-width="1.0"/>
<line x1="146.40" y1="2374.13" x2="149.60" y2="2374.13" stroke="#262626" stroke-width="1.0"/>
<line x1="146.40" y1="2343.33" x2="149.60" y2="2343.33" stroke="#262626" stroke-width="1.0"/>
<line x1="146.40" y1="2321.47" x2="149.60" y2="2321.47" stroke="#262626" stroke-width="1.0"/>
<line x1="146.40" y1="2304.52" x2="149.60" y2="2304.52" stroke="#262626" stroke-width="1.0"/>
<line x1="146.40" y1="2290.66" x2="149.60" y2="2290.66" stroke="#262626" stroke-width="1.0"/>
<line x1="146.40" y1="2278.95" x2="149.60" y2="2278.95" stroke="#262626" stroke-width="1.0"/>
<line x1="146.40" y1="2268.80" x2="149.60" y2="2268.80" stroke="#262626" stroke-width="1.0"/>
<line x1="146.40" y1="2259.86" x2="149.60" y2="2259.86" stroke="#262626" stroke-width="1.0"/>
<line x1="146.40" y1="2199.18" x2="149.60" y2="2199.18" stroke="#262626" stroke-width="1.0"/>
<line x1="146.40" y1="2168.38" x2="149.60" y2="2168.38" stroke="#262626" stroke-width="1.0"/>
<line x1="146.40" y1="2146.52" x2="149.60" y2="2146.52" stroke="#262626" stroke-width="1.0"/>
<line x1="146.40" y1="2129.57" x2="149.60" y2="2129.57" stroke="#262626" stroke-width="1.0"/>
<line x1="146.40" y1="2115.71" x2="149.60" y2="2115.71" stroke="#262626" stroke-width="1.0"/>
<line x1="146.40" y1="2104.00" x2="149.60" y2="2104.00" stroke="#262626" stroke-width="1.0"/>
<line x1="146.40" y1="2093.85" x2="149.60" y2="2093.85" stroke="#262626" stroke-width="1.0"/>
<line x1="146.40" y1="2084.91" x2="149.60" y2="2084.91" stroke="#262626" stroke-width="1.0"/>
<path d="M146.40,2076.90 L146.40,2426.80 L661.80,2426.80" fill="none" stroke="#262626" stroke-width="1.05"/>
<text transform="translate(138.95,2465.00)" fill="#262626" stroke="#262626" stroke-width="0.35"><tspan x="0.00" y="0.00" style="font-family:'Liberation Sans';font-size:26.80px">0</tspan></text>
<text transform="translate(295.84,2465.00)" fill="#262626" stroke="#262626" stroke-width="0.35"><tspan x="0.00" y="0.00" style="font-family:'Liberation Sans';font-size:26.80px">200</tspan></text>
<text transform="translate(467.64,2465.00)" fill="#262626" stroke="#262626" stroke-width="0.35"><tspan x="0.00" y="0.00" style="font-family:'Liberation Sans';font-size:26.80px">400</tspan></text>
<text transform="translate(639.44,2465.00)" fill="#262626" stroke="#262626" stroke-width="0.35"><tspan x="0.00" y="0.00" style="font-family:'Liberation Sans';font-size:26.80px">600</tspan></text>
<text transform="translate(94.42,2090.90)" fill="#262626" stroke="#262626" stroke-width="0.35"><tspan x="0.00" y="0.00" style="font-family:'Liberation Sans';font-size:26.80px">10</tspan><tspan x="29.81" y="-12.70" style="font-family:'Liberation Sans';font-size:22.60px">1</tspan></text>
<text transform="translate(94.42,2265.85)" fill="#262626" stroke="#262626" stroke-width="0.35"><tspan x="0.00" y="0.00" style="font-family:'Liberation Sans';font-size:26.80px">10</tspan><tspan x="29.81" y="-12.70" style="font-family:'Liberation Sans';font-size:22.60px">0</tspan></text>
<text transform="translate(86.89,2440.80)" fill="#262626" stroke="#262626" stroke-width="0.35"><tspan x="0.00" y="0.00" style="font-family:'Liberation Sans';font-size:26.80px">10</tspan><tspan x="29.81" y="-12.70" style="font-family:'Liberation Sans';font-size:22.60px">-1</tspan></text>
<text transform="translate(348.71,2505.31) scale(1.0709,1)" fill="#262626" stroke="#fff" stroke-width="0.5"><tspan x="0.00" y="0.00" style="font-family:'Liberation Serif';font-size:39.10px">Time </tspan><tspan x="90.92" y="0.00" style="font-family:'Liberation Serif';font-size:39.10px;font-style:italic">t</tspan></text>
<text transform="translate(500.61,2143.35) scale(0.7889,1)" fill="#000" stroke="#fff" stroke-width="0.5"><tspan x="0.00" y="0.00" style="font-family:'Liberation Serif';font-size:54.59px;font-style:italic">c</tspan><tspan x="24.23" y="0.00" style="font-family:'Liberation Serif';font-size:54.59px">*</tspan></text>
<path d="M784.40,2076.90 L814.30,2076.90 L815.81,2079.55 L817.31,2082.17 L818.82,2084.77 L820.32,2087.33 L821.83,2089.86 L823.33,2092.35 L824.84,2094.79 L826.34,2097.19 L827.85,2099.53 L829.36,2101.83 L830.86,2104.06 L832.37,2106.23 L833.87,2108.34 L835.38,2110.42 L836.88,2112.48 L838.39,2114.51 L839.89,2116.52 L841.40,2118.51 L842.91,2120.47 L844.41,2122.40 L845.92,2124.31 L847.42,2126.19 L848.93,2128.03 L850.43,2129.85 L851.94,2131.63 L853.44,2133.38 L854.95,2135.10 L856.46,2136.78 L857.96,2138.42 L859.47,2140.03 L860.97,2141.59 L862.48,2143.12 L863.98,2144.61 L865.49,2146.06 L866.99,2147.47 L868.50,2148.86 L870.01,2150.22 L871.51,2151.56 L873.02,2152.87 L874.52,2154.15 L876.03,2155.41 L877.53,2156.65 L879.04,2157.86 L880.54,2159.06 L882.05,2160.24 L883.56,2161.39 L885.06,2162.53 L886.57,2163.65 L888.07,2164.76 L889.58,2165.85 L891.08,2166.93 L892.59,2167.99 L894.09,2169.04 L895.60,2170.08 L897.11,2171.11 L898.61,2172.14 L900.12,2173.15 L901.62,2174.16 L903.13,2175.17 L904.63,2176.16 L906.14,2177.14 L907.64,2178.11 L909.15,2179.06 L910.66,2180.00 L912.16,2180.93 L913.67,2181.84 L915.17,2182.74 L916.68,2183.62 L918.18,2184.48 L919.69,2185.31 L921.19,2186.13 L922.70,2186.93 L924.21,2187.71 L925.71,2188.46 L927.22,2189.19 L928.72,2189.89 L930.23,2190.58 L931.73,2191.25 L933.24,2191.91 L934.74,2192.56 L936.25,2193.20 L937.76,2193.82 L939.26,2194.43 L940.77,2195.03 L942.27,2195.62 L943.78,2196.20 L945.28,2196.76 L946.79,2197.31 L948.29,2197.86 L949.80,2198.39 L951.31,2198.91 L952.81,2199.41 L954.32,2199.91 L955.82,2200.40 L957.33,2200.87 L958.83,2201.34 L960.34,2201.79 L961.84,2202.24 L963.35,2202.68 L964.86,2203.12 L966.36,2203.55 L967.87,2203.97 L969.37,2204.38 L970.88,2204.79 L972.38,2205.19 L973.89,2205.58 L975.39,2205.97 L976.90,2206.34 L978.41,2206.71 L979.91,2207.07 L981.42,2207.42 L982.92,2207.77 L984.43,2208.10 L985.93,2208.42 L987.44,2208.74 L988.94,2209.04 L990.45,2209.34 L991.96,2209.62 L993.46,2209.91 L994.97,2210.19 L996.47,2210.46 L997.98,2210.74 L999.48,2211.01 L1000.99,2211.27 L1002.49,2211.53 L1004.00,2211.79 L1005.51,2212.03 L1007.01,2212.28 L1008.52,2212.51 L1010.02,2212.74 L1011.53,2212.96 L1013.03,2213.17 L1014.54,2213.37 L1016.04,2213.56 L1017.55,2213.74 L1019.06,2213.91 L1020.56,2214.07 L1022.07,2214.22 L1023.57,2214.36 L1025.08,2214.50 L1026.58,2214.63 L1028.09,2214.76 L1029.59,2214.89 L1031.10,2215.02 L1032.61,2215.14 L1034.11,2215.26 L1035.62,2215.39 L1037.12,2215.51 L1038.63,2215.62 L1040.13,2215.74 L1041.64,2215.85 L1043.14,2215.96 L1044.65,2216.07 L1046.16,2216.18 L1047.66,2216.28 L1049.17,2216.39 L1050.67,2216.49 L1052.18,2216.59 L1053.68,2216.68 L1055.19,2216.77 L1056.69,2216.86 L1058.20,2216.95 L1059.71,2217.04 L1061.21,2217.12 L1062.72,2217.20 L1064.22,2217.28 L1065.73,2217.36 L1067.23,2217.43 L1068.74,2217.50 L1070.24,2217.57 L1071.75,2217.63 L1073.26,2217.69 L1074.76,2217.75 L1076.27,2217.81 L1077.77,2217.86 L1079.28,2217.91 L1080.78,2217.96 L1082.29,2218.00 L1083.79,2218.04 L1085.30,2218.08 L1086.81,2218.11 L1088.31,2218.15 L1089.82,2218.18 L1091.32,2218.22 L1092.83,2218.25 L1094.33,2218.28 L1095.84,2218.31 L1097.34,2218.35 L1098.85,2218.38 L1100.36,2218.41 L1101.86,2218.44 L1103.37,2218.47 L1104.87,2218.50 L1106.38,2218.53 L1107.88,2218.56 L1109.39,2218.59 L1110.89,2218.61 L1112.40,2218.64 L1113.91,2218.66 L1115.41,2218.69 L1116.92,2218.71 L1118.42,2218.74 L1119.93,2218.76 L1121.43,2218.78 L1122.94,2218.80 L1124.44,2218.82 L1125.95,2218.84 L1127.46,2218.86 L1128.96,2218.88 L1130.47,2218.89 L1131.97,2218.91 L1133.48,2218.92 L1134.98,2218.94 L1136.49,2218.95 L1137.99,2218.96 L1139.50,2218.97 L1141.01,2218.98 L1142.51,2218.98 L1144.02,2218.99 L1145.52,2218.99 L1147.03,2219.00 L1148.53,2219.00 L1150.04,2219.00 L1151.54,2219.00 L1153.05,2219.00 L1154.56,2219.00 L1156.06,2219.00 L1157.57,2219.00 L1159.07,2219.00 L1160.58,2219.00 L1162.08,2219.00 L1163.59,2219.00 L1165.09,2219.00 L1166.60,2219.00 L1168.11,2219.00 L1169.61,2219.00 L1171.12,2219.00 L1172.62,2219.00 L1174.13,2219.00 L1175.63,2219.00 L1177.14,2219.00 L1178.64,2219.00 L1180.15,2219.00 L1181.66,2219.00 L1183.16,2219.00 L1184.67,2219.00 L1186.17,2219.00 L1187.68,2219.00 L1189.18,2219.00 L1190.69,2219.00 L1192.19,2219.00 L1193.70,2219.00 L1195.21,2219.00 L1196.71,2219.00 L1198.22,2219.00 L1199.72,2219.00 L1201.23,2219.00 L1202.73,2219.00 L1204.24,2219.00 L1205.74,2219.00 L1207.25,2219.00 L1208.76,2219.00 L1210.26,2219.00 L1211.77,2219.00 L1213.27,2219.00 L1214.78,2219.00 L1216.28,2219.00 L1217.79,2219.00 L1219.29,2219.00 L1220.80,2219.00 L1222.31,2219.00 L1223.81,2219.00 L1225.32,2219.00 L1226.82,2219.00 L1228.33,2219.00 L1229.83,2219.00 L1231.34,2219.00 L1232.84,2219.00 L1234.35,2219.00 L1235.86,2219.00 L1237.36,2219.00 L1238.87,2219.00 L1240.37,2219.00 L1241.88,2219.00 L1243.38,2219.00 L1244.89,2219.00 L1246.39,2219.00 L1247.90,2219.00 L1249.41,2219.00 L1250.91,2219.00 L1252.42,2219.00 L1253.92,2219.00 L1255.43,2219.00 L1256.93,2219.00 L1258.44,2219.00 L1259.94,2219.00 L1261.45,2219.00 L1262.96,2219.00 L1264.46,2219.00 L1265.97,2219.00 L1267.47,2219.00 L1268.98,2219.00 L1270.48,2219.00 L1271.99,2219.00 L1273.49,2219.00 L1275.00,2219.00 L1276.51,2219.00 L1278.01,2219.00 L1279.52,2219.00 L1281.02,2219.00 L1282.53,2219.00 L1284.03,2219.00 L1285.54,2219.00 L1287.04,2219.00 L1288.55,2219.00 L1290.06,2219.00 L1291.56,2219.00 L1293.07,2219.00 L1294.57,2219.00 L1296.08,2219.00 L1297.58,2219.00 L1299.09,2219.00 L1300.59,2219.00 L1302.10,2219.00" fill="none" stroke="#0072bd" stroke-width="6.0" stroke-linejoin="round"/>
<path d="M784.40,2151.70 L785.90,2152.89 L787.41,2154.08 L788.91,2155.25 L790.42,2156.40 L791.92,2157.54 L793.43,2158.66 L794.93,2159.76 L796.44,2160.83 L797.94,2161.88 L799.45,2162.90 L800.95,2163.89 L802.46,2164.85 L803.96,2165.79 L805.47,2166.71 L806.97,2167.62 L808.48,2168.52 L809.98,2169.40 L811.49,2170.27 L812.99,2171.12 L814.50,2171.96 L816.00,2172.79 L817.51,2173.62 L819.01,2174.43 L820.52,2175.23 L822.02,2176.02 L823.53,2176.80 L825.03,2177.58 L826.54,2178.35 L828.04,2179.12 L829.55,2179.88 L831.05,2180.63 L832.56,2181.38 L834.06,2182.13 L835.57,2182.87 L837.07,2183.62 L838.58,2184.36 L840.08,2185.09 L841.59,2185.82 L843.09,2186.55 L844.60,2187.27 L846.10,2187.98 L847.61,2188.69 L849.11,2189.39 L850.62,2190.08 L852.12,2190.75 L853.63,2191.42 L855.13,2192.08 L856.64,2192.73 L858.14,2193.36 L859.65,2193.98 L861.15,2194.59 L862.66,2195.18 L864.16,2195.76 L865.67,2196.32 L867.17,2196.88 L868.68,2197.43 L870.18,2197.98 L871.69,2198.51 L873.19,2199.04 L874.70,2199.57 L876.20,2200.08 L877.71,2200.59 L879.21,2201.09 L880.72,2201.58 L882.22,2202.06 L883.73,2202.53 L885.23,2203.00 L886.74,2203.45 L888.24,2203.89 L889.75,2204.32 L891.25,2204.74 L892.76,2205.14 L894.26,2205.54 L895.77,2205.92 L897.27,2206.29 L898.78,2206.65 L900.28,2207.01 L901.79,2207.37 L903.29,2207.72 L904.80,2208.06 L906.30,2208.40 L907.81,2208.73 L909.31,2209.06 L910.82,2209.38 L912.32,2209.69 L913.82,2209.99 L915.33,2210.28 L916.83,2210.57 L918.34,2210.85 L919.84,2211.12 L921.35,2211.37 L922.85,2211.62 L924.36,2211.86 L925.86,2212.08 L927.37,2212.30 L928.87,2212.50 L930.38,2212.71 L931.88,2212.91 L933.39,2213.11 L934.89,2213.30 L936.40,2213.50 L937.90,2213.69 L939.41,2213.88 L940.91,2214.07 L942.42,2214.25 L943.92,2214.43 L945.43,2214.61 L946.93,2214.78 L948.44,2214.95 L949.94,2215.11 L951.45,2215.27 L952.95,2215.43 L954.46,2215.58 L955.96,2215.73 L957.47,2215.87 L958.97,2216.01 L960.48,2216.14 L961.98,2216.26 L963.49,2216.38 L964.99,2216.50 L966.50,2216.60 L968.00,2216.70 L969.51,2216.80 L971.01,2216.88 L972.52,2216.96 L974.02,2217.04 L975.53,2217.10 L977.03,2217.16 L978.54,2217.22 L980.04,2217.28 L981.55,2217.34 L983.05,2217.40 L984.56,2217.46 L986.06,2217.51 L987.57,2217.57 L989.07,2217.62 L990.58,2217.68 L992.08,2217.73 L993.59,2217.79 L995.09,2217.84 L996.60,2217.89 L998.10,2217.94 L999.61,2217.99 L1001.11,2218.04 L1002.62,2218.08 L1004.12,2218.13 L1005.63,2218.17 L1007.13,2218.22 L1008.64,2218.26 L1010.14,2218.30 L1011.65,2218.34 L1013.15,2218.38 L1014.66,2218.42 L1016.16,2218.46 L1017.67,2218.49 L1019.17,2218.52 L1020.68,2218.56 L1022.18,2218.59 L1023.69,2218.62 L1025.19,2218.65 L1026.70,2218.68 L1028.20,2218.70 L1029.71,2218.73 L1031.21,2218.75 L1032.72,2218.77 L1034.22,2218.79 L1035.73,2218.81 L1037.23,2218.82 L1038.74,2218.84 L1040.24,2218.85 L1041.75,2218.87 L1043.25,2218.88 L1044.75,2218.88 L1046.26,2218.89 L1047.76,2218.90 L1049.27,2218.90 L1050.77,2218.90 L1052.28,2218.90 L1053.78,2218.90 L1055.29,2218.90 L1056.79,2218.91 L1058.30,2218.91 L1059.80,2218.91 L1061.31,2218.91 L1062.81,2218.91 L1064.32,2218.91 L1065.82,2218.91 L1067.33,2218.92 L1068.83,2218.92 L1070.34,2218.92 L1071.84,2218.92 L1073.35,2218.92 L1074.85,2218.92 L1076.36,2218.92 L1077.86,2218.92 L1079.37,2218.93 L1080.87,2218.93 L1082.38,2218.93 L1083.88,2218.93 L1085.39,2218.93 L1086.89,2218.93 L1088.40,2218.93 L1089.90,2218.93 L1091.41,2218.93 L1092.91,2218.94 L1094.42,2218.94 L1095.92,2218.94 L1097.43,2218.94 L1098.93,2218.94 L1100.44,2218.94 L1101.94,2218.94 L1103.45,2218.94 L1104.95,2218.94 L1106.46,2218.94 L1107.96,2218.95 L1109.47,2218.95 L1110.97,2218.95 L1112.48,2218.95 L1113.98,2218.95 L1115.49,2218.95 L1116.99,2218.95 L1118.50,2218.95 L1120.00,2218.95 L1121.51,2218.95 L1123.01,2218.96 L1124.52,2218.96 L1126.02,2218.96 L1127.53,2218.96 L1129.03,2218.96 L1130.54,2218.96 L1132.04,2218.96 L1133.55,2218.96 L1135.05,2218.96 L1136.56,2218.96 L1138.06,2218.96 L1139.57,2218.96 L1141.07,2218.96 L1142.58,2218.97 L1144.08,2218.97 L1145.59,2218.97 L1147.09,2218.97 L1148.60,2218.97 L1150.10,2218.97 L1151.61,2218.97 L1153.11,2218.97 L1154.62,2218.97 L1156.12,2218.97 L1157.63,2218.97 L1159.13,2218.97 L1160.64,2218.97 L1162.14,2218.97 L1163.65,2218.98 L1165.15,2218.98 L1166.66,2218.98 L1168.16,2218.98 L1169.67,2218.98 L1171.17,2218.98 L1172.67,2218.98 L1174.18,2218.98 L1175.68,2218.98 L1177.19,2218.98 L1178.69,2218.98 L1180.20,2218.98 L1181.70,2218.98 L1183.21,2218.98 L1184.71,2218.98 L1186.22,2218.98 L1187.72,2218.98 L1189.23,2218.98 L1190.73,2218.98 L1192.24,2218.99 L1193.74,2218.99 L1195.25,2218.99 L1196.75,2218.99 L1198.26,2218.99 L1199.76,2218.99 L1201.27,2218.99 L1202.77,2218.99 L1204.28,2218.99 L1205.78,2218.99 L1207.29,2218.99 L1208.79,2218.99 L1210.30,2218.99 L1211.80,2218.99 L1213.31,2218.99 L1214.81,2218.99 L1216.32,2218.99 L1217.82,2218.99 L1219.33,2218.99 L1220.83,2218.99 L1222.34,2218.99 L1223.84,2218.99 L1225.35,2218.99 L1226.85,2218.99 L1228.36,2218.99 L1229.86,2218.99 L1231.37,2218.99 L1232.87,2218.99 L1234.38,2218.99 L1235.88,2219.00 L1237.39,2219.00 L1238.89,2219.00 L1240.40,2219.00 L1241.90,2219.00 L1243.41,2219.00 L1244.91,2219.00 L1246.42,2219.00 L1247.92,2219.00 L1249.43,2219.00 L1250.93,2219.00 L1252.44,2219.00 L1253.94,2219.00 L1255.45,2219.00 L1256.95,2219.00 L1258.46,2219.00 L1259.96,2219.00 L1261.47,2219.00 L1262.97,2219.00 L1264.48,2219.00 L1265.98,2219.00 L1267.49,2219.00 L1268.99,2219.00 L1270.50,2219.00 L1272.00,2219.00 L1273.51,2219.00 L1275.01,2219.00 L1276.52,2219.00 L1278.02,2219.00 L1279.53,2219.00 L1281.03,2219.00 L1282.54,2219.00 L1284.04,2219.00 L1285.55,2219.00 L1287.05,2219.00 L1288.56,2219.00 L1290.06,2219.00 L1291.57,2219.00 L1293.07,2219.00 L1294.58,2219.00 L1296.08,2219.00 L1297.59,2219.00 L1299.09,2219.00 L1300.60,2219.00 L1302.10,2219.00" fill="none" stroke="#d95319" stroke-width="6.0" stroke-linejoin="round"/>
<path d="M784.40,2182.70 L785.90,2183.52 L787.41,2184.32 L788.91,2185.12 L790.42,2185.91 L791.92,2186.68 L793.43,2187.44 L794.93,2188.18 L796.44,2188.90 L797.94,2189.60 L799.45,2190.28 L800.95,2190.93 L802.46,2191.56 L803.96,2192.17 L805.47,2192.78 L806.97,2193.38 L808.48,2193.96 L809.98,2194.54 L811.49,2195.11 L812.99,2195.67 L814.50,2196.21 L816.00,2196.75 L817.51,2197.28 L819.01,2197.80 L820.52,2198.32 L822.02,2198.82 L823.53,2199.31 L825.03,2199.80 L826.54,2200.28 L828.04,2200.75 L829.55,2201.21 L831.05,2201.67 L832.56,2202.11 L834.06,2202.55 L835.57,2202.99 L837.07,2203.42 L838.58,2203.85 L840.08,2204.27 L841.59,2204.69 L843.09,2205.11 L844.60,2205.51 L846.10,2205.91 L847.61,2206.31 L849.11,2206.70 L850.62,2207.08 L852.12,2207.45 L853.63,2207.81 L855.13,2208.17 L856.64,2208.51 L858.14,2208.85 L859.65,2209.17 L861.15,2209.49 L862.66,2209.79 L864.16,2210.08 L865.67,2210.36 L867.17,2210.64 L868.68,2210.91 L870.18,2211.18 L871.69,2211.44 L873.19,2211.70 L874.70,2211.96 L876.20,2212.21 L877.71,2212.45 L879.21,2212.69 L880.72,2212.92 L882.22,2213.15 L883.73,2213.37 L885.23,2213.58 L886.74,2213.78 L888.24,2213.98 L889.75,2214.16 L891.25,2214.34 L892.76,2214.51 L894.26,2214.68 L895.77,2214.83 L897.27,2214.97 L898.78,2215.12 L900.28,2215.26 L901.79,2215.40 L903.29,2215.53 L904.80,2215.67 L906.30,2215.80 L907.81,2215.94 L909.31,2216.07 L910.82,2216.20 L912.32,2216.32 L913.82,2216.45 L915.33,2216.57 L916.83,2216.68 L918.34,2216.80 L919.84,2216.91 L921.35,2217.02 L922.85,2217.12 L924.36,2217.22 L925.86,2217.32 L927.37,2217.41 L928.87,2217.50 L930.38,2217.58 L931.88,2217.66 L933.39,2217.73 L934.89,2217.80 L936.40,2217.86 L937.90,2217.92 L939.41,2217.97 L940.91,2218.02 L942.42,2218.06 L943.92,2218.10 L945.43,2218.13 L946.93,2218.16 L948.44,2218.19 L949.94,2218.22 L951.45,2218.25 L952.95,2218.28 L954.46,2218.31 L955.96,2218.34 L957.47,2218.37 L958.97,2218.40 L960.48,2218.42 L961.98,2218.45 L963.49,2218.48 L964.99,2218.50 L966.50,2218.53 L968.00,2218.55 L969.51,2218.58 L971.01,2218.60 L972.52,2218.62 L974.02,2218.64 L975.53,2218.67 L977.03,2218.69 L978.54,2218.71 L980.04,2218.73 L981.55,2218.75 L983.05,2218.77 L984.56,2218.78 L986.06,2218.80 L987.57,2218.82 L989.07,2218.83 L990.58,2218.85 L992.08,2218.86 L993.59,2218.88 L995.09,2218.89 L996.60,2218.90 L998.10,2218.91 L999.61,2218.93 L1001.11,2218.94 L1002.62,2218.95 L1004.12,2218.95 L1005.63,2218.96 L1007.13,2218.97 L1008.64,2218.98 L1010.14,2218.98 L1011.65,2218.99 L1013.15,2218.99 L1014.66,2218.99 L1016.16,2219.00 L1017.67,2219.00 L1019.17,2219.00 L1020.68,2219.00 L1022.18,2219.00 L1023.69,2219.00 L1025.19,2219.00 L1026.70,2219.00 L1028.20,2219.00 L1029.71,2219.00 L1031.21,2219.00 L1032.72,2219.00 L1034.22,2219.00 L1035.73,2219.00 L1037.23,2219.00 L1038.74,2219.00 L1040.24,2219.00 L1041.75,2219.00 L1043.25,2219.00 L1044.75,2219.00 L1046.26,2219.00 L1047.76,2219.00 L1049.27,2219.00 L1050.77,2219.00 L1052.28,2219.00 L1053.78,2219.00 L1055.29,2219.00 L1056.79,2219.00 L1058.30,2219.00 L1059.80,2219.00 L1061.31,2219.00 L1062.81,2219.00 L1064.32,2219.00 L1065.82,2219.00 L1067.33,2219.00 L1068.83,2219.00 L1070.34,2219.00 L1071.84,2219.00 L1073.35,2219.00 L1074.85,2219.00 L1076.36,2219.00 L1077.86,2219.00 L1079.37,2219.00 L1080.87,2219.00 L1082.38,2219.00 L1083.88,2219.00 L1085.39,2219.00 L1086.89,2219.00 L1088.40,2219.00 L1089.90,2219.00 L1091.41,2219.00 L1092.91,2219.00 L1094.42,2219.00 L1095.92,2219.00 L1097.43,2219.00 L1098.93,2219.00 L1100.44,2219.00 L1101.94,2219.00 L1103.45,2219.00 L1104.95,2219.00 L1106.46,2219.00 L1107.96,2219.00 L1109.47,2219.00 L1110.97,2219.00 L1112.48,2219.00 L1113.98,2219.00 L1115.49,2219.00 L1116.99,2219.00 L1118.50,2219.00 L1120.00,2219.00 L1121.51,2219.00 L1123.01,2219.00 L1124.52,2219.00 L1126.02,2219.00 L1127.53,2219.00 L1129.03,2219.00 L1130.54,2219.00 L1132.04,2219.00 L1133.55,2219.00 L1135.05,2219.00 L1136.56,2219.00 L1138.06,2219.00 L1139.57,2219.00 L1141.07,2219.00 L1142.58,2219.00 L1144.08,2219.00 L1145.59,2219.00 L1147.09,2219.00 L1148.60,2219.00 L1150.10,2219.00 L1151.61,2219.00 L1153.11,2219.00 L1154.62,2219.00 L1156.12,2219.00 L1157.63,2219.00 L1159.13,2219.00 L1160.64,2219.00 L1162.14,2219.00 L1163.65,2219.00 L1165.15,2219.00 L1166.66,2219.00 L1168.16,2219.00 L1169.67,2219.00 L1171.17,2219.00 L1172.67,2219.00 L1174.18,2219.00 L1175.68,2219.00 L1177.19,2219.00 L1178.69,2219.00 L1180.20,2219.00 L1181.70,2219.00 L1183.21,2219.00 L1184.71,2219.00 L1186.22,2219.00 L1187.72,2219.00 L1189.23,2219.00 L1190.73,2219.00 L1192.24,2219.00 L1193.74,2219.00 L1195.25,2219.00 L1196.75,2219.00 L1198.26,2219.00 L1199.76,2219.00 L1201.27,2219.00 L1202.77,2219.00 L1204.28,2219.00 L1205.78,2219.00 L1207.29,2219.00 L1208.79,2219.00 L1210.30,2219.00 L1211.80,2219.00 L1213.31,2219.00 L1214.81,2219.00 L1216.32,2219.00 L1217.82,2219.00 L1219.33,2219.00 L1220.83,2219.00 L1222.34,2219.00 L1223.84,2219.00 L1225.35,2219.00 L1226.85,2219.00 L1228.36,2219.00 L1229.86,2219.00 L1231.37,2219.00 L1232.87,2219.00 L1234.38,2219.00 L1235.88,2219.00 L1237.39,2219.00 L1238.89,2219.00 L1240.40,2219.00 L1241.90,2219.00 L1243.41,2219.00 L1244.91,2219.00 L1246.42,2219.00 L1247.92,2219.00 L1249.43,2219.00 L1250.93,2219.00 L1252.44,2219.00 L1253.94,2219.00 L1255.45,2219.00 L1256.95,2219.00 L1258.46,2219.00 L1259.96,2219.00 L1261.47,2219.00 L1262.97,2219.00 L1264.48,2219.00 L1265.98,2219.00 L1267.49,2219.00 L1268.99,2219.00 L1270.50,2219.00 L1272.00,2219.00 L1273.51,2219.00 L1275.01,2219.00 L1276.52,2219.00 L1278.02,2219.00 L1279.53,2219.00 L1281.03,2219.00 L1282.54,2219.00 L1284.04,2219.00 L1285.55,2219.00 L1287.05,2219.00 L1288.56,2219.00 L1290.06,2219.00 L1291.57,2219.00 L1293.07,2219.00 L1294.58,2219.00 L1296.08,2219.00 L1297.59,2219.00 L1299.09,2219.00 L1300.60,2219.00 L1302.10,2219.00" fill="none" stroke="#edb120" stroke-width="6.0" stroke-linejoin="round"/>
<path d="M784.40,2208.60 L785.90,2208.92 L787.41,2209.23 L788.91,2209.53 L790.42,2209.84 L791.92,2210.13 L793.43,2210.42 L794.93,2210.70 L796.44,2210.96 L797.94,2211.22 L799.45,2211.47 L800.95,2211.70 L802.46,2211.93 L803.96,2212.14 L805.47,2212.36 L806.97,2212.57 L808.48,2212.78 L809.98,2212.98 L811.49,2213.18 L812.99,2213.37 L814.50,2213.56 L816.00,2213.75 L817.51,2213.93 L819.01,2214.11 L820.52,2214.28 L822.02,2214.44 L823.53,2214.60 L825.03,2214.76 L826.54,2214.91 L828.04,2215.05 L829.55,2215.19 L831.05,2215.32 L832.56,2215.45 L834.06,2215.57 L835.57,2215.69 L837.07,2215.80 L838.58,2215.91 L840.08,2216.02 L841.59,2216.13 L843.09,2216.23 L844.60,2216.34 L846.10,2216.44 L847.61,2216.53 L849.11,2216.62 L850.62,2216.71 L852.12,2216.80 L853.63,2216.89 L855.13,2216.97 L856.64,2217.04 L858.14,2217.12 L859.65,2217.19 L861.15,2217.25 L862.66,2217.32 L864.16,2217.38 L865.67,2217.43 L867.17,2217.49 L868.68,2217.54 L870.18,2217.60 L871.69,2217.65 L873.19,2217.71 L874.70,2217.76 L876.20,2217.82 L877.71,2217.87 L879.21,2217.92 L880.72,2217.98 L882.22,2218.03 L883.73,2218.08 L885.23,2218.13 L886.74,2218.18 L888.24,2218.22 L889.75,2218.27 L891.25,2218.31 L892.76,2218.36 L894.26,2218.40 L895.77,2218.44 L897.27,2218.48 L898.78,2218.51 L900.28,2218.55 L901.79,2218.58 L903.29,2218.61 L904.80,2218.64 L906.30,2218.67 L907.81,2218.69 L909.31,2218.72 L910.82,2218.74 L912.32,2218.75 L913.82,2218.77 L915.33,2218.78 L916.83,2218.79 L918.34,2218.80 L919.84,2218.80 L921.35,2218.80 L922.85,2218.80 L924.36,2218.81 L925.86,2218.81 L927.37,2218.81 L928.87,2218.81 L930.38,2218.81 L931.88,2218.82 L933.39,2218.82 L934.89,2218.82 L936.40,2218.82 L937.90,2218.82 L939.41,2218.83 L940.91,2218.83 L942.42,2218.83 L943.92,2218.83 L945.43,2218.83 L946.93,2218.83 L948.44,2218.84 L949.94,2218.84 L951.45,2218.84 L952.95,2218.84 L954.46,2218.84 L955.96,2218.84 L957.47,2218.85 L958.97,2218.85 L960.48,2218.85 L961.98,2218.85 L963.49,2218.85 L964.99,2218.85 L966.50,2218.86 L968.00,2218.86 L969.51,2218.86 L971.01,2218.86 L972.52,2218.86 L974.02,2218.86 L975.53,2218.87 L977.03,2218.87 L978.54,2218.87 L980.04,2218.87 L981.55,2218.87 L983.05,2218.87 L984.56,2218.88 L986.06,2218.88 L987.57,2218.88 L989.07,2218.88 L990.58,2218.88 L992.08,2218.88 L993.59,2218.88 L995.09,2218.89 L996.60,2218.89 L998.10,2218.89 L999.61,2218.89 L1001.11,2218.89 L1002.62,2218.89 L1004.12,2218.89 L1005.63,2218.90 L1007.13,2218.90 L1008.64,2218.90 L1010.14,2218.90 L1011.65,2218.90 L1013.15,2218.90 L1014.66,2218.90 L1016.16,2218.90 L1017.67,2218.91 L1019.17,2218.91 L1020.68,2218.91 L1022.18,2218.91 L1023.69,2218.91 L1025.19,2218.91 L1026.70,2218.91 L1028.20,2218.91 L1029.71,2218.92 L1031.21,2218.92 L1032.72,2218.92 L1034.22,2218.92 L1035.73,2218.92 L1037.23,2218.92 L1038.74,2218.92 L1040.24,2218.92 L1041.75,2218.92 L1043.25,2218.93 L1044.75,2218.93 L1046.26,2218.93 L1047.76,2218.93 L1049.27,2218.93 L1050.77,2218.93 L1052.28,2218.93 L1053.78,2218.93 L1055.29,2218.93 L1056.79,2218.93 L1058.30,2218.94 L1059.80,2218.94 L1061.31,2218.94 L1062.81,2218.94 L1064.32,2218.94 L1065.82,2218.94 L1067.33,2218.94 L1068.83,2218.94 L1070.34,2218.94 L1071.84,2218.94 L1073.35,2218.94 L1074.85,2218.95 L1076.36,2218.95 L1077.86,2218.95 L1079.37,2218.95 L1080.87,2218.95 L1082.38,2218.95 L1083.88,2218.95 L1085.39,2218.95 L1086.89,2218.95 L1088.40,2218.95 L1089.90,2218.95 L1091.41,2218.95 L1092.91,2218.96 L1094.42,2218.96 L1095.92,2218.96 L1097.43,2218.96 L1098.93,2218.96 L1100.44,2218.96 L1101.94,2218.96 L1103.45,2218.96 L1104.95,2218.96 L1106.46,2218.96 L1107.96,2218.96 L1109.47,2218.96 L1110.97,2218.96 L1112.48,2218.97 L1113.98,2218.97 L1115.49,2218.97 L1116.99,2218.97 L1118.50,2218.97 L1120.00,2218.97 L1121.51,2218.97 L1123.01,2218.97 L1124.52,2218.97 L1126.02,2218.97 L1127.53,2218.97 L1129.03,2218.97 L1130.54,2218.97 L1132.04,2218.97 L1133.55,2218.97 L1135.05,2218.97 L1136.56,2218.97 L1138.06,2218.98 L1139.57,2218.98 L1141.07,2218.98 L1142.58,2218.98 L1144.08,2218.98 L1145.59,2218.98 L1147.09,2218.98 L1148.60,2218.98 L1150.10,2218.98 L1151.61,2218.98 L1153.11,2218.98 L1154.62,2218.98 L1156.12,2218.98 L1157.63,2218.98 L1159.13,2218.98 L1160.64,2218.98 L1162.14,2218.98 L1163.65,2218.98 L1165.15,2218.98 L1166.66,2218.98 L1168.16,2218.98 L1169.67,2218.99 L1171.17,2218.99 L1172.67,2218.99 L1174.18,2218.99 L1175.68,2218.99 L1177.19,2218.99 L1178.69,2218.99 L1180.20,2218.99 L1181.70,2218.99 L1183.21,2218.99 L1184.71,2218.99 L1186.22,2218.99 L1187.72,2218.99 L1189.23,2218.99 L1190.73,2218.99 L1192.24,2218.99 L1193.74,2218.99 L1195.25,2218.99 L1196.75,2218.99 L1198.26,2218.99 L1199.76,2218.99 L1201.27,2218.99 L1202.77,2218.99 L1204.28,2218.99 L1205.78,2218.99 L1207.29,2218.99 L1208.79,2218.99 L1210.30,2218.99 L1211.80,2218.99 L1213.31,2218.99 L1214.81,2218.99 L1216.32,2218.99 L1217.82,2218.99 L1219.33,2218.99 L1220.83,2219.00 L1222.34,2219.00 L1223.84,2219.00 L1225.35,2219.00 L1226.85,2219.00 L1228.36,2219.00 L1229.86,2219.00 L1231.37,2219.00 L1232.87,2219.00 L1234.38,2219.00 L1235.88,2219.00 L1237.39,2219.00 L1238.89,2219.00 L1240.40,2219.00 L1241.90,2219.00 L1243.41,2219.00 L1244.91,2219.00 L1246.42,2219.00 L1247.92,2219.00 L1249.43,2219.00 L1250.93,2219.00 L1252.44,2219.00 L1253.94,2219.00 L1255.45,2219.00 L1256.95,2219.00 L1258.46,2219.00 L1259.96,2219.00 L1261.47,2219.00 L1262.97,2219.00 L1264.48,2219.00 L1265.98,2219.00 L1267.49,2219.00 L1268.99,2219.00 L1270.50,2219.00 L1272.00,2219.00 L1273.51,2219.00 L1275.01,2219.00 L1276.52,2219.00 L1278.02,2219.00 L1279.53,2219.00 L1281.03,2219.00 L1282.54,2219.00 L1284.04,2219.00 L1285.55,2219.00 L1287.05,2219.00 L1288.56,2219.00 L1290.06,2219.00 L1291.57,2219.00 L1293.07,2219.00 L1294.58,2219.00 L1296.08,2219.00 L1297.59,2219.00 L1299.09,2219.00 L1300.60,2219.00 L1302.10,2219.00" fill="none" stroke="#7e2f8e" stroke-width="6.0" stroke-linejoin="round"/>
<path d="M784.40,2246.50 L785.90,2245.27 L787.41,2244.06 L788.91,2242.89 L790.42,2241.77 L791.92,2240.70 L793.43,2239.71 L794.93,2238.81 L796.44,2237.97 L797.94,2237.16 L799.45,2236.38 L800.95,2235.61 L802.46,2234.87 L803.96,2234.16 L805.47,2233.47 L806.97,2232.81 L808.48,2232.18 L809.98,2231.58 L811.49,2231.01 L812.99,2230.48 L814.50,2229.97 L816.00,2229.50 L817.51,2229.07 L819.01,2228.66 L820.52,2228.25 L822.02,2227.86 L823.53,2227.47 L825.03,2227.09 L826.54,2226.73 L828.04,2226.38 L829.55,2226.03 L831.05,2225.70 L832.56,2225.38 L834.06,2225.08 L835.57,2224.79 L837.07,2224.51 L838.58,2224.24 L840.08,2223.99 L841.59,2223.75 L843.09,2223.53 L844.60,2223.32 L846.10,2223.13 L847.61,2222.95 L849.11,2222.79 L850.62,2222.64 L852.12,2222.49 L853.63,2222.34 L855.13,2222.20 L856.64,2222.06 L858.14,2221.92 L859.65,2221.78 L861.15,2221.65 L862.66,2221.52 L864.16,2221.40 L865.67,2221.27 L867.17,2221.15 L868.68,2221.04 L870.18,2220.93 L871.69,2220.82 L873.19,2220.72 L874.70,2220.62 L876.20,2220.52 L877.71,2220.43 L879.21,2220.35 L880.72,2220.26 L882.22,2220.19 L883.73,2220.11 L885.23,2220.05 L886.74,2219.98 L888.24,2219.92 L889.75,2219.87 L891.25,2219.82 L892.76,2219.78 L894.26,2219.74 L895.77,2219.71 L897.27,2219.69 L898.78,2219.66 L900.28,2219.64 L901.79,2219.61 L903.29,2219.59 L904.80,2219.57 L906.30,2219.54 L907.81,2219.52 L909.31,2219.50 L910.82,2219.48 L912.32,2219.46 L913.82,2219.44 L915.33,2219.42 L916.83,2219.40 L918.34,2219.38 L919.84,2219.36 L921.35,2219.34 L922.85,2219.33 L924.36,2219.31 L925.86,2219.29 L927.37,2219.28 L928.87,2219.26 L930.38,2219.25 L931.88,2219.24 L933.39,2219.22 L934.89,2219.21 L936.40,2219.20 L937.90,2219.19 L939.41,2219.18 L940.91,2219.17 L942.42,2219.16 L943.92,2219.15 L945.43,2219.14 L946.93,2219.14 L948.44,2219.13 L949.94,2219.12 L951.45,2219.12 L952.95,2219.11 L954.46,2219.11 L955.96,2219.11 L957.47,2219.10 L958.97,2219.10 L960.48,2219.10 L961.98,2219.10 L963.49,2219.10 L964.99,2219.10 L966.50,2219.10 L968.00,2219.09 L969.51,2219.09 L971.01,2219.09 L972.52,2219.09 L974.02,2219.09 L975.53,2219.09 L977.03,2219.09 L978.54,2219.09 L980.04,2219.09 L981.55,2219.09 L983.05,2219.08 L984.56,2219.08 L986.06,2219.08 L987.57,2219.08 L989.07,2219.08 L990.58,2219.08 L992.08,2219.08 L993.59,2219.08 L995.09,2219.08 L996.60,2219.08 L998.10,2219.07 L999.61,2219.07 L1001.11,2219.07 L1002.62,2219.07 L1004.12,2219.07 L1005.63,2219.07 L1007.13,2219.07 L1008.64,2219.07 L1010.14,2219.07 L1011.65,2219.07 L1013.15,2219.07 L1014.66,2219.07 L1016.16,2219.06 L1017.67,2219.06 L1019.17,2219.06 L1020.68,2219.06 L1022.18,2219.06 L1023.69,2219.06 L1025.19,2219.06 L1026.70,2219.06 L1028.20,2219.06 L1029.71,2219.06 L1031.21,2219.06 L1032.72,2219.06 L1034.22,2219.06 L1035.73,2219.05 L1037.23,2219.05 L1038.74,2219.05 L1040.24,2219.05 L1041.75,2219.05 L1043.25,2219.05 L1044.75,2219.05 L1046.26,2219.05 L1047.76,2219.05 L1049.27,2219.05 L1050.77,2219.05 L1052.28,2219.05 L1053.78,2219.05 L1055.29,2219.05 L1056.79,2219.04 L1058.30,2219.04 L1059.80,2219.04 L1061.31,2219.04 L1062.81,2219.04 L1064.32,2219.04 L1065.82,2219.04 L1067.33,2219.04 L1068.83,2219.04 L1070.34,2219.04 L1071.84,2219.04 L1073.35,2219.04 L1074.85,2219.04 L1076.36,2219.04 L1077.86,2219.04 L1079.37,2219.04 L1080.87,2219.03 L1082.38,2219.03 L1083.88,2219.03 L1085.39,2219.03 L1086.89,2219.03 L1088.40,2219.03 L1089.90,2219.03 L1091.41,2219.03 L1092.91,2219.03 L1094.42,2219.03 L1095.92,2219.03 L1097.43,2219.03 L1098.93,2219.03 L1100.44,2219.03 L1101.94,2219.03 L1103.45,2219.03 L1104.95,2219.03 L1106.46,2219.03 L1107.96,2219.03 L1109.47,2219.03 L1110.97,2219.02 L1112.48,2219.02 L1113.98,2219.02 L1115.49,2219.02 L1116.99,2219.02 L1118.50,2219.02 L1120.00,2219.02 L1121.51,2219.02 L1123.01,2219.02 L1124.52,2219.02 L1126.02,2219.02 L1127.53,2219.02 L1129.03,2219.02 L1130.54,2219.02 L1132.04,2219.02 L1133.55,2219.02 L1135.05,2219.02 L1136.56,2219.02 L1138.06,2219.02 L1139.57,2219.02 L1141.07,2219.02 L1142.58,2219.02 L1144.08,2219.02 L1145.59,2219.02 L1147.09,2219.02 L1148.60,2219.01 L1150.10,2219.01 L1151.61,2219.01 L1153.11,2219.01 L1154.62,2219.01 L1156.12,2219.01 L1157.63,2219.01 L1159.13,2219.01 L1160.64,2219.01 L1162.14,2219.01 L1163.65,2219.01 L1165.15,2219.01 L1166.66,2219.01 L1168.16,2219.01 L1169.67,2219.01 L1171.17,2219.01 L1172.67,2219.01 L1174.18,2219.01 L1175.68,2219.01 L1177.19,2219.01 L1178.69,2219.01 L1180.20,2219.01 L1181.70,2219.01 L1183.21,2219.01 L1184.71,2219.01 L1186.22,2219.01 L1187.72,2219.01 L1189.23,2219.01 L1190.73,2219.01 L1192.24,2219.01 L1193.74,2219.01 L1195.25,2219.01 L1196.75,2219.01 L1198.26,2219.01 L1199.76,2219.01 L1201.27,2219.01 L1202.77,2219.01 L1204.28,2219.01 L1205.78,2219.01 L1207.29,2219.01 L1208.79,2219.00 L1210.30,2219.00 L1211.80,2219.00 L1213.31,2219.00 L1214.81,2219.00 L1216.32,2219.00 L1217.82,2219.00 L1219.33,2219.00 L1220.83,2219.00 L1222.34,2219.00 L1223.84,2219.00 L1225.35,2219.00 L1226.85,2219.00 L1228.36,2219.00 L1229.86,2219.00 L1231.37,2219.00 L1232.87,2219.00 L1234.38,2219.00 L1235.88,2219.00 L1237.39,2219.00 L1238.89,2219.00 L1240.40,2219.00 L1241.90,2219.00 L1243.41,2219.00 L1244.91,2219.00 L1246.42,2219.00 L1247.92,2219.00 L1249.43,2219.00 L1250.93,2219.00 L1252.44,2219.00 L1253.94,2219.00 L1255.45,2219.00 L1256.95,2219.00 L1258.46,2219.00 L1259.96,2219.00 L1261.47,2219.00 L1262.97,2219.00 L1264.48,2219.00 L1265.98,2219.00 L1267.49,2219.00 L1268.99,2219.00 L1270.50,2219.00 L1272.00,2219.00 L1273.51,2219.00 L1275.01,2219.00 L1276.52,2219.00 L1278.02,2219.00 L1279.53,2219.00 L1281.03,2219.00 L1282.54,2219.00 L1284.04,2219.00 L1285.55,2219.00 L1287.05,2219.00 L1288.56,2219.00 L1290.06,2219.00 L1291.57,2219.00 L1293.07,2219.00 L1294.58,2219.00 L1296.08,2219.00 L1297.59,2219.00 L1299.09,2219.00 L1300.60,2219.00 L1302.10,2219.00" fill="none" stroke="#77ac30" stroke-width="6.0" stroke-linejoin="round"/>
<path d="M784.40,2350.90 L785.90,2333.02 L787.41,2319.13 L788.91,2309.21 L790.42,2300.80 L791.92,2293.88 L793.43,2288.43 L794.93,2284.11 L796.44,2280.30 L797.94,2276.93 L799.45,2273.94 L800.95,2271.27 L802.46,2268.86 L803.96,2266.65 L805.47,2264.60 L806.97,2262.67 L808.48,2260.84 L809.98,2259.12 L811.49,2257.51 L812.99,2255.99 L814.50,2254.57 L816.00,2253.24 L817.51,2251.99 L819.01,2250.84 L820.52,2249.76 L822.02,2248.73 L823.53,2247.74 L825.03,2246.77 L826.54,2245.83 L828.04,2244.92 L829.55,2244.04 L831.05,2243.19 L832.56,2242.37 L834.06,2241.58 L835.57,2240.83 L837.07,2240.10 L838.58,2239.40 L840.08,2238.74 L841.59,2238.11 L843.09,2237.52 L844.60,2236.95 L846.10,2236.42 L847.61,2235.93 L849.11,2235.47 L850.62,2235.03 L852.12,2234.60 L853.63,2234.18 L855.13,2233.76 L856.64,2233.36 L858.14,2232.97 L859.65,2232.59 L861.15,2232.22 L862.66,2231.86 L864.16,2231.50 L865.67,2231.16 L867.17,2230.82 L868.68,2230.50 L870.18,2230.18 L871.69,2229.87 L873.19,2229.57 L874.70,2229.28 L876.20,2229.00 L877.71,2228.72 L879.21,2228.46 L880.72,2228.20 L882.22,2227.96 L883.73,2227.72 L885.23,2227.48 L886.74,2227.26 L888.24,2227.04 L889.75,2226.84 L891.25,2226.64 L892.76,2226.44 L894.26,2226.26 L895.77,2226.08 L897.27,2225.91 L898.78,2225.75 L900.28,2225.58 L901.79,2225.42 L903.29,2225.26 L904.80,2225.10 L906.30,2224.95 L907.81,2224.80 L909.31,2224.65 L910.82,2224.50 L912.32,2224.36 L913.82,2224.21 L915.33,2224.07 L916.83,2223.94 L918.34,2223.80 L919.84,2223.67 L921.35,2223.54 L922.85,2223.42 L924.36,2223.29 L925.86,2223.17 L927.37,2223.05 L928.87,2222.94 L930.38,2222.83 L931.88,2222.72 L933.39,2222.61 L934.89,2222.50 L936.40,2222.40 L937.90,2222.30 L939.41,2222.21 L940.91,2222.11 L942.42,2222.02 L943.92,2221.94 L945.43,2221.85 L946.93,2221.77 L948.44,2221.69 L949.94,2221.62 L951.45,2221.54 L952.95,2221.47 L954.46,2221.41 L955.96,2221.34 L957.47,2221.28 L958.97,2221.23 L960.48,2221.17 L961.98,2221.12 L963.49,2221.07 L964.99,2221.01 L966.50,2220.96 L968.00,2220.91 L969.51,2220.87 L971.01,2220.82 L972.52,2220.77 L974.02,2220.72 L975.53,2220.68 L977.03,2220.63 L978.54,2220.59 L980.04,2220.55 L981.55,2220.51 L983.05,2220.47 L984.56,2220.43 L986.06,2220.39 L987.57,2220.35 L989.07,2220.31 L990.58,2220.28 L992.08,2220.24 L993.59,2220.21 L995.09,2220.17 L996.60,2220.14 L998.10,2220.11 L999.61,2220.08 L1001.11,2220.05 L1002.62,2220.02 L1004.12,2219.99 L1005.63,2219.96 L1007.13,2219.93 L1008.64,2219.91 L1010.14,2219.88 L1011.65,2219.86 L1013.15,2219.83 L1014.66,2219.81 L1016.16,2219.79 L1017.67,2219.77 L1019.17,2219.75 L1020.68,2219.73 L1022.18,2219.71 L1023.69,2219.69 L1025.19,2219.67 L1026.70,2219.66 L1028.20,2219.64 L1029.71,2219.62 L1031.21,2219.60 L1032.72,2219.59 L1034.22,2219.57 L1035.73,2219.55 L1037.23,2219.53 L1038.74,2219.52 L1040.24,2219.50 L1041.75,2219.49 L1043.25,2219.47 L1044.75,2219.45 L1046.26,2219.44 L1047.76,2219.42 L1049.27,2219.41 L1050.77,2219.39 L1052.28,2219.38 L1053.78,2219.36 L1055.29,2219.35 L1056.79,2219.34 L1058.30,2219.32 L1059.80,2219.31 L1061.31,2219.30 L1062.81,2219.28 L1064.32,2219.27 L1065.82,2219.26 L1067.33,2219.25 L1068.83,2219.24 L1070.34,2219.23 L1071.84,2219.22 L1073.35,2219.21 L1074.85,2219.20 L1076.36,2219.19 L1077.86,2219.18 L1079.37,2219.17 L1080.87,2219.16 L1082.38,2219.15 L1083.88,2219.15 L1085.39,2219.14 L1086.89,2219.13 L1088.40,2219.13 L1089.90,2219.12 L1091.41,2219.12 L1092.91,2219.11 L1094.42,2219.11 L1095.92,2219.11 L1097.43,2219.10 L1098.93,2219.10 L1100.44,2219.10 L1101.94,2219.10 L1103.45,2219.10 L1104.95,2219.09 L1106.46,2219.09 L1107.96,2219.09 L1109.47,2219.09 L1110.97,2219.09 L1112.48,2219.09 L1113.98,2219.09 L1115.49,2219.08 L1116.99,2219.08 L1118.50,2219.08 L1120.00,2219.08 L1121.51,2219.08 L1123.01,2219.08 L1124.52,2219.08 L1126.02,2219.07 L1127.53,2219.07 L1129.03,2219.07 L1130.54,2219.07 L1132.04,2219.07 L1133.55,2219.07 L1135.05,2219.07 L1136.56,2219.07 L1138.06,2219.06 L1139.57,2219.06 L1141.07,2219.06 L1142.58,2219.06 L1144.08,2219.06 L1145.59,2219.06 L1147.09,2219.06 L1148.60,2219.06 L1150.10,2219.05 L1151.61,2219.05 L1153.11,2219.05 L1154.62,2219.05 L1156.12,2219.05 L1157.63,2219.05 L1159.13,2219.05 L1160.64,2219.05 L1162.14,2219.05 L1163.65,2219.04 L1165.15,2219.04 L1166.66,2219.04 L1168.16,2219.04 L1169.67,2219.04 L1171.17,2219.04 L1172.67,2219.04 L1174.18,2219.04 L1175.68,2219.04 L1177.19,2219.04 L1178.69,2219.03 L1180.20,2219.03 L1181.70,2219.03 L1183.21,2219.03 L1184.71,2219.03 L1186.22,2219.03 L1187.72,2219.03 L1189.23,2219.03 L1190.73,2219.03 L1192.24,2219.03 L1193.74,2219.03 L1195.25,2219.03 L1196.75,2219.03 L1198.26,2219.02 L1199.76,2219.02 L1201.27,2219.02 L1202.77,2219.02 L1204.28,2219.02 L1205.78,2219.02 L1207.29,2219.02 L1208.79,2219.02 L1210.30,2219.02 L1211.80,2219.02 L1213.31,2219.02 L1214.81,2219.02 L1216.32,2219.02 L1217.82,2219.02 L1219.33,2219.02 L1220.83,2219.01 L1222.34,2219.01 L1223.84,2219.01 L1225.35,2219.01 L1226.85,2219.01 L1228.36,2219.01 L1229.86,2219.01 L1231.37,2219.01 L1232.87,2219.01 L1234.38,2219.01 L1235.88,2219.01 L1237.39,2219.01 L1238.89,2219.01 L1240.40,2219.01 L1241.90,2219.01 L1243.41,2219.01 L1244.91,2219.01 L1246.42,2219.01 L1247.92,2219.01 L1249.43,2219.01 L1250.93,2219.01 L1252.44,2219.01 L1253.94,2219.00 L1255.45,2219.00 L1256.95,2219.00 L1258.46,2219.00 L1259.96,2219.00 L1261.47,2219.00 L1262.97,2219.00 L1264.48,2219.00 L1265.98,2219.00 L1267.49,2219.00 L1268.99,2219.00 L1270.50,2219.00 L1272.00,2219.00 L1273.51,2219.00 L1275.01,2219.00 L1276.52,2219.00 L1278.02,2219.00 L1279.53,2219.00 L1281.03,2219.00 L1282.54,2219.00 L1284.04,2219.00 L1285.55,2219.00 L1287.05,2219.00 L1288.56,2219.00 L1290.06,2219.00 L1291.57,2219.00 L1293.07,2219.00 L1294.58,2219.00 L1296.08,2219.00 L1297.59,2219.00 L1299.09,2219.00 L1300.60,2219.00 L1302.10,2219.00" fill="none" stroke="#4dbeee" stroke-width="6.0" stroke-linejoin="round"/>
<line x1="784.40" y1="2219.00" x2="1302.10" y2="2219.00" stroke="#000" stroke-opacity="0.7" stroke-width="5.6" stroke-dasharray="18.8 18.8"/>
<line x1="784.40" y1="2426.80" x2="784.40" y2="2421.20" stroke="#262626" stroke-width="1.0"/>
<line x1="956.97" y1="2426.80" x2="956.97" y2="2421.20" stroke="#262626" stroke-width="1.0"/>
<line x1="1129.53" y1="2426.80" x2="1129.53" y2="2421.20" stroke="#262626" stroke-width="1.0"/>
<line x1="1302.10" y1="2426.80" x2="1302.10" y2="2421.20" stroke="#262626" stroke-width="1.0"/>
<line x1="784.40" y1="2426.80" x2="790.00" y2="2426.80" stroke="#262626" stroke-width="1.0"/>
<line x1="784.40" y1="2251.85" x2="790.00" y2="2251.85" stroke="#262626" stroke-width="1.0"/>
<line x1="784.40" y1="2076.90" x2="790.00" y2="2076.90" stroke="#262626" stroke-width="1.0"/>
<line x1="784.40" y1="2374.13" x2="787.60" y2="2374.13" stroke="#262626" stroke-width="1.0"/>
<line x1="784.40" y1="2343.33" x2="787.60" y2="2343.33" stroke="#262626" stroke-width="1.0"/>
<line x1="784.40" y1="2321.47" x2="787.60" y2="2321.47" stroke="#262626" stroke-width="1.0"/>
<line x1="784.40" y1="2304.52" x2="787.60" y2="2304.52" stroke="#262626" stroke-width="1.0"/>
<line x1="784.40" y1="2290.66" x2="787.60" y2="2290.66" stroke="#262626" stroke-width="1.0"/>
<line x1="784.40" y1="2278.95" x2="787.60" y2="2278.95" stroke="#262626" stroke-width="1.0"/>
<line x1="784.40" y1="2268.80" x2="787.60" y2="2268.80" stroke="#262626" stroke-width="1.0"/>
<line x1="784.40" y1="2259.86" x2="787.60" y2="2259.86" stroke="#262626" stroke-width="1.0"/>
<line x1="784.40" y1="2199.18" x2="787.60" y2="2199.18" stroke="#262626" stroke-width="1.0"/>
<line x1="784.40" y1="2168.38" x2="787.60" y2="2168.38" stroke="#262626" stroke-width="1.0"/>
<line x1="784.40" y1="2146.52" x2="787.60" y2="2146.52" stroke="#262626" stroke-width="1.0"/>
<line x1="784.40" y1="2129.57" x2="787.60" y2="2129.57" stroke="#262626" stroke-width="1.0"/>
<line x1="784.40" y1="2115.71" x2="787.60" y2="2115.71" stroke="#262626" stroke-width="1.0"/>
<line x1="784.40" y1="2104.00" x2="787.60" y2="2104.00" stroke="#262626" stroke-width="1.0"/>
<line x1="784.40" y1="2093.85" x2="787.60" y2="2093.85" stroke="#262626" stroke-width="1.0"/>
<line x1="784.40" y1="2084.91" x2="787.60" y2="2084.91" stroke="#262626" stroke-width="1.0"/>
<path d="M784.40,2076.90 L784.40,2426.80 L1302.10,2426.80" fill="none" stroke="#262626" stroke-width="1.05"/>
<text transform="translate(776.95,2465.00)" fill="#262626" stroke="#262626" stroke-width="0.35"><tspan x="0.00" y="0.00" style="font-family:'Liberation Sans';font-size:26.80px">0</tspan></text>
<text transform="translate(934.61,2465.00)" fill="#262626" stroke="#262626" stroke-width="0.35"><tspan x="0.00" y="0.00" style="font-family:'Liberation Sans';font-size:26.80px">200</tspan></text>
<text transform="translate(1107.18,2465.00)" fill="#262626" stroke="#262626" stroke-width="0.35"><tspan x="0.00" y="0.00" style="font-family:'Liberation Sans';font-size:26.80px">400</tspan></text>
<text transform="translate(1279.74,2465.00)" fill="#262626" stroke="#262626" stroke-width="0.35"><tspan x="0.00" y="0.00" style="font-family:'Liberation Sans';font-size:26.80px">600</tspan></text>
<text transform="translate(732.42,2090.90)" fill="#262626" stroke="#262626" stroke-width="0.35"><tspan x="0.00" y="0.00" style="font-family:'Liberation Sans';font-size:26.80px">10</tspan><tspan x="29.81" y="-12.70" style="font-family:'Liberation Sans';font-size:22.60px">1</tspan></text>
<text transform="translate(732.42,2265.85)" fill="#262626" stroke="#262626" stroke-width="0.35"><tspan x="0.00" y="0.00" style="font-family:'Liberation Sans';font-size:26.80px">10</tspan><tspan x="29.81" y="-12.70" style="font-family:'Liberation Sans';font-size:22.60px">0</tspan></text>
<text transform="translate(724.89,2440.80)" fill="#262626" stroke="#262626" stroke-width="0.35"><tspan x="0.00" y="0.00" style="font-family:'Liberation Sans';font-size:26.80px">10</tspan><tspan x="29.81" y="-12.70" style="font-family:'Liberation Sans';font-size:22.60px">-1</tspan></text>
<text transform="translate(987.86,2505.31) scale(1.0709,1)" fill="#262626" stroke="#fff" stroke-width="0.5"><tspan x="0.00" y="0.00" style="font-family:'Liberation Serif';font-size:39.10px">Time </tspan><tspan x="90.92" y="0.00" style="font-family:'Liberation Serif';font-size:39.10px;font-style:italic">t</tspan></text>
<text transform="translate(1159.81,2196.95) scale(0.7889,1)" fill="#000" stroke="#fff" stroke-width="0.5"><tspan x="0.00" y="0.00" style="font-family:'Liberation Serif';font-size:54.59px;font-style:italic">c</tspan><tspan x="24.23" y="0.00" style="font-family:'Liberation Serif';font-size:54.59px">*</tspan></text>
<path d="M1431.40,2162.80 L1432.91,2162.83 L1434.42,2162.87 L1435.92,2162.92 L1437.43,2162.98 L1438.94,2163.06 L1440.45,2163.15 L1441.96,2163.25 L1443.47,2163.36 L1444.97,2163.48 L1446.48,2163.61 L1447.99,2163.74 L1449.50,2163.88 L1451.01,2164.03 L1452.51,2164.19 L1454.02,2164.35 L1455.53,2164.51 L1457.04,2164.68 L1458.55,2164.85 L1460.06,2165.03 L1461.56,2165.20 L1463.07,2165.38 L1464.58,2165.58 L1466.09,2165.80 L1467.60,2166.04 L1469.10,2166.31 L1470.61,2166.59 L1472.12,2166.88 L1473.63,2167.19 L1475.14,2167.52 L1476.65,2167.86 L1478.15,2168.21 L1479.66,2168.56 L1481.17,2168.93 L1482.68,2169.31 L1484.19,2169.69 L1485.69,2170.07 L1487.20,2170.46 L1488.71,2170.85 L1490.22,2171.23 L1491.73,2171.62 L1493.24,2172.01 L1494.74,2172.39 L1496.25,2172.78 L1497.76,2173.19 L1499.27,2173.61 L1500.78,2174.03 L1502.28,2174.47 L1503.79,2174.91 L1505.30,2175.37 L1506.81,2175.82 L1508.32,2176.29 L1509.83,2176.75 L1511.33,2177.23 L1512.84,2177.70 L1514.35,2178.17 L1515.86,2178.65 L1517.37,2179.12 L1518.87,2179.60 L1520.38,2180.07 L1521.89,2180.54 L1523.40,2181.00 L1524.91,2181.46 L1526.42,2181.92 L1527.92,2182.37 L1529.43,2182.83 L1530.94,2183.29 L1532.45,2183.76 L1533.96,2184.22 L1535.46,2184.69 L1536.97,2185.16 L1538.48,2185.63 L1539.99,2186.09 L1541.50,2186.56 L1543.01,2187.02 L1544.51,2187.48 L1546.02,2187.94 L1547.53,2188.39 L1549.04,2188.84 L1550.55,2189.28 L1552.05,2189.72 L1553.56,2190.16 L1555.07,2190.58 L1556.58,2191.00 L1558.09,2191.41 L1559.60,2191.83 L1561.10,2192.23 L1562.61,2192.64 L1564.12,2193.05 L1565.63,2193.45 L1567.14,2193.85 L1568.65,2194.25 L1570.15,2194.64 L1571.66,2195.03 L1573.17,2195.42 L1574.68,2195.80 L1576.19,2196.18 L1577.69,2196.55 L1579.20,2196.91 L1580.71,2197.27 L1582.22,2197.62 L1583.73,2197.97 L1585.24,2198.31 L1586.74,2198.64 L1588.25,2198.96 L1589.76,2199.28 L1591.27,2199.60 L1592.78,2199.91 L1594.28,2200.23 L1595.79,2200.54 L1597.30,2200.86 L1598.81,2201.17 L1600.32,2201.47 L1601.83,2201.77 L1603.33,2202.07 L1604.84,2202.35 L1606.35,2202.64 L1607.86,2202.91 L1609.37,2203.18 L1610.87,2203.43 L1612.38,2203.68 L1613.89,2203.91 L1615.40,2204.14 L1616.91,2204.35 L1618.42,2204.55 L1619.92,2204.73 L1621.43,2204.91 L1622.94,2205.07 L1624.45,2205.24 L1625.96,2205.40 L1627.46,2205.55 L1628.97,2205.70 L1630.48,2205.85 L1631.99,2206.00 L1633.50,2206.14 L1635.01,2206.28 L1636.51,2206.42 L1638.02,2206.55 L1639.53,2206.68 L1641.04,2206.80 L1642.55,2206.92 L1644.05,2207.04 L1645.56,2207.16 L1647.07,2207.28 L1648.58,2207.39 L1650.09,2207.50 L1651.60,2207.60 L1653.10,2207.71 L1654.61,2207.81 L1656.12,2207.91 L1657.63,2208.00 L1659.14,2208.10 L1660.64,2208.19 L1662.15,2208.28 L1663.66,2208.36 L1665.17,2208.45 L1666.68,2208.53 L1668.19,2208.62 L1669.69,2208.70 L1671.20,2208.77 L1672.71,2208.85 L1674.22,2208.93 L1675.73,2209.00 L1677.23,2209.08 L1678.74,2209.15 L1680.25,2209.22 L1681.76,2209.30 L1683.27,2209.36 L1684.78,2209.43 L1686.28,2209.50 L1687.79,2209.57 L1689.30,2209.63 L1690.81,2209.70 L1692.32,2209.76 L1693.82,2209.82 L1695.33,2209.89 L1696.84,2209.95 L1698.35,2210.01 L1699.86,2210.06 L1701.37,2210.12 L1702.87,2210.18 L1704.38,2210.24 L1705.89,2210.29 L1707.40,2210.34 L1708.91,2210.40 L1710.41,2210.45 L1711.92,2210.50 L1713.43,2210.55 L1714.94,2210.60 L1716.45,2210.65 L1717.96,2210.70 L1719.46,2210.75 L1720.97,2210.80 L1722.48,2210.84 L1723.99,2210.89 L1725.50,2210.93 L1727.00,2210.98 L1728.51,2211.02 L1730.02,2211.07 L1731.53,2211.11 L1733.04,2211.15 L1734.55,2211.19 L1736.05,2211.24 L1737.56,2211.28 L1739.07,2211.32 L1740.58,2211.36 L1742.09,2211.41 L1743.59,2211.45 L1745.10,2211.49 L1746.61,2211.53 L1748.12,2211.57 L1749.63,2211.61 L1751.14,2211.65 L1752.64,2211.69 L1754.15,2211.73 L1755.66,2211.77 L1757.17,2211.81 L1758.68,2211.85 L1760.18,2211.89 L1761.69,2211.93 L1763.20,2211.96 L1764.71,2212.00 L1766.22,2212.03 L1767.73,2212.07 L1769.23,2212.10 L1770.74,2212.14 L1772.25,2212.17 L1773.76,2212.20 L1775.27,2212.23 L1776.77,2212.26 L1778.28,2212.29 L1779.79,2212.32 L1781.30,2212.35 L1782.81,2212.37 L1784.32,2212.40 L1785.82,2212.42 L1787.33,2212.45 L1788.84,2212.47 L1790.35,2212.49 L1791.86,2212.51 L1793.36,2212.53 L1794.87,2212.55 L1796.38,2212.57 L1797.89,2212.58 L1799.40,2212.59 L1800.91,2212.61 L1802.41,2212.62 L1803.92,2212.63 L1805.43,2212.65 L1806.94,2212.66 L1808.45,2212.67 L1809.95,2212.68 L1811.46,2212.69 L1812.97,2212.71 L1814.48,2212.72 L1815.99,2212.73 L1817.50,2212.74 L1819.00,2212.75 L1820.51,2212.77 L1822.02,2212.78 L1823.53,2212.79 L1825.04,2212.80 L1826.55,2212.81 L1828.05,2212.82 L1829.56,2212.83 L1831.07,2212.84 L1832.58,2212.85 L1834.09,2212.87 L1835.59,2212.88 L1837.10,2212.89 L1838.61,2212.90 L1840.12,2212.91 L1841.63,2212.92 L1843.14,2212.93 L1844.64,2212.94 L1846.15,2212.95 L1847.66,2212.96 L1849.17,2212.97 L1850.68,2212.98 L1852.18,2212.99 L1853.69,2212.99 L1855.20,2213.00 L1856.71,2213.01 L1858.22,2213.02 L1859.73,2213.03 L1861.23,2213.04 L1862.74,2213.05 L1864.25,2213.06 L1865.76,2213.06 L1867.27,2213.07 L1868.77,2213.08 L1870.28,2213.09 L1871.79,2213.10 L1873.30,2213.10 L1874.81,2213.11 L1876.32,2213.12 L1877.82,2213.13 L1879.33,2213.13 L1880.84,2213.14 L1882.35,2213.15 L1883.86,2213.15 L1885.36,2213.16 L1886.87,2213.17 L1888.38,2213.17 L1889.89,2213.18 L1891.40,2213.19 L1892.91,2213.19 L1894.41,2213.20 L1895.92,2213.20 L1897.43,2213.21 L1898.94,2213.21 L1900.45,2213.22 L1901.95,2213.22 L1903.46,2213.23 L1904.97,2213.23 L1906.48,2213.24 L1907.99,2213.24 L1909.50,2213.25 L1911.00,2213.25 L1912.51,2213.25 L1914.02,2213.26 L1915.53,2213.26 L1917.04,2213.27 L1918.54,2213.27 L1920.05,2213.27 L1921.56,2213.27 L1923.07,2213.28 L1924.58,2213.28 L1926.09,2213.28 L1927.59,2213.29 L1929.10,2213.29 L1930.61,2213.29 L1932.12,2213.29 L1933.63,2213.29 L1935.13,2213.29 L1936.64,2213.30 L1938.15,2213.30 L1939.66,2213.30 L1941.17,2213.30 L1942.68,2213.30 L1944.18,2213.30 L1945.69,2213.30 L1947.20,2213.30" fill="none" stroke="#0072bd" stroke-width="6.0" stroke-linejoin="round"/>
<path d="M1431.40,2170.70 L1432.91,2171.01 L1434.42,2171.32 L1435.92,2171.64 L1437.43,2171.96 L1438.94,2172.28 L1440.45,2172.60 L1441.96,2172.93 L1443.47,2173.25 L1444.97,2173.59 L1446.48,2173.92 L1447.99,2174.26 L1449.50,2174.60 L1451.01,2174.94 L1452.51,2175.28 L1454.02,2175.63 L1455.53,2175.98 L1457.04,2176.33 L1458.55,2176.68 L1460.06,2177.04 L1461.56,2177.40 L1463.07,2177.76 L1464.58,2178.13 L1466.09,2178.50 L1467.60,2178.87 L1469.10,2179.25 L1470.61,2179.63 L1472.12,2180.02 L1473.63,2180.41 L1475.14,2180.80 L1476.65,2181.19 L1478.15,2181.59 L1479.66,2181.98 L1481.17,2182.38 L1482.68,2182.78 L1484.19,2183.18 L1485.69,2183.59 L1487.20,2183.99 L1488.71,2184.39 L1490.22,2184.79 L1491.73,2185.20 L1493.24,2185.60 L1494.74,2186.00 L1496.25,2186.41 L1497.76,2186.82 L1499.27,2187.24 L1500.78,2187.66 L1502.28,2188.09 L1503.79,2188.52 L1505.30,2188.95 L1506.81,2189.38 L1508.32,2189.81 L1509.83,2190.23 L1511.33,2190.66 L1512.84,2191.08 L1514.35,2191.50 L1515.86,2191.91 L1517.37,2192.32 L1518.87,2192.72 L1520.38,2193.11 L1521.89,2193.49 L1523.40,2193.86 L1524.91,2194.22 L1526.42,2194.56 L1527.92,2194.91 L1529.43,2195.25 L1530.94,2195.58 L1532.45,2195.92 L1533.96,2196.24 L1535.46,2196.57 L1536.97,2196.89 L1538.48,2197.20 L1539.99,2197.51 L1541.50,2197.82 L1543.01,2198.12 L1544.51,2198.42 L1546.02,2198.71 L1547.53,2198.99 L1549.04,2199.27 L1550.55,2199.55 L1552.05,2199.81 L1553.56,2200.08 L1555.07,2200.33 L1556.58,2200.58 L1558.09,2200.83 L1559.60,2201.07 L1561.10,2201.31 L1562.61,2201.56 L1564.12,2201.80 L1565.63,2202.04 L1567.14,2202.28 L1568.65,2202.52 L1570.15,2202.75 L1571.66,2202.99 L1573.17,2203.22 L1574.68,2203.44 L1576.19,2203.67 L1577.69,2203.89 L1579.20,2204.11 L1580.71,2204.32 L1582.22,2204.53 L1583.73,2204.74 L1585.24,2204.94 L1586.74,2205.14 L1588.25,2205.33 L1589.76,2205.51 L1591.27,2205.69 L1592.78,2205.87 L1594.28,2206.03 L1595.79,2206.20 L1597.30,2206.35 L1598.81,2206.50 L1600.32,2206.64 L1601.83,2206.77 L1603.33,2206.89 L1604.84,2207.01 L1606.35,2207.12 L1607.86,2207.23 L1609.37,2207.34 L1610.87,2207.44 L1612.38,2207.54 L1613.89,2207.64 L1615.40,2207.74 L1616.91,2207.84 L1618.42,2207.93 L1619.92,2208.02 L1621.43,2208.11 L1622.94,2208.20 L1624.45,2208.29 L1625.96,2208.37 L1627.46,2208.45 L1628.97,2208.53 L1630.48,2208.61 L1631.99,2208.69 L1633.50,2208.77 L1635.01,2208.84 L1636.51,2208.91 L1638.02,2208.99 L1639.53,2209.06 L1641.04,2209.12 L1642.55,2209.19 L1644.05,2209.26 L1645.56,2209.32 L1647.07,2209.39 L1648.58,2209.45 L1650.09,2209.52 L1651.60,2209.58 L1653.10,2209.64 L1654.61,2209.70 L1656.12,2209.76 L1657.63,2209.82 L1659.14,2209.87 L1660.64,2209.93 L1662.15,2209.99 L1663.66,2210.04 L1665.17,2210.10 L1666.68,2210.16 L1668.19,2210.21 L1669.69,2210.27 L1671.20,2210.32 L1672.71,2210.38 L1674.22,2210.43 L1675.73,2210.49 L1677.23,2210.54 L1678.74,2210.60 L1680.25,2210.65 L1681.76,2210.71 L1683.27,2210.76 L1684.78,2210.82 L1686.28,2210.87 L1687.79,2210.93 L1689.30,2210.98 L1690.81,2211.04 L1692.32,2211.09 L1693.82,2211.14 L1695.33,2211.19 L1696.84,2211.25 L1698.35,2211.30 L1699.86,2211.35 L1701.37,2211.40 L1702.87,2211.45 L1704.38,2211.50 L1705.89,2211.55 L1707.40,2211.60 L1708.91,2211.64 L1710.41,2211.69 L1711.92,2211.73 L1713.43,2211.78 L1714.94,2211.82 L1716.45,2211.87 L1717.96,2211.91 L1719.46,2211.95 L1720.97,2211.99 L1722.48,2212.03 L1723.99,2212.06 L1725.50,2212.10 L1727.00,2212.14 L1728.51,2212.17 L1730.02,2212.20 L1731.53,2212.23 L1733.04,2212.26 L1734.55,2212.29 L1736.05,2212.32 L1737.56,2212.35 L1739.07,2212.37 L1740.58,2212.39 L1742.09,2212.41 L1743.59,2212.43 L1745.10,2212.45 L1746.61,2212.47 L1748.12,2212.48 L1749.63,2212.50 L1751.14,2212.51 L1752.64,2212.52 L1754.15,2212.53 L1755.66,2212.54 L1757.17,2212.56 L1758.68,2212.57 L1760.18,2212.58 L1761.69,2212.59 L1763.20,2212.60 L1764.71,2212.61 L1766.22,2212.62 L1767.73,2212.63 L1769.23,2212.65 L1770.74,2212.66 L1772.25,2212.67 L1773.76,2212.68 L1775.27,2212.69 L1776.77,2212.70 L1778.28,2212.71 L1779.79,2212.72 L1781.30,2212.73 L1782.81,2212.74 L1784.32,2212.75 L1785.82,2212.76 L1787.33,2212.77 L1788.84,2212.78 L1790.35,2212.79 L1791.86,2212.80 L1793.36,2212.81 L1794.87,2212.82 L1796.38,2212.83 L1797.89,2212.84 L1799.40,2212.84 L1800.91,2212.85 L1802.41,2212.86 L1803.92,2212.87 L1805.43,2212.88 L1806.94,2212.89 L1808.45,2212.90 L1809.95,2212.91 L1811.46,2212.91 L1812.97,2212.92 L1814.48,2212.93 L1815.99,2212.94 L1817.50,2212.95 L1819.00,2212.96 L1820.51,2212.96 L1822.02,2212.97 L1823.53,2212.98 L1825.04,2212.99 L1826.55,2212.99 L1828.05,2213.00 L1829.56,2213.01 L1831.07,2213.02 L1832.58,2213.02 L1834.09,2213.03 L1835.59,2213.04 L1837.10,2213.04 L1838.61,2213.05 L1840.12,2213.06 L1841.63,2213.07 L1843.14,2213.07 L1844.64,2213.08 L1846.15,2213.08 L1847.66,2213.09 L1849.17,2213.10 L1850.68,2213.10 L1852.18,2213.11 L1853.69,2213.12 L1855.20,2213.12 L1856.71,2213.13 L1858.22,2213.13 L1859.73,2213.14 L1861.23,2213.14 L1862.74,2213.15 L1864.25,2213.15 L1865.76,2213.16 L1867.27,2213.16 L1868.77,2213.17 L1870.28,2213.17 L1871.79,2213.18 L1873.30,2213.18 L1874.81,2213.19 L1876.32,2213.19 L1877.82,2213.20 L1879.33,2213.20 L1880.84,2213.21 L1882.35,2213.21 L1883.86,2213.21 L1885.36,2213.22 L1886.87,2213.22 L1888.38,2213.23 L1889.89,2213.23 L1891.40,2213.23 L1892.91,2213.24 L1894.41,2213.24 L1895.92,2213.24 L1897.43,2213.25 L1898.94,2213.25 L1900.45,2213.25 L1901.95,2213.26 L1903.46,2213.26 L1904.97,2213.26 L1906.48,2213.26 L1907.99,2213.27 L1909.50,2213.27 L1911.00,2213.27 L1912.51,2213.27 L1914.02,2213.28 L1915.53,2213.28 L1917.04,2213.28 L1918.54,2213.28 L1920.05,2213.28 L1921.56,2213.29 L1923.07,2213.29 L1924.58,2213.29 L1926.09,2213.29 L1927.59,2213.29 L1929.10,2213.29 L1930.61,2213.29 L1932.12,2213.30 L1933.63,2213.30 L1935.13,2213.30 L1936.64,2213.30 L1938.15,2213.30 L1939.66,2213.30 L1941.17,2213.30 L1942.68,2213.30 L1944.18,2213.30 L1945.69,2213.30 L1947.20,2213.30" fill="none" stroke="#d95319" stroke-width="6.0" stroke-linejoin="round"/>
<path d="M1431.40,2181.10 L1432.91,2181.55 L1434.42,2182.00 L1435.92,2182.44 L1437.43,2182.88 L1438.94,2183.32 L1440.45,2183.75 L1441.96,2184.18 L1443.47,2184.61 L1444.97,2185.03 L1446.48,2185.45 L1447.99,2185.86 L1449.50,2186.27 L1451.01,2186.68 L1452.51,2187.08 L1454.02,2187.48 L1455.53,2187.87 L1457.04,2188.26 L1458.55,2188.64 L1460.06,2189.02 L1461.56,2189.39 L1463.07,2189.76 L1464.58,2190.13 L1466.09,2190.49 L1467.60,2190.85 L1469.10,2191.21 L1470.61,2191.56 L1472.12,2191.91 L1473.63,2192.26 L1475.14,2192.60 L1476.65,2192.94 L1478.15,2193.27 L1479.66,2193.61 L1481.17,2193.94 L1482.68,2194.26 L1484.19,2194.58 L1485.69,2194.90 L1487.20,2195.22 L1488.71,2195.53 L1490.22,2195.84 L1491.73,2196.15 L1493.24,2196.45 L1494.74,2196.75 L1496.25,2197.05 L1497.76,2197.35 L1499.27,2197.64 L1500.78,2197.94 L1502.28,2198.24 L1503.79,2198.53 L1505.30,2198.82 L1506.81,2199.11 L1508.32,2199.40 L1509.83,2199.68 L1511.33,2199.95 L1512.84,2200.23 L1514.35,2200.49 L1515.86,2200.76 L1517.37,2201.01 L1518.87,2201.26 L1520.38,2201.50 L1521.89,2201.74 L1523.40,2201.97 L1524.91,2202.19 L1526.42,2202.40 L1527.92,2202.61 L1529.43,2202.82 L1530.94,2203.02 L1532.45,2203.23 L1533.96,2203.43 L1535.46,2203.63 L1536.97,2203.83 L1538.48,2204.02 L1539.99,2204.22 L1541.50,2204.41 L1543.01,2204.60 L1544.51,2204.78 L1546.02,2204.96 L1547.53,2205.14 L1549.04,2205.32 L1550.55,2205.49 L1552.05,2205.66 L1553.56,2205.82 L1555.07,2205.99 L1556.58,2206.15 L1558.09,2206.30 L1559.60,2206.45 L1561.10,2206.60 L1562.61,2206.74 L1564.12,2206.88 L1565.63,2207.01 L1567.14,2207.14 L1568.65,2207.26 L1570.15,2207.38 L1571.66,2207.50 L1573.17,2207.60 L1574.68,2207.71 L1576.19,2207.82 L1577.69,2207.92 L1579.20,2208.02 L1580.71,2208.12 L1582.22,2208.22 L1583.73,2208.32 L1585.24,2208.41 L1586.74,2208.51 L1588.25,2208.60 L1589.76,2208.69 L1591.27,2208.78 L1592.78,2208.87 L1594.28,2208.96 L1595.79,2209.04 L1597.30,2209.13 L1598.81,2209.21 L1600.32,2209.29 L1601.83,2209.37 L1603.33,2209.45 L1604.84,2209.52 L1606.35,2209.60 L1607.86,2209.67 L1609.37,2209.75 L1610.87,2209.82 L1612.38,2209.89 L1613.89,2209.96 L1615.40,2210.02 L1616.91,2210.09 L1618.42,2210.15 L1619.92,2210.21 L1621.43,2210.27 L1622.94,2210.33 L1624.45,2210.39 L1625.96,2210.45 L1627.46,2210.50 L1628.97,2210.56 L1630.48,2210.61 L1631.99,2210.66 L1633.50,2210.71 L1635.01,2210.76 L1636.51,2210.81 L1638.02,2210.85 L1639.53,2210.90 L1641.04,2210.94 L1642.55,2210.99 L1644.05,2211.04 L1645.56,2211.08 L1647.07,2211.13 L1648.58,2211.17 L1650.09,2211.21 L1651.60,2211.26 L1653.10,2211.30 L1654.61,2211.35 L1656.12,2211.39 L1657.63,2211.43 L1659.14,2211.47 L1660.64,2211.51 L1662.15,2211.56 L1663.66,2211.60 L1665.17,2211.64 L1666.68,2211.68 L1668.19,2211.71 L1669.69,2211.75 L1671.20,2211.79 L1672.71,2211.83 L1674.22,2211.87 L1675.73,2211.90 L1677.23,2211.94 L1678.74,2211.97 L1680.25,2212.01 L1681.76,2212.04 L1683.27,2212.07 L1684.78,2212.10 L1686.28,2212.14 L1687.79,2212.17 L1689.30,2212.20 L1690.81,2212.22 L1692.32,2212.25 L1693.82,2212.28 L1695.33,2212.31 L1696.84,2212.33 L1698.35,2212.36 L1699.86,2212.38 L1701.37,2212.40 L1702.87,2212.42 L1704.38,2212.45 L1705.89,2212.47 L1707.40,2212.48 L1708.91,2212.50 L1710.41,2212.52 L1711.92,2212.53 L1713.43,2212.55 L1714.94,2212.56 L1716.45,2212.58 L1717.96,2212.59 L1719.46,2212.60 L1720.97,2212.61 L1722.48,2212.62 L1723.99,2212.62 L1725.50,2212.63 L1727.00,2212.64 L1728.51,2212.65 L1730.02,2212.66 L1731.53,2212.67 L1733.04,2212.68 L1734.55,2212.69 L1736.05,2212.69 L1737.56,2212.70 L1739.07,2212.71 L1740.58,2212.72 L1742.09,2212.73 L1743.59,2212.74 L1745.10,2212.74 L1746.61,2212.75 L1748.12,2212.76 L1749.63,2212.77 L1751.14,2212.78 L1752.64,2212.79 L1754.15,2212.79 L1755.66,2212.80 L1757.17,2212.81 L1758.68,2212.82 L1760.18,2212.82 L1761.69,2212.83 L1763.20,2212.84 L1764.71,2212.85 L1766.22,2212.85 L1767.73,2212.86 L1769.23,2212.87 L1770.74,2212.88 L1772.25,2212.88 L1773.76,2212.89 L1775.27,2212.90 L1776.77,2212.90 L1778.28,2212.91 L1779.79,2212.92 L1781.30,2212.92 L1782.81,2212.93 L1784.32,2212.94 L1785.82,2212.94 L1787.33,2212.95 L1788.84,2212.96 L1790.35,2212.96 L1791.86,2212.97 L1793.36,2212.98 L1794.87,2212.98 L1796.38,2212.99 L1797.89,2213.00 L1799.40,2213.00 L1800.91,2213.01 L1802.41,2213.01 L1803.92,2213.02 L1805.43,2213.03 L1806.94,2213.03 L1808.45,2213.04 L1809.95,2213.04 L1811.46,2213.05 L1812.97,2213.05 L1814.48,2213.06 L1815.99,2213.06 L1817.50,2213.07 L1819.00,2213.07 L1820.51,2213.08 L1822.02,2213.09 L1823.53,2213.09 L1825.04,2213.10 L1826.55,2213.10 L1828.05,2213.11 L1829.56,2213.11 L1831.07,2213.12 L1832.58,2213.12 L1834.09,2213.12 L1835.59,2213.13 L1837.10,2213.13 L1838.61,2213.14 L1840.12,2213.14 L1841.63,2213.15 L1843.14,2213.15 L1844.64,2213.16 L1846.15,2213.16 L1847.66,2213.16 L1849.17,2213.17 L1850.68,2213.17 L1852.18,2213.18 L1853.69,2213.18 L1855.20,2213.18 L1856.71,2213.19 L1858.22,2213.19 L1859.73,2213.19 L1861.23,2213.20 L1862.74,2213.20 L1864.25,2213.21 L1865.76,2213.21 L1867.27,2213.21 L1868.77,2213.22 L1870.28,2213.22 L1871.79,2213.22 L1873.30,2213.22 L1874.81,2213.23 L1876.32,2213.23 L1877.82,2213.23 L1879.33,2213.24 L1880.84,2213.24 L1882.35,2213.24 L1883.86,2213.24 L1885.36,2213.25 L1886.87,2213.25 L1888.38,2213.25 L1889.89,2213.25 L1891.40,2213.26 L1892.91,2213.26 L1894.41,2213.26 L1895.92,2213.26 L1897.43,2213.27 L1898.94,2213.27 L1900.45,2213.27 L1901.95,2213.27 L1903.46,2213.27 L1904.97,2213.28 L1906.48,2213.28 L1907.99,2213.28 L1909.50,2213.28 L1911.00,2213.28 L1912.51,2213.28 L1914.02,2213.28 L1915.53,2213.29 L1917.04,2213.29 L1918.54,2213.29 L1920.05,2213.29 L1921.56,2213.29 L1923.07,2213.29 L1924.58,2213.29 L1926.09,2213.29 L1927.59,2213.29 L1929.10,2213.30 L1930.61,2213.30 L1932.12,2213.30 L1933.63,2213.30 L1935.13,2213.30 L1936.64,2213.30 L1938.15,2213.30 L1939.66,2213.30 L1941.17,2213.30 L1942.68,2213.30 L1944.18,2213.30 L1945.69,2213.30 L1947.20,2213.30" fill="none" stroke="#edb120" stroke-width="6.0" stroke-linejoin="round"/>
<path d="M1431.40,2196.00 L1432.91,2196.40 L1434.42,2196.80 L1435.92,2197.19 L1437.43,2197.58 L1438.94,2197.96 L1440.45,2198.33 L1441.96,2198.70 L1443.47,2199.06 L1444.97,2199.41 L1446.48,2199.76 L1447.99,2200.10 L1449.50,2200.43 L1451.01,2200.75 L1452.51,2201.07 L1454.02,2201.37 L1455.53,2201.67 L1457.04,2201.96 L1458.55,2202.23 L1460.06,2202.50 L1461.56,2202.76 L1463.07,2203.01 L1464.58,2203.25 L1466.09,2203.49 L1467.60,2203.73 L1469.10,2203.96 L1470.61,2204.18 L1472.12,2204.40 L1473.63,2204.62 L1475.14,2204.83 L1476.65,2205.03 L1478.15,2205.23 L1479.66,2205.43 L1481.17,2205.62 L1482.68,2205.80 L1484.19,2205.98 L1485.69,2206.15 L1487.20,2206.32 L1488.71,2206.48 L1490.22,2206.64 L1491.73,2206.79 L1493.24,2206.93 L1494.74,2207.07 L1496.25,2207.20 L1497.76,2207.34 L1499.27,2207.47 L1500.78,2207.60 L1502.28,2207.72 L1503.79,2207.85 L1505.30,2207.97 L1506.81,2208.10 L1508.32,2208.22 L1509.83,2208.33 L1511.33,2208.45 L1512.84,2208.56 L1514.35,2208.67 L1515.86,2208.78 L1517.37,2208.89 L1518.87,2208.99 L1520.38,2209.09 L1521.89,2209.19 L1523.40,2209.29 L1524.91,2209.38 L1526.42,2209.47 L1527.92,2209.56 L1529.43,2209.64 L1530.94,2209.72 L1532.45,2209.80 L1533.96,2209.87 L1535.46,2209.95 L1536.97,2210.01 L1538.48,2210.08 L1539.99,2210.14 L1541.50,2210.20 L1543.01,2210.26 L1544.51,2210.31 L1546.02,2210.37 L1547.53,2210.42 L1549.04,2210.47 L1550.55,2210.52 L1552.05,2210.57 L1553.56,2210.62 L1555.07,2210.67 L1556.58,2210.71 L1558.09,2210.76 L1559.60,2210.80 L1561.10,2210.85 L1562.61,2210.89 L1564.12,2210.93 L1565.63,2210.98 L1567.14,2211.02 L1568.65,2211.06 L1570.15,2211.09 L1571.66,2211.13 L1573.17,2211.17 L1574.68,2211.21 L1576.19,2211.24 L1577.69,2211.28 L1579.20,2211.31 L1580.71,2211.35 L1582.22,2211.38 L1583.73,2211.41 L1585.24,2211.44 L1586.74,2211.47 L1588.25,2211.50 L1589.76,2211.53 L1591.27,2211.56 L1592.78,2211.59 L1594.28,2211.62 L1595.79,2211.65 L1597.30,2211.67 L1598.81,2211.70 L1600.32,2211.73 L1601.83,2211.75 L1603.33,2211.78 L1604.84,2211.80 L1606.35,2211.83 L1607.86,2211.85 L1609.37,2211.88 L1610.87,2211.90 L1612.38,2211.92 L1613.89,2211.95 L1615.40,2211.97 L1616.91,2212.00 L1618.42,2212.02 L1619.92,2212.04 L1621.43,2212.07 L1622.94,2212.09 L1624.45,2212.11 L1625.96,2212.14 L1627.46,2212.16 L1628.97,2212.18 L1630.48,2212.20 L1631.99,2212.23 L1633.50,2212.25 L1635.01,2212.27 L1636.51,2212.29 L1638.02,2212.31 L1639.53,2212.34 L1641.04,2212.36 L1642.55,2212.38 L1644.05,2212.40 L1645.56,2212.42 L1647.07,2212.44 L1648.58,2212.46 L1650.09,2212.48 L1651.60,2212.50 L1653.10,2212.52 L1654.61,2212.53 L1656.12,2212.55 L1657.63,2212.57 L1659.14,2212.59 L1660.64,2212.60 L1662.15,2212.62 L1663.66,2212.64 L1665.17,2212.65 L1666.68,2212.67 L1668.19,2212.68 L1669.69,2212.70 L1671.20,2212.71 L1672.71,2212.73 L1674.22,2212.74 L1675.73,2212.75 L1677.23,2212.77 L1678.74,2212.78 L1680.25,2212.79 L1681.76,2212.80 L1683.27,2212.81 L1684.78,2212.82 L1686.28,2212.83 L1687.79,2212.84 L1689.30,2212.85 L1690.81,2212.86 L1692.32,2212.87 L1693.82,2212.88 L1695.33,2212.88 L1696.84,2212.89 L1698.35,2212.89 L1699.86,2212.90 L1701.37,2212.90 L1702.87,2212.91 L1704.38,2212.91 L1705.89,2212.92 L1707.40,2212.92 L1708.91,2212.93 L1710.41,2212.93 L1711.92,2212.94 L1713.43,2212.94 L1714.94,2212.95 L1716.45,2212.95 L1717.96,2212.96 L1719.46,2212.96 L1720.97,2212.96 L1722.48,2212.97 L1723.99,2212.97 L1725.50,2212.98 L1727.00,2212.98 L1728.51,2212.99 L1730.02,2212.99 L1731.53,2212.99 L1733.04,2213.00 L1734.55,2213.00 L1736.05,2213.01 L1737.56,2213.01 L1739.07,2213.02 L1740.58,2213.02 L1742.09,2213.02 L1743.59,2213.03 L1745.10,2213.03 L1746.61,2213.04 L1748.12,2213.04 L1749.63,2213.04 L1751.14,2213.05 L1752.64,2213.05 L1754.15,2213.05 L1755.66,2213.06 L1757.17,2213.06 L1758.68,2213.07 L1760.18,2213.07 L1761.69,2213.07 L1763.20,2213.08 L1764.71,2213.08 L1766.22,2213.08 L1767.73,2213.09 L1769.23,2213.09 L1770.74,2213.09 L1772.25,2213.10 L1773.76,2213.10 L1775.27,2213.10 L1776.77,2213.11 L1778.28,2213.11 L1779.79,2213.12 L1781.30,2213.12 L1782.81,2213.12 L1784.32,2213.12 L1785.82,2213.13 L1787.33,2213.13 L1788.84,2213.13 L1790.35,2213.14 L1791.86,2213.14 L1793.36,2213.14 L1794.87,2213.15 L1796.38,2213.15 L1797.89,2213.15 L1799.40,2213.16 L1800.91,2213.16 L1802.41,2213.16 L1803.92,2213.16 L1805.43,2213.17 L1806.94,2213.17 L1808.45,2213.17 L1809.95,2213.18 L1811.46,2213.18 L1812.97,2213.18 L1814.48,2213.18 L1815.99,2213.19 L1817.50,2213.19 L1819.00,2213.19 L1820.51,2213.19 L1822.02,2213.20 L1823.53,2213.20 L1825.04,2213.20 L1826.55,2213.20 L1828.05,2213.21 L1829.56,2213.21 L1831.07,2213.21 L1832.58,2213.21 L1834.09,2213.22 L1835.59,2213.22 L1837.10,2213.22 L1838.61,2213.22 L1840.12,2213.22 L1841.63,2213.23 L1843.14,2213.23 L1844.64,2213.23 L1846.15,2213.23 L1847.66,2213.23 L1849.17,2213.24 L1850.68,2213.24 L1852.18,2213.24 L1853.69,2213.24 L1855.20,2213.24 L1856.71,2213.25 L1858.22,2213.25 L1859.73,2213.25 L1861.23,2213.25 L1862.74,2213.25 L1864.25,2213.25 L1865.76,2213.26 L1867.27,2213.26 L1868.77,2213.26 L1870.28,2213.26 L1871.79,2213.26 L1873.30,2213.26 L1874.81,2213.27 L1876.32,2213.27 L1877.82,2213.27 L1879.33,2213.27 L1880.84,2213.27 L1882.35,2213.27 L1883.86,2213.27 L1885.36,2213.27 L1886.87,2213.28 L1888.38,2213.28 L1889.89,2213.28 L1891.40,2213.28 L1892.91,2213.28 L1894.41,2213.28 L1895.92,2213.28 L1897.43,2213.28 L1898.94,2213.28 L1900.45,2213.29 L1901.95,2213.29 L1903.46,2213.29 L1904.97,2213.29 L1906.48,2213.29 L1907.99,2213.29 L1909.50,2213.29 L1911.00,2213.29 L1912.51,2213.29 L1914.02,2213.29 L1915.53,2213.29 L1917.04,2213.29 L1918.54,2213.29 L1920.05,2213.30 L1921.56,2213.30 L1923.07,2213.30 L1924.58,2213.30 L1926.09,2213.30 L1927.59,2213.30 L1929.10,2213.30 L1930.61,2213.30 L1932.12,2213.30 L1933.63,2213.30 L1935.13,2213.30 L1936.64,2213.30 L1938.15,2213.30 L1939.66,2213.30 L1941.17,2213.30 L1942.68,2213.30 L1944.18,2213.30 L1945.69,2213.30 L1947.20,2213.30" fill="none" stroke="#7e2f8e" stroke-width="6.0" stroke-linejoin="round"/>
<path d="M1431.40,2225.00 L1432.91,2224.55 L1434.42,2224.11 L1435.92,2223.67 L1437.43,2223.25 L1438.94,2222.83 L1440.45,2222.43 L1441.96,2222.04 L1443.47,2221.67 L1444.97,2221.31 L1446.48,2220.96 L1447.99,2220.64 L1449.50,2220.33 L1451.01,2220.04 L1452.51,2219.77 L1454.02,2219.51 L1455.53,2219.26 L1457.04,2219.02 L1458.55,2218.79 L1460.06,2218.56 L1461.56,2218.34 L1463.07,2218.12 L1464.58,2217.92 L1466.09,2217.72 L1467.60,2217.53 L1469.10,2217.36 L1470.61,2217.19 L1472.12,2217.03 L1473.63,2216.88 L1475.14,2216.74 L1476.65,2216.62 L1478.15,2216.50 L1479.66,2216.40 L1481.17,2216.29 L1482.68,2216.19 L1484.19,2216.09 L1485.69,2215.99 L1487.20,2215.90 L1488.71,2215.80 L1490.22,2215.71 L1491.73,2215.62 L1493.24,2215.54 L1494.74,2215.45 L1496.25,2215.37 L1497.76,2215.29 L1499.27,2215.22 L1500.78,2215.14 L1502.28,2215.07 L1503.79,2215.00 L1505.30,2214.93 L1506.81,2214.87 L1508.32,2214.81 L1509.83,2214.75 L1511.33,2214.69 L1512.84,2214.64 L1514.35,2214.59 L1515.86,2214.54 L1517.37,2214.50 L1518.87,2214.46 L1520.38,2214.42 L1521.89,2214.38 L1523.40,2214.35 L1524.91,2214.31 L1526.42,2214.29 L1527.92,2214.26 L1529.43,2214.23 L1530.94,2214.21 L1532.45,2214.18 L1533.96,2214.15 L1535.46,2214.13 L1536.97,2214.10 L1538.48,2214.08 L1539.99,2214.05 L1541.50,2214.03 L1543.01,2214.01 L1544.51,2213.98 L1546.02,2213.96 L1547.53,2213.94 L1549.04,2213.92 L1550.55,2213.90 L1552.05,2213.88 L1553.56,2213.86 L1555.07,2213.84 L1556.58,2213.82 L1558.09,2213.80 L1559.60,2213.78 L1561.10,2213.76 L1562.61,2213.75 L1564.12,2213.73 L1565.63,2213.71 L1567.14,2213.70 L1568.65,2213.68 L1570.15,2213.67 L1571.66,2213.65 L1573.17,2213.64 L1574.68,2213.63 L1576.19,2213.61 L1577.69,2213.60 L1579.20,2213.59 L1580.71,2213.58 L1582.22,2213.57 L1583.73,2213.56 L1585.24,2213.55 L1586.74,2213.54 L1588.25,2213.54 L1589.76,2213.53 L1591.27,2213.52 L1592.78,2213.52 L1594.28,2213.51 L1595.79,2213.51 L1597.30,2213.50 L1598.81,2213.50 L1600.32,2213.50 L1601.83,2213.50 L1603.33,2213.50 L1604.84,2213.49 L1606.35,2213.49 L1607.86,2213.49 L1609.37,2213.49 L1610.87,2213.49 L1612.38,2213.48 L1613.89,2213.48 L1615.40,2213.48 L1616.91,2213.48 L1618.42,2213.48 L1619.92,2213.47 L1621.43,2213.47 L1622.94,2213.47 L1624.45,2213.47 L1625.96,2213.47 L1627.46,2213.46 L1628.97,2213.46 L1630.48,2213.46 L1631.99,2213.46 L1633.50,2213.46 L1635.01,2213.46 L1636.51,2213.45 L1638.02,2213.45 L1639.53,2213.45 L1641.04,2213.45 L1642.55,2213.45 L1644.05,2213.45 L1645.56,2213.44 L1647.07,2213.44 L1648.58,2213.44 L1650.09,2213.44 L1651.60,2213.44 L1653.10,2213.44 L1654.61,2213.43 L1656.12,2213.43 L1657.63,2213.43 L1659.14,2213.43 L1660.64,2213.43 L1662.15,2213.43 L1663.66,2213.42 L1665.17,2213.42 L1666.68,2213.42 L1668.19,2213.42 L1669.69,2213.42 L1671.20,2213.42 L1672.71,2213.42 L1674.22,2213.41 L1675.73,2213.41 L1677.23,2213.41 L1678.74,2213.41 L1680.25,2213.41 L1681.76,2213.41 L1683.27,2213.41 L1684.78,2213.40 L1686.28,2213.40 L1687.79,2213.40 L1689.30,2213.40 L1690.81,2213.40 L1692.32,2213.40 L1693.82,2213.40 L1695.33,2213.39 L1696.84,2213.39 L1698.35,2213.39 L1699.86,2213.39 L1701.37,2213.39 L1702.87,2213.39 L1704.38,2213.39 L1705.89,2213.39 L1707.40,2213.38 L1708.91,2213.38 L1710.41,2213.38 L1711.92,2213.38 L1713.43,2213.38 L1714.94,2213.38 L1716.45,2213.38 L1717.96,2213.38 L1719.46,2213.38 L1720.97,2213.37 L1722.48,2213.37 L1723.99,2213.37 L1725.50,2213.37 L1727.00,2213.37 L1728.51,2213.37 L1730.02,2213.37 L1731.53,2213.37 L1733.04,2213.37 L1734.55,2213.36 L1736.05,2213.36 L1737.56,2213.36 L1739.07,2213.36 L1740.58,2213.36 L1742.09,2213.36 L1743.59,2213.36 L1745.10,2213.36 L1746.61,2213.36 L1748.12,2213.36 L1749.63,2213.35 L1751.14,2213.35 L1752.64,2213.35 L1754.15,2213.35 L1755.66,2213.35 L1757.17,2213.35 L1758.68,2213.35 L1760.18,2213.35 L1761.69,2213.35 L1763.20,2213.35 L1764.71,2213.35 L1766.22,2213.35 L1767.73,2213.34 L1769.23,2213.34 L1770.74,2213.34 L1772.25,2213.34 L1773.76,2213.34 L1775.27,2213.34 L1776.77,2213.34 L1778.28,2213.34 L1779.79,2213.34 L1781.30,2213.34 L1782.81,2213.34 L1784.32,2213.34 L1785.82,2213.33 L1787.33,2213.33 L1788.84,2213.33 L1790.35,2213.33 L1791.86,2213.33 L1793.36,2213.33 L1794.87,2213.33 L1796.38,2213.33 L1797.89,2213.33 L1799.40,2213.33 L1800.91,2213.33 L1802.41,2213.33 L1803.92,2213.33 L1805.43,2213.33 L1806.94,2213.33 L1808.45,2213.33 L1809.95,2213.32 L1811.46,2213.32 L1812.97,2213.32 L1814.48,2213.32 L1815.99,2213.32 L1817.50,2213.32 L1819.00,2213.32 L1820.51,2213.32 L1822.02,2213.32 L1823.53,2213.32 L1825.04,2213.32 L1826.55,2213.32 L1828.05,2213.32 L1829.56,2213.32 L1831.07,2213.32 L1832.58,2213.32 L1834.09,2213.32 L1835.59,2213.32 L1837.10,2213.32 L1838.61,2213.31 L1840.12,2213.31 L1841.63,2213.31 L1843.14,2213.31 L1844.64,2213.31 L1846.15,2213.31 L1847.66,2213.31 L1849.17,2213.31 L1850.68,2213.31 L1852.18,2213.31 L1853.69,2213.31 L1855.20,2213.31 L1856.71,2213.31 L1858.22,2213.31 L1859.73,2213.31 L1861.23,2213.31 L1862.74,2213.31 L1864.25,2213.31 L1865.76,2213.31 L1867.27,2213.31 L1868.77,2213.31 L1870.28,2213.31 L1871.79,2213.31 L1873.30,2213.31 L1874.81,2213.31 L1876.32,2213.31 L1877.82,2213.31 L1879.33,2213.31 L1880.84,2213.31 L1882.35,2213.30 L1883.86,2213.30 L1885.36,2213.30 L1886.87,2213.30 L1888.38,2213.30 L1889.89,2213.30 L1891.40,2213.30 L1892.91,2213.30 L1894.41,2213.30 L1895.92,2213.30 L1897.43,2213.30 L1898.94,2213.30 L1900.45,2213.30 L1901.95,2213.30 L1903.46,2213.30 L1904.97,2213.30 L1906.48,2213.30 L1907.99,2213.30 L1909.50,2213.30 L1911.00,2213.30 L1912.51,2213.30 L1914.02,2213.30 L1915.53,2213.30 L1917.04,2213.30 L1918.54,2213.30 L1920.05,2213.30 L1921.56,2213.30 L1923.07,2213.30 L1924.58,2213.30 L1926.09,2213.30 L1927.59,2213.30 L1929.10,2213.30 L1930.61,2213.30 L1932.12,2213.30 L1933.63,2213.30 L1935.13,2213.30 L1936.64,2213.30 L1938.15,2213.30 L1939.66,2213.30 L1941.17,2213.30 L1942.68,2213.30 L1944.18,2213.30 L1945.69,2213.30 L1947.20,2213.30" fill="none" stroke="#77ac30" stroke-width="6.0" stroke-linejoin="round"/>
<path d="M1431.40,2305.00 L1432.91,2289.22 L1434.42,2279.34 L1435.92,2273.30 L1437.43,2268.64 L1438.94,2265.00 L1440.45,2262.02 L1441.96,2259.38 L1443.47,2257.00 L1444.97,2254.84 L1446.48,2252.90 L1447.99,2251.14 L1449.50,2249.56 L1451.01,2248.12 L1452.51,2246.82 L1454.02,2245.61 L1455.53,2244.45 L1457.04,2243.35 L1458.55,2242.29 L1460.06,2241.29 L1461.56,2240.33 L1463.07,2239.41 L1464.58,2238.54 L1466.09,2237.71 L1467.60,2236.92 L1469.10,2236.16 L1470.61,2235.45 L1472.12,2234.76 L1473.63,2234.11 L1475.14,2233.48 L1476.65,2232.89 L1478.15,2232.32 L1479.66,2231.77 L1481.17,2231.23 L1482.68,2230.71 L1484.19,2230.21 L1485.69,2229.72 L1487.20,2229.24 L1488.71,2228.78 L1490.22,2228.33 L1491.73,2227.89 L1493.24,2227.47 L1494.74,2227.07 L1496.25,2226.68 L1497.76,2226.30 L1499.27,2225.94 L1500.78,2225.59 L1502.28,2225.26 L1503.79,2224.94 L1505.30,2224.63 L1506.81,2224.34 L1508.32,2224.06 L1509.83,2223.80 L1511.33,2223.54 L1512.84,2223.29 L1514.35,2223.05 L1515.86,2222.81 L1517.37,2222.57 L1518.87,2222.35 L1520.38,2222.12 L1521.89,2221.90 L1523.40,2221.69 L1524.91,2221.48 L1526.42,2221.27 L1527.92,2221.07 L1529.43,2220.88 L1530.94,2220.69 L1532.45,2220.50 L1533.96,2220.32 L1535.46,2220.15 L1536.97,2219.97 L1538.48,2219.81 L1539.99,2219.64 L1541.50,2219.49 L1543.01,2219.33 L1544.51,2219.18 L1546.02,2219.04 L1547.53,2218.90 L1549.04,2218.76 L1550.55,2218.63 L1552.05,2218.51 L1553.56,2218.38 L1555.07,2218.27 L1556.58,2218.15 L1558.09,2218.04 L1559.60,2217.93 L1561.10,2217.83 L1562.61,2217.72 L1564.12,2217.62 L1565.63,2217.51 L1567.14,2217.41 L1568.65,2217.31 L1570.15,2217.21 L1571.66,2217.12 L1573.17,2217.02 L1574.68,2216.93 L1576.19,2216.83 L1577.69,2216.74 L1579.20,2216.65 L1580.71,2216.56 L1582.22,2216.48 L1583.73,2216.39 L1585.24,2216.31 L1586.74,2216.23 L1588.25,2216.15 L1589.76,2216.07 L1591.27,2215.99 L1592.78,2215.92 L1594.28,2215.85 L1595.79,2215.78 L1597.30,2215.71 L1598.81,2215.64 L1600.32,2215.58 L1601.83,2215.51 L1603.33,2215.45 L1604.84,2215.39 L1606.35,2215.33 L1607.86,2215.28 L1609.37,2215.23 L1610.87,2215.17 L1612.38,2215.13 L1613.89,2215.08 L1615.40,2215.03 L1616.91,2214.99 L1618.42,2214.95 L1619.92,2214.91 L1621.43,2214.88 L1622.94,2214.84 L1624.45,2214.81 L1625.96,2214.77 L1627.46,2214.74 L1628.97,2214.70 L1630.48,2214.67 L1631.99,2214.64 L1633.50,2214.61 L1635.01,2214.57 L1636.51,2214.54 L1638.02,2214.51 L1639.53,2214.48 L1641.04,2214.45 L1642.55,2214.42 L1644.05,2214.39 L1645.56,2214.36 L1647.07,2214.34 L1648.58,2214.31 L1650.09,2214.28 L1651.60,2214.25 L1653.10,2214.23 L1654.61,2214.20 L1656.12,2214.18 L1657.63,2214.15 L1659.14,2214.13 L1660.64,2214.11 L1662.15,2214.08 L1663.66,2214.06 L1665.17,2214.04 L1666.68,2214.02 L1668.19,2214.00 L1669.69,2213.98 L1671.20,2213.96 L1672.71,2213.94 L1674.22,2213.92 L1675.73,2213.90 L1677.23,2213.88 L1678.74,2213.87 L1680.25,2213.85 L1681.76,2213.84 L1683.27,2213.82 L1684.78,2213.81 L1686.28,2213.79 L1687.79,2213.78 L1689.30,2213.77 L1690.81,2213.76 L1692.32,2213.74 L1693.82,2213.73 L1695.33,2213.72 L1696.84,2213.71 L1698.35,2213.71 L1699.86,2213.70 L1701.37,2213.69 L1702.87,2213.68 L1704.38,2213.68 L1705.89,2213.67 L1707.40,2213.66 L1708.91,2213.65 L1710.41,2213.65 L1711.92,2213.64 L1713.43,2213.63 L1714.94,2213.63 L1716.45,2213.62 L1717.96,2213.61 L1719.46,2213.61 L1720.97,2213.60 L1722.48,2213.59 L1723.99,2213.59 L1725.50,2213.58 L1727.00,2213.58 L1728.51,2213.57 L1730.02,2213.57 L1731.53,2213.56 L1733.04,2213.55 L1734.55,2213.55 L1736.05,2213.54 L1737.56,2213.54 L1739.07,2213.53 L1740.58,2213.53 L1742.09,2213.52 L1743.59,2213.52 L1745.10,2213.51 L1746.61,2213.51 L1748.12,2213.50 L1749.63,2213.50 L1751.14,2213.50 L1752.64,2213.49 L1754.15,2213.49 L1755.66,2213.48 L1757.17,2213.48 L1758.68,2213.48 L1760.18,2213.47 L1761.69,2213.47 L1763.20,2213.46 L1764.71,2213.46 L1766.22,2213.46 L1767.73,2213.45 L1769.23,2213.45 L1770.74,2213.45 L1772.25,2213.44 L1773.76,2213.44 L1775.27,2213.44 L1776.77,2213.44 L1778.28,2213.43 L1779.79,2213.43 L1781.30,2213.43 L1782.81,2213.42 L1784.32,2213.42 L1785.82,2213.42 L1787.33,2213.42 L1788.84,2213.41 L1790.35,2213.41 L1791.86,2213.41 L1793.36,2213.41 L1794.87,2213.41 L1796.38,2213.40 L1797.89,2213.40 L1799.40,2213.40 L1800.91,2213.40 L1802.41,2213.40 L1803.92,2213.40 L1805.43,2213.39 L1806.94,2213.39 L1808.45,2213.39 L1809.95,2213.39 L1811.46,2213.39 L1812.97,2213.39 L1814.48,2213.38 L1815.99,2213.38 L1817.50,2213.38 L1819.00,2213.38 L1820.51,2213.38 L1822.02,2213.38 L1823.53,2213.37 L1825.04,2213.37 L1826.55,2213.37 L1828.05,2213.37 L1829.56,2213.37 L1831.07,2213.37 L1832.58,2213.36 L1834.09,2213.36 L1835.59,2213.36 L1837.10,2213.36 L1838.61,2213.36 L1840.12,2213.36 L1841.63,2213.36 L1843.14,2213.35 L1844.64,2213.35 L1846.15,2213.35 L1847.66,2213.35 L1849.17,2213.35 L1850.68,2213.35 L1852.18,2213.35 L1853.69,2213.34 L1855.20,2213.34 L1856.71,2213.34 L1858.22,2213.34 L1859.73,2213.34 L1861.23,2213.34 L1862.74,2213.34 L1864.25,2213.34 L1865.76,2213.33 L1867.27,2213.33 L1868.77,2213.33 L1870.28,2213.33 L1871.79,2213.33 L1873.30,2213.33 L1874.81,2213.33 L1876.32,2213.33 L1877.82,2213.33 L1879.33,2213.32 L1880.84,2213.32 L1882.35,2213.32 L1883.86,2213.32 L1885.36,2213.32 L1886.87,2213.32 L1888.38,2213.32 L1889.89,2213.32 L1891.40,2213.32 L1892.91,2213.32 L1894.41,2213.32 L1895.92,2213.31 L1897.43,2213.31 L1898.94,2213.31 L1900.45,2213.31 L1901.95,2213.31 L1903.46,2213.31 L1904.97,2213.31 L1906.48,2213.31 L1907.99,2213.31 L1909.50,2213.31 L1911.00,2213.31 L1912.51,2213.31 L1914.02,2213.31 L1915.53,2213.31 L1917.04,2213.31 L1918.54,2213.30 L1920.05,2213.30 L1921.56,2213.30 L1923.07,2213.30 L1924.58,2213.30 L1926.09,2213.30 L1927.59,2213.30 L1929.10,2213.30 L1930.61,2213.30 L1932.12,2213.30 L1933.63,2213.30 L1935.13,2213.30 L1936.64,2213.30 L1938.15,2213.30 L1939.66,2213.30 L1941.17,2213.30 L1942.68,2213.30 L1944.18,2213.30 L1945.69,2213.30 L1947.20,2213.30" fill="none" stroke="#4dbeee" stroke-width="6.0" stroke-linejoin="round"/>
<line x1="1431.40" y1="2213.30" x2="1947.20" y2="2213.30" stroke="#000" stroke-opacity="0.7" stroke-width="5.6" stroke-dasharray="18.8 18.8"/>
<line x1="1431.40" y1="2426.80" x2="1431.40" y2="2421.20" stroke="#262626" stroke-width="1.0"/>
<line x1="1603.33" y1="2426.80" x2="1603.33" y2="2421.20" stroke="#262626" stroke-width="1.0"/>
<line x1="1775.27" y1="2426.80" x2="1775.27" y2="2421.20" stroke="#262626" stroke-width="1.0"/>
<line x1="1947.20" y1="2426.80" x2="1947.20" y2="2421.20" stroke="#262626" stroke-width="1.0"/>
<line x1="1431.40" y1="2426.80" x2="1437.00" y2="2426.80" stroke="#262626" stroke-width="1.0"/>
<line x1="1431.40" y1="2251.85" x2="1437.00" y2="2251.85" stroke="#262626" stroke-width="1.0"/>
<line x1="1431.40" y1="2076.90" x2="1437.00" y2="2076.90" stroke="#262626" stroke-width="1.0"/>
<line x1="1431.40" y1="2374.13" x2="1434.60" y2="2374.13" stroke="#262626" stroke-width="1.0"/>
<line x1="1431.40" y1="2343.33" x2="1434.60" y2="2343.33" stroke="#262626" stroke-width="1.0"/>
<line x1="1431.40" y1="2321.47" x2="1434.60" y2="2321.47" stroke="#262626" stroke-width="1.0"/>
<line x1="1431.40" y1="2304.52" x2="1434.60" y2="2304.52" stroke="#262626" stroke-width="1.0"/>
<line x1="1431.40" y1="2290.66" x2="1434.60" y2="2290.66" stroke="#262626" stroke-width="1.0"/>
<line x1="1431.40" y1="2278.95" x2="1434.60" y2="2278.95" stroke="#262626" stroke-width="1.0"/>
<line x1="1431.40" y1="2268.80" x2="1434.60" y2="2268.80" stroke="#262626" stroke-width="1.0"/>
<line x1="1431.40" y1="2259.86" x2="1434.60" y2="2259.86" stroke="#262626" stroke-width="1.0"/>
<line x1="1431.40" y1="2199.18" x2="1434.60" y2="2199.18" stroke="#262626" stroke-width="1.0"/>
<line x1="1431.40" y1="2168.38" x2="1434.60" y2="2168.38" stroke="#262626" stroke-width="1.0"/>
<line x1="1431.40" y1="2146.52" x2="1434.60" y2="2146.52" stroke="#262626" stroke-width="1.0"/>
<line x1="1431.40" y1="2129.57" x2="1434.60" y2="2129.57" stroke="#262626" stroke-width="1.0"/>
<line x1="1431.40" y1="2115.71" x2="1434.60" y2="2115.71" stroke="#262626" stroke-width="1.0"/>
<line x1="1431.40" y1="2104.00" x2="1434.60" y2="2104.00" stroke="#262626" stroke-width="1.0"/>
<line x1="1431.40" y1="2093.85" x2="1434.60" y2="2093.85" stroke="#262626" stroke-width="1.0"/>
<line x1="1431.40" y1="2084.91" x2="1434.60" y2="2084.91" stroke="#262626" stroke-width="1.0"/>
<path d="M1431.40,2076.90 L1431.40,2426.80 L1947.20,2426.80" fill="none" stroke="#262626" stroke-width="1.05"/>
<text transform="translate(1423.95,2465.00)" fill="#262626" stroke="#262626" stroke-width="0.35"><tspan x="0.00" y="0.00" style="font-family:'Liberation Sans';font-size:26.80px">0</tspan></text>
<text transform="translate(1580.98,2465.00)" fill="#262626" stroke="#262626" stroke-width="0.35"><tspan x="0.00" y="0.00" style="font-family:'Liberation Sans';font-size:26.80px">200</tspan></text>
<text transform="translate(1752.91,2465.00)" fill="#262626" stroke="#262626" stroke-width="0.35"><tspan x="0.00" y="0.00" style="font-family:'Liberation Sans';font-size:26.80px">400</tspan></text>
<text transform="translate(1924.84,2465.00)" fill="#262626" stroke="#262626" stroke-width="0.35"><tspan x="0.00" y="0.00" style="font-family:'Liberation Sans';font-size:26.80px">600</tspan></text>
<text transform="translate(1379.42,2090.90)" fill="#262626" stroke="#262626" stroke-width="0.35"><tspan x="0.00" y="0.00" style="font-family:'Liberation Sans';font-size:26.80px">10</tspan><tspan x="29.81" y="-12.70" style="font-family:'Liberation Sans';font-size:22.60px">1</tspan></text>
<text transform="translate(1379.42,2265.85)" fill="#262626" stroke="#262626" stroke-width="0.35"><tspan x="0.00" y="0.00" style="font-family:'Liberation Sans';font-size:26.80px">10</tspan><tspan x="29.81" y="-12.70" style="font-family:'Liberation Sans';font-size:22.60px">0</tspan></text>
<text transform="translate(1371.89,2440.80)" fill="#262626" stroke="#262626" stroke-width="0.35"><tspan x="0.00" y="0.00" style="font-family:'Liberation Sans';font-size:26.80px">10</tspan><tspan x="29.81" y="-12.70" style="font-family:'Liberation Sans';font-size:22.60px">-1</tspan></text>
<text transform="translate(1633.91,2505.31) scale(1.0709,1)" fill="#262626" stroke="#fff" stroke-width="0.5"><tspan x="0.00" y="0.00" style="font-family:'Liberation Serif';font-size:39.10px">Time </tspan><tspan x="90.92" y="0.00" style="font-family:'Liberation Serif';font-size:39.10px;font-style:italic">t</tspan></text>
<text transform="translate(1803.51,2193.85) scale(0.7889,1)" fill="#000" stroke="#fff" stroke-width="0.5"><tspan x="0.00" y="0.00" style="font-family:'Liberation Serif';font-size:54.59px;font-style:italic">c</tspan><tspan x="24.23" y="0.00" style="font-family:'Liberation Serif';font-size:54.59px">*</tspan></text>
<rect x="164.70" y="2243.80" width="515.40" height="157.40" fill="#fff" stroke="#262626" stroke-width="1.05"/>
<line x1="171.10" y1="2271.60" x2="228.60" y2="2271.60" stroke="#0072bd" stroke-width="6.0"/>
<text transform="translate(234.47,2281.26) scale(1.0682,1)" fill="#000" stroke="#fff" stroke-width="0.5"><tspan x="0.00" y="0.00" style="font-family:'Liberation Serif';font-size:40.65px;font-style:italic">f</tspan><tspan x="11.29" y="6.50" style="font-family:'Liberation Serif';font-size:29.27px">0</tspan><tspan x="25.93" y="0.00" style="font-family:'Liberation Serif';font-size:40.65px">(0) = 1</tspan></text>
<line x1="171.10" y1="2322.80" x2="228.60" y2="2322.80" stroke="#d95319" stroke-width="6.0"/>
<text transform="translate(234.48,2331.86) scale(1.0419,1)" fill="#000" stroke="#fff" stroke-width="0.5"><tspan x="0.00" y="0.00" style="font-family:'Liberation Serif';font-size:40.65px;font-style:italic">f</tspan><tspan x="11.29" y="6.50" style="font-family:'Liberation Serif';font-size:29.27px">0</tspan><tspan x="25.93" y="0.00" style="font-family:'Liberation Serif';font-size:40.65px">(0) = 0.8</tspan></text>
<line x1="171.10" y1="2372.80" x2="228.60" y2="2372.80" stroke="#edb120" stroke-width="6.0"/>
<text transform="translate(234.48,2382.46) scale(1.0394,1)" fill="#000" stroke="#fff" stroke-width="0.5"><tspan x="0.00" y="0.00" style="font-family:'Liberation Serif';font-size:40.65px;font-style:italic">f</tspan><tspan x="11.29" y="6.50" style="font-family:'Liberation Serif';font-size:29.27px">0</tspan><tspan x="25.93" y="0.00" style="font-family:'Liberation Serif';font-size:40.65px">(0) = 0.6</tspan></text>
<line x1="419.20" y1="2271.60" x2="476.70" y2="2271.60" stroke="#7e2f8e" stroke-width="6.0"/>
<text transform="translate(482.68,2281.26) scale(1.0374,1)" fill="#000" stroke="#fff" stroke-width="0.5"><tspan x="0.00" y="0.00" style="font-family:'Liberation Serif';font-size:40.65px;font-style:italic">f</tspan><tspan x="11.29" y="6.50" style="font-family:'Liberation Serif';font-size:29.27px">0</tspan><tspan x="25.93" y="0.00" style="font-family:'Liberation Serif';font-size:40.65px">(0) = 0.4</tspan></text>
<line x1="419.20" y1="2322.80" x2="476.70" y2="2322.80" stroke="#77ac30" stroke-width="6.0"/>
<text transform="translate(482.67,2331.86) scale(1.0476,1)" fill="#000" stroke="#fff" stroke-width="0.5"><tspan x="0.00" y="0.00" style="font-family:'Liberation Serif';font-size:40.65px;font-style:italic">f</tspan><tspan x="11.29" y="6.50" style="font-family:'Liberation Serif';font-size:29.27px">0</tspan><tspan x="25.93" y="0.00" style="font-family:'Liberation Serif';font-size:40.65px">(0) = 0.2</tspan></text>
<line x1="419.20" y1="2372.80" x2="476.70" y2="2372.80" stroke="#4dbeee" stroke-width="6.0"/>
<text transform="translate(482.68,2382.46) scale(1.0228,1)" fill="#000" stroke="#fff" stroke-width="0.5"><tspan x="0.00" y="0.00" style="font-family:'Liberation Serif';font-size:40.65px;font-style:italic">f</tspan><tspan x="11.29" y="6.50" style="font-family:'Liberation Serif';font-size:29.27px">0</tspan><tspan x="25.93" y="0.00" style="font-family:'Liberation Serif';font-size:40.65px">(0) = 0.01</tspan></text>
<g transform="rotate(-90)"><text transform="translate(-965.34,77.90) scale(1.0494,1)" fill="#000" stroke="#fff" stroke-width="0.5"><tspan x="0.00" y="0.00" style="font-family:'Liberation Serif';font-size:39.40px">Dose </tspan><tspan x="90.82" y="0.00" style="font-family:'Liberation Serif';font-size:39.40px;font-style:italic">c</tspan><tspan x="108.31" y="0.00" style="font-family:'Liberation Serif';font-size:39.40px"> (relative to </tspan><tspan x="299.75" y="0.00" style="font-family:'Liberation Serif';font-size:39.40px;font-style:italic">EC</tspan><tspan x="350.10" y="-14.18" style="font-family:'Liberation Serif';font-size:28.37px;font-style:italic">d</tspan><tspan x="350.10" y="8.67" style="font-family:'Liberation Serif';font-size:28.37px">50</tspan><tspan x="378.46" y="0.00" style="font-family:'Liberation Serif';font-size:39.40px">)</tspan></text></g>
<g transform="rotate(-90)"><text transform="translate(-1485.58,83.30) scale(1.0189,1)" fill="#000" stroke="#fff" stroke-width="0.5"><tspan x="0.00" y="0.00" style="font-family:'Liberation Serif';font-size:40.40px">Sensitive cell proportion </tspan><tspan x="407.29" y="0.00" style="font-family:'Liberation Serif';font-size:40.40px;font-style:italic">f</tspan><tspan x="418.51" y="6.46" style="font-family:'Liberation Serif';font-size:29.09px">0</tspan></text></g>
<g transform="rotate(-90)"><text transform="translate(-1986.60,66.40) scale(1.0081,1)" fill="#000" stroke="#fff" stroke-width="0.5"><tspan x="0.00" y="0.00" style="font-family:'Liberation Serif';font-size:39.70px">Tumor size </tspan><tspan x="188.22" y="0.00" style="font-family:'Liberation Serif';font-size:39.70px;font-style:italic">n</tspan><tspan x="208.07" y="0.00" style="font-family:'Liberation Serif';font-size:39.70px">(</tspan><tspan x="221.30" y="0.00" style="font-family:'Liberation Serif';font-size:39.70px;font-style:italic">t</tspan><tspan x="232.33" y="0.00" style="font-family:'Liberation Serif';font-size:39.70px">)  (log scale)</tspan></text></g>
<g transform="rotate(-90)"><text transform="translate(-2454.32,67.70) scale(1.0447,1)" fill="#000" stroke="#fff" stroke-width="0.5"><tspan x="0.00" y="0.00" style="font-family:'Liberation Serif';font-size:38.80px">Dose </tspan><tspan x="89.44" y="0.00" style="font-family:'Liberation Serif';font-size:38.80px;font-style:italic">c</tspan><tspan x="106.66" y="0.00" style="font-family:'Liberation Serif';font-size:38.80px"> (relative to </tspan><tspan x="295.18" y="0.00" style="font-family:'Liberation Serif';font-size:38.80px;font-style:italic">EC</tspan><tspan x="344.77" y="-13.97" style="font-family:'Liberation Serif';font-size:27.94px;font-style:italic">d</tspan><tspan x="344.77" y="8.54" style="font-family:'Liberation Serif';font-size:27.94px">50</tspan><tspan x="372.70" y="0.00" style="font-family:'Liberation Serif';font-size:38.80px">)</tspan></text></g></svg></body></html>
